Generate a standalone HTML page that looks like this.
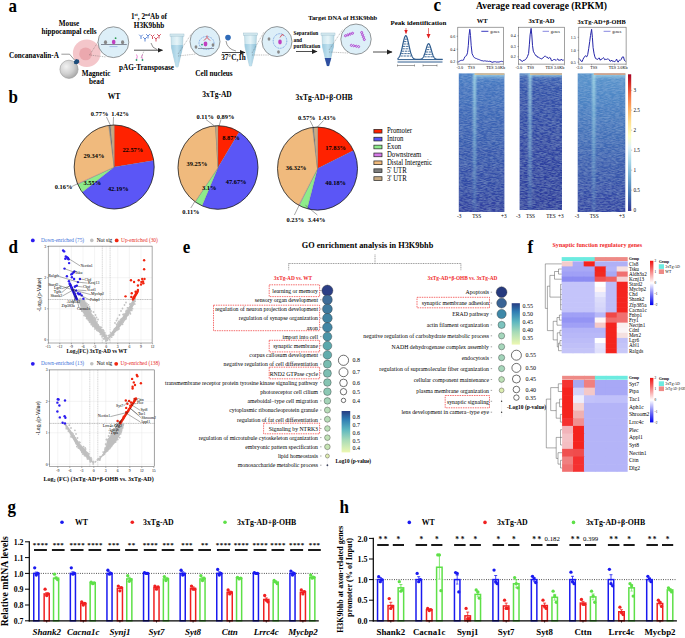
<!DOCTYPE html>
<html><head><meta charset="utf-8"><style>
html,body{margin:0;padding:0;background:#fff;width:685px;height:638px;overflow:hidden}
svg{display:block}
text{font-family:"Liberation Serif", serif;font-weight:bold}
</style></head><body>
<svg width="685" height="638" viewBox="0 0 685 638">
<text x="8.4" y="11.8" font-size="17" transform="matrix(1,0,0,1.1,0,-1.180)">a</text>
<text x="8.5" y="102.6" font-size="17" transform="matrix(1,0,0,1.1,0,-10.260)">b</text>
<text x="433.6" y="11.0" font-size="17" transform="matrix(1,0,0,1.1,0,-1.100)">c</text>
<text x="8.6" y="252.7" font-size="17" transform="matrix(1,0,0,1.1,0,-25.270)">d</text>
<text x="182.8" y="252.9" font-size="17" transform="matrix(1,0,0,1.1,0,-25.290)">e</text>
<text x="527.6" y="252.7" font-size="17" transform="matrix(1,0,0,1.1,0,-25.270)">f</text>
<text x="7.6" y="513.2" font-size="17" transform="matrix(1,0,0,1.1,0,-51.320)">g</text>
<text x="339.6" y="513.5" font-size="17" transform="matrix(1,0,0,1.1,0,-51.350)">h</text>
<defs>
<radialGradient id="bead" cx="0.35" cy="0.35" r="0.7"><stop offset="0" stop-color="#F2F2F2"/><stop offset="0.6" stop-color="#CFCFCF"/><stop offset="1" stop-color="#A8A8A8"/></radialGradient>
<linearGradient id="tube" x1="0" y1="0" x2="1" y2="0"><stop offset="0" stop-color="#C8E4EE"/><stop offset="0.5" stop-color="#E6F4F8"/><stop offset="1" stop-color="#B8DAE6"/></linearGradient>
<linearGradient id="tubeliq" x1="0" y1="0" x2="1" y2="0"><stop offset="0" stop-color="#9CCBE0"/><stop offset="0.5" stop-color="#BFE0EE"/><stop offset="1" stop-color="#8EC0D8"/></linearGradient>
<marker id="ah" markerWidth="6" markerHeight="6" refX="5" refY="3" orient="auto" markerUnits="userSpaceOnUse"><path d="M0,0.6 L5.5,3 L0,5.4 Z" fill="#222"/></marker>
<marker id="ahr" markerWidth="5" markerHeight="5" refX="4" refY="2.5" orient="auto" markerUnits="userSpaceOnUse"><path d="M0,0.5 L4.5,2.5 L0,4.5 Z" fill="#E02020"/></marker>
</defs>
<text x="69.0" y="26.0" font-size="7.2" text-anchor="middle">Mouse</text>
<text x="69.0" y="34.2" font-size="7.2" text-anchor="middle">hippocampal cells</text>
<text x="34.0" y="58.2" font-size="7.2" text-anchor="middle">Concanavalin-A</text>
<text x="96.0" y="76.2" font-size="7.2" text-anchor="middle">Magnetic</text>
<text x="96.5" y="84.3" font-size="7.2" text-anchor="middle">bead</text>
<text x="149.0" y="18.9" font-size="7.2" text-anchor="middle">1<tspan font-size="4.5" dy="-2.5">st</tspan><tspan dy="2.5">, 2</tspan><tspan font-size="4.5" dy="-2.5">nd</tspan><tspan dy="2.5">Ab of</tspan></text>
<text x="149.0" y="27.6" font-size="7.2" text-anchor="middle">H3K9bhb</text>
<text x="146.5" y="70.0" font-size="7.2" text-anchor="middle">pAG-Transposase</text>
<text x="214.0" y="76.3" font-size="7.2" text-anchor="middle">Cell nucleus</text>
<text x="233.5" y="60.3" font-size="7.2" text-anchor="middle">37°C,1h</text>
<text x="293.5" y="35.2" font-size="5.3">Separation</text>
<text x="293.5" y="41.6" font-size="5.3">and</text>
<text x="293.5" y="48.0" font-size="5.3">purification</text>
<text x="342.7" y="19.8" font-size="7.0" text-anchor="middle" textLength="69" lengthAdjust="spacingAndGlyphs">Target DNA of  H3K9bhb</text>
<text x="418.4" y="25.0" font-size="6.95" text-anchor="middle">Peak identification</text>
<circle cx="86.70" cy="53.30" r="13.80" fill="#F4C6CA" stroke="none" stroke-width="0.5"/>
<circle cx="85.60" cy="53.90" r="6.40" fill="#EBA8AE" stroke="none" stroke-width="0.5"/>
<circle cx="69.00" cy="69.30" r="9.10" fill="url(#bead)" stroke="#9A9A9A" stroke-width="0.6"/>
<path d="M73.8,61.5 l2.2,-2.4 l2.8,0.6 l0.6,2.6 l-2.2,2 l-2.8,-0.4 z" fill="#1E4D7A" stroke="none" stroke-width="0.5"/>
<line x1="61.4" y1="54.2" x2="69.6" y2="54.2" stroke="#333" stroke-width="0.5"/>
<line x1="69.6" y1="54.2" x2="74.5" y2="60.0" stroke="#333" stroke-width="0.5"/>
<line x1="89.5" y1="55.0" x2="102.0" y2="36.0" stroke="#555" stroke-width="0.4" stroke-dasharray="1,0.8"/>
<line x1="89.5" y1="55.0" x2="106.0" y2="57.0" stroke="#555" stroke-width="0.4" stroke-dasharray="1,0.8"/>
<circle cx="113.40" cy="42.20" r="15.40" fill="#DDEFF8" stroke="#555" stroke-width="0.6"/>
<line x1="101.0" y1="44.5" x2="126.8" y2="44.5" stroke="#445" stroke-width="0.6"/>
<ellipse cx="105.5" cy="42.3" rx="1.6" ry="2" fill="#888"/>
<ellipse cx="122.6" cy="42.3" rx="1.6" ry="2" fill="#888"/>
<ellipse cx="113.7" cy="42" rx="1.8" ry="2.2" fill="#C040C0"/>
<circle cx="115.60" cy="38.20" r="0.90" fill="#2A9A50" stroke="none" stroke-width="0.5"/>
<line x1="109.5" y1="46.6" x2="117.5" y2="46.6" stroke="#6A8AD8" stroke-width="0.5"/>
<path d="M141,36.5 l0,2.5 M141,36.5 l-1.8,-1.8 M141,36.5 l1.8,-1.8" fill="none" stroke="#4A78D0" stroke-width="0.9"/>
<path d="M145,39 l0,2.5 M145,39 l-1.8,-1.8 M145,39 l1.8,-1.8" fill="none" stroke="#4A78D0" stroke-width="0.9"/>
<path d="M148,36 l0,2.5 M148,36 l-1.8,-1.8 M148,36 l1.8,-1.8" fill="none" stroke="#4A78D0" stroke-width="0.9"/>
<path d="M152.5,36.5 l0,2.5 M152.5,36.5 l-1.8,-1.8 M152.5,36.5 l1.8,-1.8" fill="none" stroke="#D04050" stroke-width="0.9"/>
<path d="M156,39 l0,2.5 M156,39 l-1.8,-1.8 M156,39 l1.8,-1.8" fill="none" stroke="#D04050" stroke-width="0.9"/>
<path d="M159,36 l0,2.5 M159,36 l-1.8,-1.8 M159,36 l1.8,-1.8" fill="none" stroke="#D04050" stroke-width="0.9"/>
<line x1="134" y1="50.2" x2="162.5" y2="50.2" stroke="#222" stroke-width="0.8" marker-end="url(#ah)"/>
<path d="M151,43 q1,5 6,6.5" fill="none" stroke="#222" stroke-width="0.5"/>
<path d="M136.5,54.5 q1.5,1.5 0,5 M142.5,54.5 q-1.5,1.5 0,5" fill="none" stroke="#E050C0" stroke-width="0.7"/>
<circle cx="136.50" cy="60.00" r="0.90" fill="#2A9A70" stroke="none" stroke-width="0.5"/>
<circle cx="142.50" cy="60.00" r="0.90" fill="#2A9A70" stroke="none" stroke-width="0.5"/>
<line x1="141.0" y1="58.0" x2="144.0" y2="51.0" stroke="#555" stroke-width="0.4" stroke-dasharray="1,0.8"/>
<rect x="170.00" y="34.00" width="14.00" height="2.20" fill="#D8ECF2" stroke="#8FB5C5" stroke-width="0.4"/>
<path d="M171.0,36.2 L183.0,36.2 L182.5,48 L178.0,67 L176.0,67 L171.5,48 Z" fill="url(#tube)" stroke="#8FB5C5" stroke-width="0.4"/>
<path d="M171.2,45 L182.8,45 L182.5,48 L178.0,67 L176.0,67 L171.5,48 Z" fill="url(#tubeliq)" stroke="none" stroke-width="0.5"/>
<rect x="243.50" y="33.00" width="14.00" height="2.20" fill="#D8ECF2" stroke="#8FB5C5" stroke-width="0.4"/>
<path d="M244.5,35.2 L256.5,35.2 L256,47 L251.5,66 L249.5,66 L245,47 Z" fill="url(#tube)" stroke="#8FB5C5" stroke-width="0.4"/>
<path d="M244.7,44 L256.3,44 L256,47 L251.5,66 L249.5,66 L245,47 Z" fill="url(#tubeliq)" stroke="none" stroke-width="0.5"/>
<rect x="321.00" y="33.00" width="14.00" height="2.20" fill="#D8ECF2" stroke="#8FB5C5" stroke-width="0.4"/>
<path d="M322.0,35.2 L334.0,35.2 L333.5,47 L329.0,66 L327.0,66 L322.5,47 Z" fill="url(#tube)" stroke="#8FB5C5" stroke-width="0.4"/>
<path d="M322.2,44 L333.8,44 L333.5,47 L329.0,66 L327.0,66 L322.5,47 Z" fill="url(#tubeliq)" stroke="none" stroke-width="0.5"/>
<path d="M324.7,58 L331.3,58 L329.0,66 L327.0,66 Z" fill="#2E4EA0" stroke="none" stroke-width="0.5"/>
<line x1="178.0" y1="54.0" x2="192.0" y2="33.0" stroke="#555" stroke-width="0.4" stroke-dasharray="1,0.8"/>
<line x1="178.0" y1="56.0" x2="196.0" y2="54.0" stroke="#555" stroke-width="0.4" stroke-dasharray="1,0.8"/>
<line x1="252.0" y1="53.0" x2="264.0" y2="32.0" stroke="#555" stroke-width="0.4" stroke-dasharray="1,0.8"/>
<line x1="252.0" y1="55.0" x2="269.0" y2="55.0" stroke="#555" stroke-width="0.4" stroke-dasharray="1,0.8"/>
<line x1="329.0" y1="50.0" x2="343.0" y2="29.0" stroke="#555" stroke-width="0.4" stroke-dasharray="1,0.8"/>
<line x1="329.0" y1="52.0" x2="348.0" y2="53.0" stroke="#555" stroke-width="0.4" stroke-dasharray="1,0.8"/>
<circle cx="205.00" cy="41.60" r="15.00" fill="#DDEFF8" stroke="#555" stroke-width="0.6"/>
<ellipse cx="206.5" cy="43" rx="7.5" ry="6.5" fill="none" stroke="#3A70D0" stroke-width="0.6" stroke-dasharray="1,0.7"/>
<ellipse cx="196" cy="47" rx="1.4" ry="1.8" fill="#888"/>
<ellipse cx="213" cy="45" rx="1.4" ry="1.8" fill="#888"/>
<ellipse cx="205.5" cy="44" rx="1.9" ry="2.4" fill="#C040C0"/>
<path d="M204,40.5 l3,-3 l3,3 M207,37.5 l0,-2" fill="none" stroke="#D03040" stroke-width="0.8"/>
<circle cx="202.00" cy="44.60" r="0.90" fill="#2A9A70" stroke="none" stroke-width="0.5"/>
<line x1="198.0" y1="48.5" x2="214.0" y2="48.5" stroke="#445" stroke-width="0.5"/>
<circle cx="277.00" cy="41.60" r="15.00" fill="#DDEFF8" stroke="#555" stroke-width="0.6"/>
<ellipse cx="280" cy="41" rx="6.8" ry="7.3" fill="none" stroke="#3A70D0" stroke-width="0.6" stroke-dasharray="1,0.7"/>
<ellipse cx="280" cy="42" rx="1.8" ry="2.4" fill="#C040C0"/>
<path d="M280,37.5 l2,-3 l2,1" fill="none" stroke="#D03040" stroke-width="0.8"/>
<ellipse cx="269" cy="39" rx="1.4" ry="1.8" fill="#888"/>
<ellipse cx="278.5" cy="52" rx="1.4" ry="1.8" fill="#888"/>
<circle cx="356.00" cy="39.20" r="15.20" fill="#DDEFF8" stroke="#555" stroke-width="0.6"/>
<g transform="rotate(-20 349 34.5)"><path d="M344,34.5 q1.25,-2.5 2.5,0 t2.5,0 t2.5,0 t2.5,0 M344,34.5 q1.25,2.5 2.5,0 t2.5,0 t2.5,0 t2.5,0" fill="none" stroke="#B040D0" stroke-width="0.8"/></g>
<g transform="rotate(70 363 36)"><path d="M358,36 q1.25,-2.5 2.5,0 t2.5,0 t2.5,0 t2.5,0 M358,36 q1.25,2.5 2.5,0 t2.5,0 t2.5,0 t2.5,0" fill="none" stroke="#B040D0" stroke-width="0.8"/></g>
<g transform="rotate(10 355 46)"><path d="M350,46 q1.25,-2.5 2.5,0 t2.5,0 t2.5,0 t2.5,0 M350,46 q1.25,2.5 2.5,0 t2.5,0 t2.5,0 t2.5,0" fill="none" stroke="#B040D0" stroke-width="0.8"/></g>
<circle cx="228.00" cy="37.60" r="2.80" fill="#2F6BB8" stroke="none" stroke-width="0.5"/>
<path d="M226,41 q1,8 10,10" fill="none" stroke="#333" stroke-width="0.5"/>
<line x1="222" y1="52.5" x2="245" y2="52.5" stroke="#222" stroke-width="0.8" marker-end="url(#ah)"/>
<line x1="296" y1="51.5" x2="317" y2="51.5" stroke="#222" stroke-width="0.8" marker-end="url(#ah)"/>
<line x1="373" y1="52" x2="392" y2="52" stroke="#222" stroke-width="0.8" marker-end="url(#ah)"/>
<line x1="404.7" y1="39.2" x2="406.9" y2="39.2" stroke="#2E5C8E" stroke-width="0.9" stroke-dasharray="2.4,0.7"/>
<line x1="404.0" y1="41.6" x2="407.6" y2="41.6" stroke="#2E5C8E" stroke-width="0.9" stroke-dasharray="2.4,0.7"/>
<line x1="403.5" y1="44.0" x2="408.1" y2="44.0" stroke="#2E5C8E" stroke-width="0.9" stroke-dasharray="2.4,0.7"/>
<line x1="403.0" y1="46.4" x2="408.6" y2="46.4" stroke="#2E5C8E" stroke-width="0.9" stroke-dasharray="2.4,0.7"/>
<line x1="402.4" y1="48.8" x2="409.2" y2="48.8" stroke="#2E5C8E" stroke-width="0.9" stroke-dasharray="2.4,0.7"/>
<line x1="401.9" y1="51.2" x2="409.7" y2="51.2" stroke="#2E5C8E" stroke-width="0.9" stroke-dasharray="2.4,0.7"/>
<line x1="401.2" y1="53.6" x2="410.4" y2="53.6" stroke="#2E5C8E" stroke-width="0.9" stroke-dasharray="2.4,0.7"/>
<line x1="400.4" y1="56.0" x2="411.2" y2="56.0" stroke="#2E5C8E" stroke-width="0.9" stroke-dasharray="2.4,0.7"/>
<line x1="427.3" y1="47.2" x2="429.9" y2="47.2" stroke="#2E5C8E" stroke-width="0.9" stroke-dasharray="2.4,0.7"/>
<line x1="426.6" y1="49.6" x2="430.6" y2="49.6" stroke="#2E5C8E" stroke-width="0.9" stroke-dasharray="2.4,0.7"/>
<line x1="425.9" y1="52.0" x2="431.3" y2="52.0" stroke="#2E5C8E" stroke-width="0.9" stroke-dasharray="2.4,0.7"/>
<line x1="425.2" y1="54.4" x2="432.0" y2="54.4" stroke="#2E5C8E" stroke-width="0.9" stroke-dasharray="2.4,0.7"/>
<line x1="424.3" y1="56.8" x2="432.9" y2="56.8" stroke="#2E5C8E" stroke-width="0.9" stroke-dasharray="2.4,0.7"/>
<polyline points="397.50,58.74 397.70,58.62 397.91,58.47 398.12,58.30 398.32,58.11 398.52,57.89 398.73,57.64 398.94,57.36 399.14,57.04 399.35,56.69 399.55,56.29 399.75,55.86 399.96,55.38 400.17,54.86 400.37,54.29 400.57,53.67 400.78,53.01 400.99,52.31 401.19,51.56 401.39,50.76 401.60,49.93 401.81,49.07 402.01,48.18 402.21,47.26 402.42,46.32 402.62,45.37 402.83,44.42 403.04,43.48 403.24,42.55 403.44,41.64 403.65,40.77 403.86,39.93 404.06,39.15 404.26,38.43 404.47,37.78 404.68,37.21 404.88,36.72 405.08,36.32 405.29,36.02 405.50,35.81 405.70,35.71 405.90,35.71 406.11,35.82 406.31,36.02 406.52,36.33 406.73,36.73 406.93,37.22 407.13,37.80 407.34,38.45 407.55,39.17 407.75,39.95 407.95,40.79 408.16,41.66 408.37,42.57 408.57,43.50 408.77,44.45 408.98,45.40 409.19,46.34 409.39,47.28 409.60,48.20 409.80,49.09 410.00,49.95 410.21,50.78 410.42,51.57 410.62,52.32 410.82,53.03 411.03,53.69 411.24,54.30 411.44,54.87 411.64,55.39 411.85,55.87 412.06,56.30 412.26,56.70 412.46,57.05 412.67,57.37 412.88,57.65 413.08,57.90 413.29,58.12 413.49,58.31 413.69,58.47 413.90,58.62 414.11,58.75 414.31,58.85 414.51,58.94 414.72,59.02 414.93,59.09 415.13,59.14 415.33,59.19 415.54,59.23 415.75,59.26 415.95,59.29 416.15,59.31 416.36,59.33 416.56,59.34 416.77,59.35 416.98,59.36 417.18,59.37 417.38,59.38 417.59,59.38 417.80,59.39 418.00,59.39 418.20,59.39 418.41,59.39 418.62,59.38 418.82,59.38 419.02,59.37 419.23,59.36 419.44,59.35 419.64,59.34 419.85,59.32 420.05,59.30 420.25,59.27 420.46,59.23 420.67,59.19 420.87,59.14 421.07,59.08 421.28,59.00 421.49,58.91 421.69,58.81 421.89,58.68 422.10,58.53 422.31,58.36 422.51,58.17 422.71,57.94 422.92,57.68 423.12,57.39 423.33,57.06 423.54,56.70 423.74,56.29 423.94,55.85 424.15,55.36 424.36,54.84 424.56,54.27 424.76,53.67 424.97,53.04 425.18,52.38 425.38,51.69 425.58,50.98 425.79,50.27 426.00,49.54 426.20,48.82 426.40,48.12 426.61,47.43 426.81,46.78 427.02,46.17 427.23,45.61 427.43,45.11 427.63,44.67 427.84,44.31 428.05,44.03 428.25,43.83 428.45,43.72 428.66,43.70 428.87,43.78 429.07,43.94 429.27,44.18 429.48,44.51 429.69,44.92 429.89,45.39 430.10,45.93 430.30,46.52 430.50,47.16 430.71,47.83 430.92,48.53 431.12,49.24 431.32,49.97 431.53,50.69 431.74,51.40 431.94,52.10 432.14,52.77 432.35,53.42 432.56,54.03 432.76,54.61 432.96,55.15 433.17,55.65 433.38,56.11 433.58,56.53 433.78,56.92 433.99,57.26 434.19,57.57 434.40,57.84 434.61,58.08 434.81,58.29 435.01,58.47 435.22,58.62 435.43,58.76 435.63,58.87 435.83,58.97 436.04,59.05 436.25,59.11 436.45,59.17 436.65,59.22 436.86,59.25 437.06,59.28 437.27,59.31 437.48,59.33 437.68,59.35 437.88,59.36 438.09,59.37 438.30,59.38 438.50,59.38 438.70,59.39 438.91,59.39 439.12,59.39 439.32,59.39 439.52,59.40 439.73,59.40 439.94,59.40 440.14,59.40 440.35,59.40 440.55,59.40 440.75,59.40 440.96,59.40 441.17,59.40 441.37,59.40 441.57,59.40 441.78,59.40 441.99,59.40 442.19,59.40 442.39,59.40 442.60,59.40" fill="none" stroke="#2E5C8E" stroke-width="1.2"/>
<line x1="397.5" y1="59.6" x2="442.5" y2="59.6" stroke="#2E5C8E" stroke-width="1.0"/>
<line x1="397.5" y1="62.0" x2="442.5" y2="62.0" stroke="#2E5C8E" stroke-width="1.0"/>
<line x1="397.5" y1="65.5" x2="414.5" y2="65.5" stroke="#444" stroke-width="0.5"/>
<line x1="397.5" y1="64.5" x2="397.5" y2="66.5" stroke="#444" stroke-width="0.5"/>
<line x1="414.5" y1="64.5" x2="414.5" y2="66.5" stroke="#444" stroke-width="0.5"/>
<line x1="423.0" y1="65.5" x2="437.0" y2="65.5" stroke="#444" stroke-width="0.5"/>
<line x1="423.0" y1="64.5" x2="423.0" y2="66.5" stroke="#444" stroke-width="0.5"/>
<line x1="437.0" y1="64.5" x2="437.0" y2="66.5" stroke="#444" stroke-width="0.5"/>
<line x1="406" y1="28" x2="406" y2="33.5" stroke="#E02020" stroke-width="0.6" marker-end="url(#ahr)"/>
<line x1="428.5" y1="28" x2="428.5" y2="38" stroke="#E02020" stroke-width="0.6" marker-end="url(#ahr)"/>
<path d="M114.20,167.00 L114.20,125.00 A40,42 0 0 1 153.73,160.61 Z" fill="#FF2200" stroke="#666" stroke-width="0.2"/>
<path d="M114.20,167.00 L153.73,160.61 A40,42 0 0 1 82.20,192.20 Z" fill="#5B56F6" stroke="#666" stroke-width="0.2"/>
<path d="M114.20,167.00 L82.20,192.20 A40,42 0 0 1 77.68,184.14 Z" fill="#8EEB8A" stroke="#666" stroke-width="0.2"/>
<path d="M114.20,167.00 L77.68,184.14 A40,42 0 0 1 77.52,183.75 Z" fill="#D77BE8" stroke="#666" stroke-width="0.2"/>
<path d="M114.20,167.00 L77.52,183.75 A40,42 0 0 1 108.71,125.40 Z" fill="#F0BA7D" stroke="#666" stroke-width="0.2"/>
<path d="M114.20,167.00 L108.71,125.40 A40,42 0 0 1 110.64,125.17 Z" fill="#7E7E7E" stroke="#666" stroke-width="0.2"/>
<path d="M114.20,167.00 L110.64,125.17 A40,42 0 0 1 114.20,125.00 Z" fill="#C8AA82" stroke="#666" stroke-width="0.2"/>
<ellipse cx="114.2" cy="167" rx="40" ry="42" fill="none" stroke="#111" stroke-width="0.7"/>
<path d="M218.00,167.50 L218.00,125.70 A40,41.8 0 0 1 239.16,132.03 Z" fill="#FF2200" stroke="#666" stroke-width="0.2"/>
<path d="M218.00,167.50 L239.16,132.03 A40,41.8 0 0 1 202.02,205.82 Z" fill="#5B56F6" stroke="#666" stroke-width="0.2"/>
<path d="M218.00,167.50 L202.02,205.82 A40,41.8 0 0 1 195.23,201.86 Z" fill="#8EEB8A" stroke="#666" stroke-width="0.2"/>
<path d="M218.00,167.50 L195.23,201.86 A40,41.8 0 0 1 195.00,201.70 Z" fill="#D77BE8" stroke="#666" stroke-width="0.2"/>
<path d="M218.00,167.50 L195.00,201.70 A40,41.8 0 0 1 215.49,125.78 Z" fill="#F0BA7D" stroke="#666" stroke-width="0.2"/>
<path d="M218.00,167.50 L215.49,125.78 A40,41.8 0 0 1 215.76,125.77 Z" fill="#7E7E7E" stroke="#666" stroke-width="0.2"/>
<path d="M218.00,167.50 L215.76,125.77 A40,41.8 0 0 1 218.00,125.70 Z" fill="#C8AA82" stroke="#666" stroke-width="0.2"/>
<ellipse cx="218" cy="167.5" rx="40" ry="41.8" fill="none" stroke="#111" stroke-width="0.7"/>
<path d="M317.50,168.60 L317.50,127.10 A40,41.5 0 0 1 353.51,150.53 Z" fill="#FF2200" stroke="#666" stroke-width="0.2"/>
<path d="M317.50,168.60 L353.51,150.53 A40,41.5 0 0 1 307.19,208.70 Z" fill="#5B56F6" stroke="#666" stroke-width="0.2"/>
<path d="M317.50,168.60 L307.19,208.70 A40,41.5 0 0 1 299.14,205.47 Z" fill="#8EEB8A" stroke="#666" stroke-width="0.2"/>
<path d="M317.50,168.60 L299.14,205.47 A40,41.5 0 0 1 298.63,205.19 Z" fill="#D77BE8" stroke="#666" stroke-width="0.2"/>
<path d="M317.50,168.60 L298.63,205.19 A40,41.5 0 0 1 312.49,127.43 Z" fill="#F0BA7D" stroke="#666" stroke-width="0.2"/>
<path d="M317.50,168.60 L312.49,127.43 A40,41.5 0 0 1 313.91,127.27 Z" fill="#7E7E7E" stroke="#666" stroke-width="0.2"/>
<path d="M317.50,168.60 L313.91,127.27 A40,41.5 0 0 1 317.50,127.10 Z" fill="#C8AA82" stroke="#666" stroke-width="0.2"/>
<ellipse cx="317.5" cy="168.6" rx="40" ry="41.5" fill="none" stroke="#111" stroke-width="0.7"/>
<text x="114.0" y="99.2" font-size="7.6" text-anchor="middle">WT</text>
<text x="217.0" y="97.0" font-size="7.5" text-anchor="middle">3xTg-AD</text>
<text x="324.0" y="99.8" font-size="7.5" text-anchor="middle">3xTg-AD+β-OHB</text>
<text x="132.8" y="152.4" font-size="6.4" text-anchor="middle">22.57%</text>
<text x="118.3" y="190.8" font-size="6.4" text-anchor="middle">42.19%</text>
<text x="93.9" y="158.0" font-size="6.4" text-anchor="middle">29.34%</text>
<text x="92.3" y="184.8" font-size="6.4" text-anchor="middle">3.55%</text>
<text x="63.5" y="189.0" font-size="6.4" text-anchor="middle">0.16%</text>
<text x="99.5" y="116.1" font-size="6.4" text-anchor="middle">0.77%</text>
<text x="120.0" y="116.1" font-size="6.4" text-anchor="middle">1.42%</text>
<text x="231.0" y="140.3" font-size="6.4" text-anchor="middle">8.87%</text>
<text x="236.1" y="184.1" font-size="6.4" text-anchor="middle">47.67%</text>
<text x="197.0" y="166.4" font-size="6.4" text-anchor="middle">39.25%</text>
<text x="209.2" y="190.2" font-size="6.4" text-anchor="middle">3.1%</text>
<text x="190.9" y="214.2" font-size="6.4" text-anchor="middle">0.11%</text>
<text x="205.2" y="118.5" font-size="6.4" text-anchor="middle">0.11%</text>
<text x="225.5" y="118.5" font-size="6.4" text-anchor="middle">0.89%</text>
<text x="335.6" y="149.7" font-size="6.4" text-anchor="middle">17.83%</text>
<text x="335.6" y="185.3" font-size="6.4" text-anchor="middle">40.18%</text>
<text x="296.1" y="170.4" font-size="6.4" text-anchor="middle">36.32%</text>
<text x="306.7" y="119.5" font-size="6.4" text-anchor="middle">0.57%</text>
<text x="327.0" y="119.5" font-size="6.4" text-anchor="middle">1.43%</text>
<text x="295.3" y="222.2" font-size="6.4" text-anchor="middle">0.23%</text>
<text x="316.6" y="222.2" font-size="6.4" text-anchor="middle">3.44%</text>
<line x1="106.5" y1="117.0" x2="110.5" y2="125.5" stroke="#222" stroke-width="0.4"/>
<line x1="113.5" y1="117.0" x2="113.2" y2="125.0" stroke="#222" stroke-width="0.4"/>
<line x1="72.0" y1="186.5" x2="78.0" y2="183.5" stroke="#222" stroke-width="0.4"/>
<line x1="206.0" y1="119.5" x2="214.5" y2="126.0" stroke="#222" stroke-width="0.4"/>
<line x1="221.0" y1="119.5" x2="219.0" y2="126.0" stroke="#222" stroke-width="0.4"/>
<line x1="190.8" y1="208.0" x2="194.6" y2="201.9" stroke="#222" stroke-width="0.4"/>
<line x1="310.0" y1="120.5" x2="313.5" y2="127.5" stroke="#222" stroke-width="0.4"/>
<line x1="323.5" y1="120.5" x2="317.0" y2="127.5" stroke="#222" stroke-width="0.4"/>
<line x1="294.4" y1="215.0" x2="298.8" y2="206.0" stroke="#222" stroke-width="0.4"/>
<line x1="317.4" y1="215.0" x2="305.5" y2="205.3" stroke="#222" stroke-width="0.4"/>
<rect x="373.90" y="129.35" width="8.10" height="3.70" fill="#FF2200" stroke="#222" stroke-width="0.7"/>
<text x="386.9" y="133.5" font-size="6.75" style="font-weight:normal" transform="matrix(1,0,0,1.08,0,-10.680)">Promoter</text>
<rect x="373.90" y="137.25" width="8.10" height="3.70" fill="#5B56F6" stroke="#222" stroke-width="0.7"/>
<text x="386.9" y="141.4" font-size="6.75" style="font-weight:normal" transform="matrix(1,0,0,1.08,0,-11.312)">Intron</text>
<rect x="373.90" y="145.15" width="8.10" height="3.70" fill="#8EEB8A" stroke="#222" stroke-width="0.7"/>
<text x="386.9" y="149.3" font-size="6.75" style="font-weight:normal" transform="matrix(1,0,0,1.08,0,-11.944)">Exon</text>
<rect x="373.90" y="153.05" width="8.10" height="3.70" fill="#D77BE8" stroke="#222" stroke-width="0.7"/>
<text x="386.9" y="157.2" font-size="6.75" style="font-weight:normal" transform="matrix(1,0,0,1.08,0,-12.576)">Downstream</text>
<rect x="373.90" y="160.95" width="8.10" height="3.70" fill="#F0BA7D" stroke="#222" stroke-width="0.7"/>
<text x="386.9" y="165.1" font-size="6.75" style="font-weight:normal" transform="matrix(1,0,0,1.08,0,-13.208)">Distal Intergenic</text>
<rect x="373.90" y="168.85" width="8.10" height="3.70" fill="#7E7E7E" stroke="#222" stroke-width="0.7"/>
<text x="386.9" y="173.0" font-size="6.75" style="font-weight:normal" transform="matrix(1,0,0,1.08,0,-13.840)">5' UTR</text>
<rect x="373.90" y="176.75" width="8.10" height="3.70" fill="#C8AA82" stroke="#222" stroke-width="0.7"/>
<text x="386.9" y="180.9" font-size="6.75" style="font-weight:normal" transform="matrix(1,0,0,1.08,0,-14.472)">3' UTR</text>
<text x="541.5" y="9.0" font-size="10.5" text-anchor="middle" textLength="131" lengthAdjust="spacingAndGlyphs">Average read coverage (RPKM)</text>
<text x="482.2" y="23.2" font-size="6.6" text-anchor="middle">WT</text>
<text x="541.5" y="23.2" font-size="6.6" text-anchor="middle">3xTg-AD</text>
<text x="601.6" y="23.6" font-size="6.6" text-anchor="middle" textLength="48" lengthAdjust="spacingAndGlyphs">3xTg-AD+β-OHB</text>
<polyline points="458.10,62.20 458.83,61.59 459.57,61.13 460.30,60.70 461.07,60.25 461.85,60.32 462.62,60.33 463.40,60.19 464.15,58.49 464.90,56.73 465.70,56.11 466.50,55.65 467.50,52.80 468.30,45.70 469.00,35.40 469.80,29.30 470.50,35.40 471.20,45.70 472.10,53.80 472.85,55.15 473.60,56.81 474.65,57.88 475.70,58.37 476.45,58.53 477.20,58.86 477.95,59.43 478.70,59.42 479.52,59.76 480.34,60.16 481.16,60.55 481.98,60.70 482.80,60.79 483.62,61.08 484.44,60.85 485.26,60.92 486.08,61.01 486.90,61.30 487.67,61.17 488.45,61.45 489.23,61.26 490.00,61.31 491.00,61.61 492.00,62.30 493.00,62.18 494.00,61.66 494.70,61.74 495.40,61.69 496.10,62.07 497.10,62.00 498.10,62.02 498.97,62.04 499.83,61.78 500.70,61.47 501.53,61.33 502.37,61.57 503.20,61.50" fill="none" stroke="#2A2AB0" stroke-width="1.0" stroke-linejoin="round"/>
<rect x="457.80" y="27.20" width="45.70" height="36.90" fill="none" stroke="#555" stroke-width="0.55"/>
<line x1="456.5" y1="36.3" x2="457.8" y2="36.3" stroke="#444" stroke-width="0.4"/>
<text x="455.2" y="37.7" font-size="4.0" text-anchor="end" style="font-weight:normal">0.6</text>
<line x1="456.5" y1="49.2" x2="457.8" y2="49.2" stroke="#444" stroke-width="0.4"/>
<text x="455.2" y="50.6" font-size="4.0" text-anchor="end" style="font-weight:normal">0.4</text>
<line x1="456.5" y1="62.0" x2="457.8" y2="62.0" stroke="#444" stroke-width="0.4"/>
<text x="455.2" y="63.4" font-size="4.0" text-anchor="end" style="font-weight:normal">0.2</text>
<line x1="481.3" y1="31.3" x2="488.4" y2="31.3" stroke="#3A3AC0" stroke-width="1.0"/>
<text x="490.2" y="32.6" font-size="4.0" style="font-weight:normal">genes</text>
<line x1="457.8" y1="64.1" x2="457.8" y2="65.3" stroke="#444" stroke-width="0.4"/>
<line x1="469.8" y1="64.1" x2="469.8" y2="65.3" stroke="#444" stroke-width="0.4"/>
<line x1="492.0" y1="64.1" x2="492.0" y2="65.3" stroke="#444" stroke-width="0.4"/>
<line x1="503.5" y1="64.1" x2="503.5" y2="65.3" stroke="#444" stroke-width="0.4"/>
<text x="459.8" y="69.1" font-size="4.2" text-anchor="middle" style="font-weight:normal">-3.0</text>
<text x="471.4" y="69.1" font-size="4.2" text-anchor="middle" style="font-weight:normal">TSS</text>
<text x="495.6" y="69.1" font-size="4.2" text-anchor="middle" style="font-weight:normal">TES 3.0Kb</text>
<polyline points="519.30,59.00 520.15,59.93 521.00,60.16 522.20,61.67 523.05,60.51 523.90,60.35 524.80,60.07 525.70,59.41 526.55,58.21 527.40,56.68 528.60,53.50 529.40,44.20 530.10,34.90 531.10,28.40 531.80,34.90 532.50,45.40 533.30,51.20 534.50,53.50 535.35,54.85 536.20,56.00 536.97,55.95 537.73,57.39 538.50,57.28 539.40,57.88 540.30,58.25 541.15,59.10 542.00,58.49 542.90,58.05 543.80,57.14 544.65,56.19 545.50,56.29 546.40,57.05 547.30,57.14 548.15,58.44 549.00,58.04 549.75,57.49 550.50,57.98 551.40,60.65 552.60,60.51 553.45,59.64 554.30,59.46 555.20,59.76 556.10,60.48 556.95,59.57 557.80,58.84 558.70,60.39 559.60,60.18 560.45,60.29 561.30,59.05 562.10,60.16 562.90,60.27 563.70,60.00" fill="none" stroke="#2424A8" stroke-width="1.0" stroke-linejoin="round"/>
<rect x="518.70" y="27.20" width="45.80" height="36.90" fill="none" stroke="#555" stroke-width="0.55"/>
<line x1="517.4" y1="35.8" x2="518.7" y2="35.8" stroke="#444" stroke-width="0.4"/>
<text x="515.8" y="37.2" font-size="4.0" text-anchor="end" style="font-weight:normal">0.4</text>
<line x1="517.4" y1="46.5" x2="518.7" y2="46.5" stroke="#444" stroke-width="0.4"/>
<text x="515.8" y="47.9" font-size="4.0" text-anchor="end" style="font-weight:normal">0.3</text>
<line x1="517.4" y1="56.8" x2="518.7" y2="56.8" stroke="#444" stroke-width="0.4"/>
<text x="515.8" y="58.2" font-size="4.0" text-anchor="end" style="font-weight:normal">0.2</text>
<line x1="542.6" y1="31.3" x2="549.0" y2="31.3" stroke="#8888E0" stroke-width="1.0"/>
<text x="550.8" y="32.6" font-size="4.0" style="font-weight:normal">genes</text>
<line x1="518.7" y1="64.1" x2="518.7" y2="65.3" stroke="#444" stroke-width="0.4"/>
<line x1="531.1" y1="64.1" x2="531.1" y2="65.3" stroke="#444" stroke-width="0.4"/>
<line x1="553.0" y1="64.1" x2="553.0" y2="65.3" stroke="#444" stroke-width="0.4"/>
<line x1="564.5" y1="64.1" x2="564.5" y2="65.3" stroke="#444" stroke-width="0.4"/>
<text x="518.7" y="69.1" font-size="4.2" text-anchor="middle" style="font-weight:normal">-3.0</text>
<text x="530.6" y="69.1" font-size="4.2" text-anchor="middle" style="font-weight:normal">TSS</text>
<text x="554.9" y="69.1" font-size="4.2" text-anchor="middle" style="font-weight:normal">TES 3.0Kb</text>
<polyline points="579.10,58.45 580.10,59.57 581.40,61.43 582.15,61.60 582.90,59.62 583.65,57.99 584.40,57.08 585.40,55.71 586.70,56.87 587.70,54.58 588.70,48.70 589.70,41.60 590.50,35.40 591.60,29.30 592.40,37.50 593.10,47.70 594.10,53.80 594.90,56.90 595.70,58.68 596.70,59.02 597.70,59.42 598.45,58.37 599.20,57.91 600.30,60.25 601.05,58.91 601.80,59.36 602.55,58.51 603.30,57.67 604.10,58.33 604.90,59.92 605.65,59.30 606.40,59.43 607.40,58.98 608.40,58.95 609.20,59.78 610.00,61.24 611.00,60.88 612.00,60.21 612.75,61.55 613.50,61.27 614.30,61.59 615.10,61.55 615.85,60.43 616.60,59.07 617.35,61.14 618.10,62.20 618.90,60.87 619.70,59.96 620.45,60.29 621.20,59.44 622.40,56.91 623.50,56.91 624.30,60.02 625.50,61.50" fill="none" stroke="#2424A8" stroke-width="1.0" stroke-linejoin="round"/>
<rect x="578.80" y="27.20" width="47.30" height="36.90" fill="none" stroke="#555" stroke-width="0.55"/>
<line x1="577.5" y1="37.3" x2="578.8" y2="37.3" stroke="#444" stroke-width="0.4"/>
<text x="575.7" y="38.7" font-size="4.0" text-anchor="end" style="font-weight:normal">1.5</text>
<line x1="577.5" y1="50.3" x2="578.8" y2="50.3" stroke="#444" stroke-width="0.4"/>
<text x="575.7" y="51.7" font-size="4.0" text-anchor="end" style="font-weight:normal">1.0</text>
<line x1="577.5" y1="62.2" x2="578.8" y2="62.2" stroke="#444" stroke-width="0.4"/>
<text x="575.7" y="63.6" font-size="4.0" text-anchor="end" style="font-weight:normal">0.5</text>
<line x1="603.6" y1="31.3" x2="610.5" y2="31.3" stroke="#8888E0" stroke-width="1.0"/>
<text x="612.3" y="32.6" font-size="4.0" style="font-weight:normal">genes</text>
<line x1="578.8" y1="64.1" x2="578.8" y2="65.3" stroke="#444" stroke-width="0.4"/>
<line x1="591.6" y1="64.1" x2="591.6" y2="65.3" stroke="#444" stroke-width="0.4"/>
<line x1="614.6" y1="64.1" x2="614.6" y2="65.3" stroke="#444" stroke-width="0.4"/>
<line x1="626.1" y1="64.1" x2="626.1" y2="65.3" stroke="#444" stroke-width="0.4"/>
<text x="579.3" y="69.1" font-size="4.2" text-anchor="middle" style="font-weight:normal">-3.0</text>
<text x="593.8" y="69.1" font-size="4.2" text-anchor="middle" style="font-weight:normal">TSS</text>
<text x="618.1" y="69.1" font-size="4.2" text-anchor="middle" style="font-weight:normal">TES 3.0Kb</text>
<defs>
<linearGradient id="hm1" x1="0" y1="0" x2="0" y2="1">
<stop offset="0" stop-color="#4C82C6"/><stop offset="0.1" stop-color="#4474BE"/><stop offset="0.4" stop-color="#3B62B2"/><stop offset="0.7" stop-color="#3450A8"/><stop offset="1" stop-color="#3040A0"/></linearGradient>
<linearGradient id="hm2" x1="0" y1="0" x2="0" y2="1">
<stop offset="0" stop-color="#3E68B6"/><stop offset="0.1" stop-color="#3654AA"/><stop offset="0.5" stop-color="#3046A2"/><stop offset="1" stop-color="#2E3C9C"/></linearGradient>
<linearGradient id="hm3" x1="0" y1="0" x2="0" y2="1">
<stop offset="0" stop-color="#5C96CC"/><stop offset="0.15" stop-color="#5088C6"/><stop offset="0.4" stop-color="#4574BA"/><stop offset="0.7" stop-color="#3A5AAC"/><stop offset="1" stop-color="#3242A2"/></linearGradient>
<linearGradient id="tss" x1="0" y1="0" x2="0" y2="1">
<stop offset="0" stop-color="#A8DCE8" stop-opacity="0.95"/><stop offset="0.5" stop-color="#8CC4DC" stop-opacity="0.7"/><stop offset="1" stop-color="#7AB0D4" stop-opacity="0.25"/></linearGradient>
<linearGradient id="cbar" x1="0" y1="1" x2="0" y2="0">
<stop offset="0" stop-color="#313695"/><stop offset="0.12" stop-color="#4575B4"/><stop offset="0.25" stop-color="#74ADD1"/><stop offset="0.37" stop-color="#ABD9E9"/><stop offset="0.47" stop-color="#E0F3F8"/><stop offset="0.55" stop-color="#FFFFBF"/><stop offset="0.65" stop-color="#FEE090"/><stop offset="0.75" stop-color="#FDAE61"/><stop offset="0.85" stop-color="#F46D43"/><stop offset="0.93" stop-color="#D73027"/><stop offset="1" stop-color="#A50026"/></linearGradient>
</defs>
<defs><filter id="nz" x="0" y="0" width="100%" height="100%">
<feTurbulence type="fractalNoise" baseFrequency="0.25 1.3" numOctaves="2" seed="4" result="t"/>
<feColorMatrix in="t" type="matrix" values="0 0 0 0 0.5  0 0 0 0 0.72  0 0 0 0 0.92  0.45 0 0 0 -0.15" result="w"/>
<feComposite in="w" in2="SourceGraphic" operator="in" result="wn"/>
<feMerge><feMergeNode in="SourceGraphic"/><feMergeNode in="wn"/></feMerge></filter>
<filter id="bl" x="-50%" y="0" width="200%" height="100%"><feGaussianBlur stdDeviation="0.9 0"/></filter>
<linearGradient id="toplt" x1="0" y1="0" x2="0" y2="1"><stop offset="0" stop-color="#9CCDE3" stop-opacity="0.9"/><stop offset="1" stop-color="#9CCDE3" stop-opacity="0"/></linearGradient>
</defs>
<rect x="458.80" y="73.40" width="45.60" height="138.60" fill="url(#hm1)" stroke="none" stroke-width="0.5" filter="url(#nz)"/>
<rect x="474.60" y="74.40" width="29.80" height="5.00" fill="url(#toplt)" stroke="none" stroke-width="0.5"/>
<rect x="473.20" y="73.40" width="2.8" height="138.60" fill="url(#tss)" filter="url(#bl)"/>
<rect x="474.60" y="73.40" width="29.80" height="1.30" fill="#F0C080" stroke="none" stroke-width="0.5"/>
<rect x="519.60" y="73.40" width="42.40" height="136.60" fill="url(#hm2)" stroke="none" stroke-width="0.5" filter="url(#nz)"/>
<rect x="530.00" y="74.40" width="32.00" height="4.00" fill="url(#toplt)" stroke="none" stroke-width="0.5"/>
<rect x="519.60" y="73.40" width="10.40" height="4.00" fill="url(#toplt)" stroke="none" stroke-width="0.5" opacity="0.5"/>
<rect x="528.60" y="73.40" width="2.8" height="136.60" fill="url(#tss)" filter="url(#bl)"/>
<rect x="530.00" y="73.40" width="32.00" height="1.30" fill="#F0C080" stroke="none" stroke-width="0.5"/>
<rect x="577.70" y="73.40" width="47.60" height="138.60" fill="url(#hm3)" stroke="none" stroke-width="0.5" filter="url(#nz)"/>
<rect x="593.80" y="74.40" width="31.50" height="5.00" fill="url(#toplt)" stroke="none" stroke-width="0.5"/>
<rect x="592.40" y="73.40" width="2.8" height="138.60" fill="url(#tss)" filter="url(#bl)"/>
<rect x="593.80" y="73.40" width="31.50" height="1.30" fill="#F0A070" stroke="none" stroke-width="0.5"/>
<rect x="628.00" y="74.30" width="3.20" height="136.70" fill="url(#cbar)" stroke="none" stroke-width="0.5"/>
<line x1="631.2" y1="90.4" x2="632.2" y2="90.4" stroke="#333" stroke-width="0.3"/>
<text x="633.4" y="92.1" font-size="5.2" style="font-weight:normal">3</text>
<line x1="631.2" y1="110.2" x2="632.2" y2="110.2" stroke="#333" stroke-width="0.3"/>
<text x="633.4" y="111.9" font-size="5.2" style="font-weight:normal">2.5</text>
<line x1="631.2" y1="130.2" x2="632.2" y2="130.2" stroke="#333" stroke-width="0.3"/>
<text x="633.4" y="131.9" font-size="5.2" style="font-weight:normal">2</text>
<line x1="631.2" y1="150.2" x2="632.2" y2="150.2" stroke="#333" stroke-width="0.3"/>
<text x="633.4" y="151.9" font-size="5.2" style="font-weight:normal">1.5</text>
<line x1="631.2" y1="170.2" x2="632.2" y2="170.2" stroke="#333" stroke-width="0.3"/>
<text x="633.4" y="171.9" font-size="5.2" style="font-weight:normal">1</text>
<line x1="631.2" y1="190.2" x2="632.2" y2="190.2" stroke="#333" stroke-width="0.3"/>
<text x="633.4" y="191.9" font-size="5.2" style="font-weight:normal">0.5</text>
<line x1="631.2" y1="210.0" x2="632.2" y2="210.0" stroke="#333" stroke-width="0.3"/>
<text x="633.4" y="211.7" font-size="5.2" style="font-weight:normal">0</text>
<text x="459.2" y="217.7" font-size="5.3" text-anchor="middle" style="font-weight:normal">-3</text>
<text x="476.7" y="217.7" font-size="5.3" text-anchor="middle" style="font-weight:normal">TSS</text>
<text x="503.9" y="217.7" font-size="5.3" text-anchor="middle" style="font-weight:normal">+3</text>
<text x="518.2" y="217.7" font-size="5.3" text-anchor="middle" style="font-weight:normal">-3</text>
<text x="530.5" y="217.7" font-size="5.3" text-anchor="middle" style="font-weight:normal">TSS</text>
<text x="550.9" y="217.7" font-size="5.3" text-anchor="middle" style="font-weight:normal">TES</text>
<text x="560.9" y="217.7" font-size="5.3" text-anchor="middle" style="font-weight:normal">+3</text>
<text x="576.9" y="217.7" font-size="5.3" text-anchor="middle" style="font-weight:normal">-3</text>
<text x="594.2" y="217.7" font-size="5.3" text-anchor="middle" style="font-weight:normal">TSS</text>
<text x="621.9" y="217.7" font-size="5.3" text-anchor="middle" style="font-weight:normal">+3</text>
<line x1="59.8" y1="246.1" x2="59.8" y2="343.0" stroke="#E4E4E4" stroke-width="0.4"/>
<line x1="71.4" y1="246.1" x2="71.4" y2="343.0" stroke="#E4E4E4" stroke-width="0.4"/>
<line x1="83.0" y1="246.1" x2="83.0" y2="343.0" stroke="#E4E4E4" stroke-width="0.4"/>
<line x1="94.6" y1="246.1" x2="94.6" y2="343.0" stroke="#E4E4E4" stroke-width="0.4"/>
<line x1="106.2" y1="246.1" x2="106.2" y2="343.0" stroke="#E4E4E4" stroke-width="0.4"/>
<line x1="117.8" y1="246.1" x2="117.8" y2="343.0" stroke="#E4E4E4" stroke-width="0.4"/>
<line x1="129.4" y1="246.1" x2="129.4" y2="343.0" stroke="#E4E4E4" stroke-width="0.4"/>
<line x1="141.0" y1="246.1" x2="141.0" y2="343.0" stroke="#E4E4E4" stroke-width="0.4"/>
<line x1="48.2" y1="339.9" x2="152.1" y2="339.9" stroke="#E4E4E4" stroke-width="0.4"/>
<line x1="48.2" y1="308.8" x2="152.1" y2="308.8" stroke="#E4E4E4" stroke-width="0.4"/>
<line x1="48.2" y1="277.7" x2="152.1" y2="277.7" stroke="#E4E4E4" stroke-width="0.4"/>
<line x1="48.2" y1="246.6" x2="152.1" y2="246.6" stroke="#E4E4E4" stroke-width="0.4"/>
<line x1="48.2" y1="299.5" x2="152.1" y2="299.5" stroke="#777" stroke-width="0.45" stroke-dasharray="1.2,0.5"/>
<line x1="102.3" y1="246.1" x2="102.3" y2="343.0" stroke="#999" stroke-width="0.4" stroke-dasharray="1.2,0.6"/>
<line x1="110.1" y1="246.1" x2="110.1" y2="343.0" stroke="#999" stroke-width="0.4" stroke-dasharray="1.2,0.6"/>
<polygon points="77.0,299.0 79.5,304.0 81.7,310.0 84.0,314.5 87.0,319.0 90.5,323.5 94.5,328.0 99.0,332.5 103.0,336.5 106.4,340.5 107.0,336.5 104.0,332.0 101.0,328.0 97.5,323.0 94.5,318.5 92.0,314.0 90.0,310.0 87.5,305.0 84.0,300.0 80.0,299.0" fill="#BEBEBE"/>
<circle cx="77.89" cy="300.09" r="0.90" fill="#C2C2C2" stroke="none" stroke-width="0.5"/>
<circle cx="77.63" cy="300.19" r="0.90" fill="#C2C2C2" stroke="none" stroke-width="0.5"/>
<circle cx="79.09" cy="301.61" r="0.90" fill="#C2C2C2" stroke="none" stroke-width="0.5"/>
<circle cx="77.61" cy="299.03" r="0.90" fill="#C2C2C2" stroke="none" stroke-width="0.5"/>
<circle cx="80.38" cy="308.49" r="0.90" fill="#C2C2C2" stroke="none" stroke-width="0.5"/>
<circle cx="80.65" cy="309.04" r="0.90" fill="#C2C2C2" stroke="none" stroke-width="0.5"/>
<circle cx="80.73" cy="308.65" r="0.90" fill="#C2C2C2" stroke="none" stroke-width="0.5"/>
<circle cx="81.39" cy="307.06" r="0.90" fill="#C2C2C2" stroke="none" stroke-width="0.5"/>
<circle cx="82.07" cy="310.22" r="0.90" fill="#C2C2C2" stroke="none" stroke-width="0.5"/>
<circle cx="82.11" cy="310.99" r="0.90" fill="#C2C2C2" stroke="none" stroke-width="0.5"/>
<circle cx="81.81" cy="310.60" r="0.90" fill="#C2C2C2" stroke="none" stroke-width="0.5"/>
<circle cx="82.42" cy="311.30" r="0.90" fill="#C2C2C2" stroke="none" stroke-width="0.5"/>
<circle cx="86.60" cy="318.50" r="0.90" fill="#C2C2C2" stroke="none" stroke-width="0.5"/>
<circle cx="85.35" cy="315.91" r="0.90" fill="#C2C2C2" stroke="none" stroke-width="0.5"/>
<circle cx="84.09" cy="315.40" r="0.90" fill="#C2C2C2" stroke="none" stroke-width="0.5"/>
<circle cx="86.83" cy="317.58" r="0.90" fill="#C2C2C2" stroke="none" stroke-width="0.5"/>
<circle cx="90.18" cy="322.42" r="0.90" fill="#C2C2C2" stroke="none" stroke-width="0.5"/>
<circle cx="89.67" cy="322.20" r="0.90" fill="#C2C2C2" stroke="none" stroke-width="0.5"/>
<circle cx="88.91" cy="320.53" r="0.90" fill="#C2C2C2" stroke="none" stroke-width="0.5"/>
<circle cx="88.33" cy="319.96" r="0.90" fill="#C2C2C2" stroke="none" stroke-width="0.5"/>
<circle cx="91.27" cy="324.60" r="0.90" fill="#C2C2C2" stroke="none" stroke-width="0.5"/>
<circle cx="93.00" cy="326.44" r="0.90" fill="#C2C2C2" stroke="none" stroke-width="0.5"/>
<circle cx="92.98" cy="325.82" r="0.90" fill="#C2C2C2" stroke="none" stroke-width="0.5"/>
<circle cx="92.06" cy="324.52" r="0.90" fill="#C2C2C2" stroke="none" stroke-width="0.5"/>
<circle cx="95.02" cy="328.97" r="0.90" fill="#C2C2C2" stroke="none" stroke-width="0.5"/>
<circle cx="97.00" cy="330.14" r="0.90" fill="#C2C2C2" stroke="none" stroke-width="0.5"/>
<circle cx="97.53" cy="330.69" r="0.90" fill="#C2C2C2" stroke="none" stroke-width="0.5"/>
<circle cx="97.50" cy="330.00" r="0.90" fill="#C2C2C2" stroke="none" stroke-width="0.5"/>
<circle cx="101.78" cy="334.68" r="0.90" fill="#C2C2C2" stroke="none" stroke-width="0.5"/>
<circle cx="100.47" cy="334.41" r="0.90" fill="#C2C2C2" stroke="none" stroke-width="0.5"/>
<circle cx="102.04" cy="336.78" r="0.90" fill="#C2C2C2" stroke="none" stroke-width="0.5"/>
<circle cx="102.90" cy="336.17" r="0.90" fill="#C2C2C2" stroke="none" stroke-width="0.5"/>
<circle cx="105.78" cy="339.83" r="0.90" fill="#C2C2C2" stroke="none" stroke-width="0.5"/>
<circle cx="103.74" cy="338.80" r="0.90" fill="#C2C2C2" stroke="none" stroke-width="0.5"/>
<circle cx="104.46" cy="338.79" r="0.90" fill="#C2C2C2" stroke="none" stroke-width="0.5"/>
<circle cx="104.42" cy="338.19" r="0.90" fill="#C2C2C2" stroke="none" stroke-width="0.5"/>
<circle cx="106.92" cy="338.53" r="0.90" fill="#C2C2C2" stroke="none" stroke-width="0.5"/>
<circle cx="105.92" cy="338.23" r="0.90" fill="#C2C2C2" stroke="none" stroke-width="0.5"/>
<circle cx="106.64" cy="340.37" r="0.90" fill="#C2C2C2" stroke="none" stroke-width="0.5"/>
<circle cx="107.35" cy="337.81" r="0.90" fill="#C2C2C2" stroke="none" stroke-width="0.5"/>
<circle cx="106.78" cy="335.63" r="0.90" fill="#C2C2C2" stroke="none" stroke-width="0.5"/>
<circle cx="105.98" cy="335.35" r="0.90" fill="#C2C2C2" stroke="none" stroke-width="0.5"/>
<circle cx="104.33" cy="332.48" r="0.90" fill="#C2C2C2" stroke="none" stroke-width="0.5"/>
<circle cx="104.88" cy="333.00" r="0.90" fill="#C2C2C2" stroke="none" stroke-width="0.5"/>
<circle cx="103.56" cy="330.83" r="0.90" fill="#C2C2C2" stroke="none" stroke-width="0.5"/>
<circle cx="103.52" cy="330.84" r="0.90" fill="#C2C2C2" stroke="none" stroke-width="0.5"/>
<circle cx="102.99" cy="329.95" r="0.90" fill="#C2C2C2" stroke="none" stroke-width="0.5"/>
<circle cx="102.71" cy="329.95" r="0.90" fill="#C2C2C2" stroke="none" stroke-width="0.5"/>
<circle cx="101.26" cy="327.47" r="0.90" fill="#C2C2C2" stroke="none" stroke-width="0.5"/>
<circle cx="100.44" cy="327.46" r="0.90" fill="#C2C2C2" stroke="none" stroke-width="0.5"/>
<circle cx="100.16" cy="327.33" r="0.90" fill="#C2C2C2" stroke="none" stroke-width="0.5"/>
<circle cx="97.94" cy="324.73" r="0.90" fill="#C2C2C2" stroke="none" stroke-width="0.5"/>
<circle cx="95.54" cy="319.50" r="0.90" fill="#C2C2C2" stroke="none" stroke-width="0.5"/>
<circle cx="95.05" cy="318.64" r="0.90" fill="#C2C2C2" stroke="none" stroke-width="0.5"/>
<circle cx="97.07" cy="321.83" r="0.90" fill="#C2C2C2" stroke="none" stroke-width="0.5"/>
<circle cx="95.49" cy="320.62" r="0.90" fill="#C2C2C2" stroke="none" stroke-width="0.5"/>
<circle cx="94.03" cy="318.98" r="0.90" fill="#C2C2C2" stroke="none" stroke-width="0.5"/>
<circle cx="92.00" cy="315.13" r="0.90" fill="#C2C2C2" stroke="none" stroke-width="0.5"/>
<circle cx="94.43" cy="317.49" r="0.90" fill="#C2C2C2" stroke="none" stroke-width="0.5"/>
<circle cx="93.06" cy="315.84" r="0.90" fill="#C2C2C2" stroke="none" stroke-width="0.5"/>
<circle cx="89.50" cy="311.00" r="0.90" fill="#C2C2C2" stroke="none" stroke-width="0.5"/>
<circle cx="90.19" cy="309.63" r="0.90" fill="#C2C2C2" stroke="none" stroke-width="0.5"/>
<circle cx="91.02" cy="310.86" r="0.90" fill="#C2C2C2" stroke="none" stroke-width="0.5"/>
<circle cx="90.79" cy="311.72" r="0.90" fill="#C2C2C2" stroke="none" stroke-width="0.5"/>
<circle cx="89.76" cy="308.86" r="0.90" fill="#C2C2C2" stroke="none" stroke-width="0.5"/>
<circle cx="88.88" cy="309.29" r="0.90" fill="#C2C2C2" stroke="none" stroke-width="0.5"/>
<circle cx="89.26" cy="308.24" r="0.90" fill="#C2C2C2" stroke="none" stroke-width="0.5"/>
<circle cx="88.46" cy="304.87" r="0.90" fill="#C2C2C2" stroke="none" stroke-width="0.5"/>
<circle cx="86.52" cy="304.78" r="0.90" fill="#C2C2C2" stroke="none" stroke-width="0.5"/>
<circle cx="84.50" cy="300.63" r="0.90" fill="#C2C2C2" stroke="none" stroke-width="0.5"/>
<circle cx="85.68" cy="302.32" r="0.90" fill="#C2C2C2" stroke="none" stroke-width="0.5"/>
<circle cx="86.91" cy="303.58" r="0.90" fill="#C2C2C2" stroke="none" stroke-width="0.5"/>
<circle cx="82.84" cy="299.09" r="0.90" fill="#C2C2C2" stroke="none" stroke-width="0.5"/>
<circle cx="80.43" cy="298.75" r="0.90" fill="#C2C2C2" stroke="none" stroke-width="0.5"/>
<circle cx="79.90" cy="299.50" r="0.90" fill="#C2C2C2" stroke="none" stroke-width="0.5"/>
<circle cx="82.14" cy="299.19" r="0.90" fill="#C2C2C2" stroke="none" stroke-width="0.5"/>
<polygon points="106.4,340.5 110.0,338.0 114.0,334.0 118.0,329.5 122.0,324.5 126.0,319.0 130.0,312.5 133.5,305.5 136.0,299.0 133.0,299.5 130.5,304.0 128.0,308.5 125.0,313.0 121.5,318.5 118.5,322.5 115.5,327.0 112.0,331.5 108.8,336.5" fill="#BEBEBE"/>
<circle cx="107.29" cy="340.24" r="0.90" fill="#C2C2C2" stroke="none" stroke-width="0.5"/>
<circle cx="109.30" cy="339.61" r="0.90" fill="#C2C2C2" stroke="none" stroke-width="0.5"/>
<circle cx="106.97" cy="339.53" r="0.90" fill="#C2C2C2" stroke="none" stroke-width="0.5"/>
<circle cx="105.86" cy="340.99" r="0.90" fill="#C2C2C2" stroke="none" stroke-width="0.5"/>
<circle cx="113.68" cy="334.59" r="0.90" fill="#C2C2C2" stroke="none" stroke-width="0.5"/>
<circle cx="112.91" cy="335.34" r="0.90" fill="#C2C2C2" stroke="none" stroke-width="0.5"/>
<circle cx="111.84" cy="335.05" r="0.90" fill="#C2C2C2" stroke="none" stroke-width="0.5"/>
<circle cx="111.69" cy="337.04" r="0.90" fill="#C2C2C2" stroke="none" stroke-width="0.5"/>
<circle cx="117.63" cy="329.48" r="0.90" fill="#C2C2C2" stroke="none" stroke-width="0.5"/>
<circle cx="117.67" cy="329.68" r="0.90" fill="#C2C2C2" stroke="none" stroke-width="0.5"/>
<circle cx="116.03" cy="330.37" r="0.90" fill="#C2C2C2" stroke="none" stroke-width="0.5"/>
<circle cx="116.80" cy="329.60" r="0.90" fill="#C2C2C2" stroke="none" stroke-width="0.5"/>
<circle cx="121.83" cy="323.94" r="0.90" fill="#C2C2C2" stroke="none" stroke-width="0.5"/>
<circle cx="118.26" cy="329.05" r="0.90" fill="#C2C2C2" stroke="none" stroke-width="0.5"/>
<circle cx="119.07" cy="328.79" r="0.90" fill="#C2C2C2" stroke="none" stroke-width="0.5"/>
<circle cx="122.54" cy="324.32" r="0.90" fill="#C2C2C2" stroke="none" stroke-width="0.5"/>
<circle cx="122.98" cy="322.47" r="0.90" fill="#C2C2C2" stroke="none" stroke-width="0.5"/>
<circle cx="123.87" cy="320.13" r="0.90" fill="#C2C2C2" stroke="none" stroke-width="0.5"/>
<circle cx="125.60" cy="319.25" r="0.90" fill="#C2C2C2" stroke="none" stroke-width="0.5"/>
<circle cx="123.50" cy="321.33" r="0.90" fill="#C2C2C2" stroke="none" stroke-width="0.5"/>
<circle cx="130.41" cy="313.81" r="0.90" fill="#C2C2C2" stroke="none" stroke-width="0.5"/>
<circle cx="125.99" cy="318.46" r="0.90" fill="#C2C2C2" stroke="none" stroke-width="0.5"/>
<circle cx="129.99" cy="312.93" r="0.90" fill="#C2C2C2" stroke="none" stroke-width="0.5"/>
<circle cx="128.26" cy="314.76" r="0.90" fill="#C2C2C2" stroke="none" stroke-width="0.5"/>
<circle cx="130.67" cy="309.68" r="0.90" fill="#C2C2C2" stroke="none" stroke-width="0.5"/>
<circle cx="131.76" cy="310.45" r="0.90" fill="#C2C2C2" stroke="none" stroke-width="0.5"/>
<circle cx="132.51" cy="308.64" r="0.90" fill="#C2C2C2" stroke="none" stroke-width="0.5"/>
<circle cx="131.06" cy="309.49" r="0.90" fill="#C2C2C2" stroke="none" stroke-width="0.5"/>
<circle cx="134.85" cy="304.07" r="0.90" fill="#C2C2C2" stroke="none" stroke-width="0.5"/>
<circle cx="133.99" cy="303.60" r="0.90" fill="#C2C2C2" stroke="none" stroke-width="0.5"/>
<circle cx="135.10" cy="301.33" r="0.90" fill="#C2C2C2" stroke="none" stroke-width="0.5"/>
<circle cx="133.14" cy="304.68" r="0.90" fill="#C2C2C2" stroke="none" stroke-width="0.5"/>
<circle cx="133.66" cy="298.60" r="0.90" fill="#C2C2C2" stroke="none" stroke-width="0.5"/>
<circle cx="133.76" cy="299.79" r="0.90" fill="#C2C2C2" stroke="none" stroke-width="0.5"/>
<circle cx="135.10" cy="298.69" r="0.90" fill="#C2C2C2" stroke="none" stroke-width="0.5"/>
<circle cx="134.97" cy="298.57" r="0.90" fill="#C2C2C2" stroke="none" stroke-width="0.5"/>
<circle cx="130.10" cy="304.21" r="0.90" fill="#C2C2C2" stroke="none" stroke-width="0.5"/>
<circle cx="131.05" cy="303.64" r="0.90" fill="#C2C2C2" stroke="none" stroke-width="0.5"/>
<circle cx="132.76" cy="300.65" r="0.90" fill="#C2C2C2" stroke="none" stroke-width="0.5"/>
<circle cx="132.90" cy="300.25" r="0.90" fill="#C2C2C2" stroke="none" stroke-width="0.5"/>
<circle cx="127.47" cy="307.80" r="0.90" fill="#C2C2C2" stroke="none" stroke-width="0.5"/>
<circle cx="128.73" cy="308.72" r="0.90" fill="#C2C2C2" stroke="none" stroke-width="0.5"/>
<circle cx="128.79" cy="308.09" r="0.90" fill="#C2C2C2" stroke="none" stroke-width="0.5"/>
<circle cx="129.95" cy="304.25" r="0.90" fill="#C2C2C2" stroke="none" stroke-width="0.5"/>
<circle cx="126.12" cy="311.32" r="0.90" fill="#C2C2C2" stroke="none" stroke-width="0.5"/>
<circle cx="128.55" cy="309.28" r="0.90" fill="#C2C2C2" stroke="none" stroke-width="0.5"/>
<circle cx="126.42" cy="311.53" r="0.90" fill="#C2C2C2" stroke="none" stroke-width="0.5"/>
<circle cx="126.47" cy="310.28" r="0.90" fill="#C2C2C2" stroke="none" stroke-width="0.5"/>
<circle cx="123.34" cy="314.65" r="0.90" fill="#C2C2C2" stroke="none" stroke-width="0.5"/>
<circle cx="123.65" cy="314.59" r="0.90" fill="#C2C2C2" stroke="none" stroke-width="0.5"/>
<circle cx="123.18" cy="314.35" r="0.90" fill="#C2C2C2" stroke="none" stroke-width="0.5"/>
<circle cx="124.62" cy="314.26" r="0.90" fill="#C2C2C2" stroke="none" stroke-width="0.5"/>
<circle cx="120.48" cy="319.68" r="0.90" fill="#C2C2C2" stroke="none" stroke-width="0.5"/>
<circle cx="121.52" cy="318.53" r="0.90" fill="#C2C2C2" stroke="none" stroke-width="0.5"/>
<circle cx="119.45" cy="321.39" r="0.90" fill="#C2C2C2" stroke="none" stroke-width="0.5"/>
<circle cx="118.89" cy="321.42" r="0.90" fill="#C2C2C2" stroke="none" stroke-width="0.5"/>
<circle cx="116.62" cy="324.51" r="0.90" fill="#C2C2C2" stroke="none" stroke-width="0.5"/>
<circle cx="117.47" cy="325.69" r="0.90" fill="#C2C2C2" stroke="none" stroke-width="0.5"/>
<circle cx="117.91" cy="323.02" r="0.90" fill="#C2C2C2" stroke="none" stroke-width="0.5"/>
<circle cx="118.30" cy="323.43" r="0.90" fill="#C2C2C2" stroke="none" stroke-width="0.5"/>
<circle cx="115.37" cy="328.33" r="0.90" fill="#C2C2C2" stroke="none" stroke-width="0.5"/>
<circle cx="114.72" cy="328.96" r="0.90" fill="#C2C2C2" stroke="none" stroke-width="0.5"/>
<circle cx="114.52" cy="329.05" r="0.90" fill="#C2C2C2" stroke="none" stroke-width="0.5"/>
<circle cx="113.99" cy="330.31" r="0.90" fill="#C2C2C2" stroke="none" stroke-width="0.5"/>
<circle cx="109.04" cy="335.78" r="0.90" fill="#C2C2C2" stroke="none" stroke-width="0.5"/>
<circle cx="110.75" cy="332.86" r="0.90" fill="#C2C2C2" stroke="none" stroke-width="0.5"/>
<circle cx="108.86" cy="335.58" r="0.90" fill="#C2C2C2" stroke="none" stroke-width="0.5"/>
<circle cx="109.46" cy="335.11" r="0.90" fill="#C2C2C2" stroke="none" stroke-width="0.5"/>
<circle cx="95.50" cy="315.00" r="0.90" fill="#C4C4C4" stroke="none" stroke-width="0.5"/>
<circle cx="96.50" cy="317.50" r="0.90" fill="#C4C4C4" stroke="none" stroke-width="0.5"/>
<circle cx="93.50" cy="312.00" r="0.90" fill="#C4C4C4" stroke="none" stroke-width="0.5"/>
<circle cx="98.00" cy="319.50" r="0.90" fill="#C4C4C4" stroke="none" stroke-width="0.5"/>
<circle cx="89.50" cy="307.00" r="0.90" fill="#C4C4C4" stroke="none" stroke-width="0.5"/>
<circle cx="121.00" cy="311.00" r="0.90" fill="#C4C4C4" stroke="none" stroke-width="0.5"/>
<circle cx="122.50" cy="308.50" r="0.90" fill="#C4C4C4" stroke="none" stroke-width="0.5"/>
<circle cx="124.50" cy="305.00" r="0.90" fill="#C4C4C4" stroke="none" stroke-width="0.5"/>
<circle cx="126.00" cy="302.50" r="0.90" fill="#C4C4C4" stroke="none" stroke-width="0.5"/>
<circle cx="119.50" cy="315.00" r="0.90" fill="#C4C4C4" stroke="none" stroke-width="0.5"/>
<circle cx="117.50" cy="318.50" r="0.90" fill="#C4C4C4" stroke="none" stroke-width="0.5"/>
<circle cx="116.50" cy="320.50" r="0.90" fill="#C4C4C4" stroke="none" stroke-width="0.5"/>
<circle cx="115.00" cy="323.00" r="0.90" fill="#C4C4C4" stroke="none" stroke-width="0.5"/>
<circle cx="63.10" cy="250.50" r="1.20" fill="#2B1BF0" stroke="none" stroke-width="0.5"/>
<circle cx="64.20" cy="251.40" r="1.20" fill="#2B1BF0" stroke="none" stroke-width="0.5"/>
<circle cx="65.80" cy="256.50" r="1.20" fill="#2B1BF0" stroke="none" stroke-width="0.5"/>
<circle cx="66.90" cy="257.10" r="1.20" fill="#2B1BF0" stroke="none" stroke-width="0.5"/>
<circle cx="68.00" cy="257.90" r="1.20" fill="#2B1BF0" stroke="none" stroke-width="0.5"/>
<circle cx="65.30" cy="258.70" r="1.20" fill="#2B1BF0" stroke="none" stroke-width="0.5"/>
<circle cx="68.60" cy="259.30" r="1.20" fill="#2B1BF0" stroke="none" stroke-width="0.5"/>
<circle cx="69.10" cy="263.10" r="1.20" fill="#2B1BF0" stroke="none" stroke-width="0.5"/>
<circle cx="64.50" cy="268.60" r="1.20" fill="#2B1BF0" stroke="none" stroke-width="0.5"/>
<circle cx="74.40" cy="271.50" r="1.20" fill="#2B1BF0" stroke="none" stroke-width="0.5"/>
<circle cx="72.20" cy="273.70" r="1.20" fill="#2B1BF0" stroke="none" stroke-width="0.5"/>
<circle cx="71.30" cy="274.40" r="1.20" fill="#2B1BF0" stroke="none" stroke-width="0.5"/>
<circle cx="66.90" cy="276.30" r="1.20" fill="#2B1BF0" stroke="none" stroke-width="0.5"/>
<circle cx="71.90" cy="277.30" r="1.20" fill="#2B1BF0" stroke="none" stroke-width="0.5"/>
<circle cx="74.10" cy="279.00" r="1.20" fill="#2B1BF0" stroke="none" stroke-width="0.5"/>
<circle cx="79.90" cy="279.00" r="1.20" fill="#2B1BF0" stroke="none" stroke-width="0.5"/>
<circle cx="68.90" cy="281.20" r="1.20" fill="#2B1BF0" stroke="none" stroke-width="0.5"/>
<circle cx="77.90" cy="282.10" r="1.20" fill="#2B1BF0" stroke="none" stroke-width="0.5"/>
<circle cx="75.70" cy="286.10" r="1.20" fill="#2B1BF0" stroke="none" stroke-width="0.5"/>
<circle cx="74.80" cy="286.70" r="1.20" fill="#2B1BF0" stroke="none" stroke-width="0.5"/>
<circle cx="76.80" cy="285.60" r="1.20" fill="#2B1BF0" stroke="none" stroke-width="0.5"/>
<circle cx="76.20" cy="290.50" r="1.20" fill="#2B1BF0" stroke="none" stroke-width="0.5"/>
<circle cx="77.90" cy="293.20" r="1.20" fill="#2B1BF0" stroke="none" stroke-width="0.5"/>
<circle cx="80.10" cy="293.80" r="1.20" fill="#2B1BF0" stroke="none" stroke-width="0.5"/>
<circle cx="81.70" cy="295.40" r="1.20" fill="#2B1BF0" stroke="none" stroke-width="0.5"/>
<circle cx="83.40" cy="298.70" r="1.20" fill="#2B1BF0" stroke="none" stroke-width="0.5"/>
<circle cx="79.00" cy="294.30" r="1.20" fill="#2B1BF0" stroke="none" stroke-width="0.5"/>
<circle cx="67.50" cy="258.50" r="1.20" fill="#2B1BF0" stroke="none" stroke-width="0.5"/>
<circle cx="73.50" cy="272.50" r="1.20" fill="#2B1BF0" stroke="none" stroke-width="0.5"/>
<circle cx="69.70" cy="283.40" r="1.20" fill="#2B1BF0" stroke="none" stroke-width="0.5"/>
<circle cx="70.04" cy="284.16" r="1.20" fill="#2B1BF0" stroke="none" stroke-width="0.5"/>
<circle cx="70.38" cy="284.91" r="1.20" fill="#2B1BF0" stroke="none" stroke-width="0.5"/>
<circle cx="70.71" cy="285.67" r="1.20" fill="#2B1BF0" stroke="none" stroke-width="0.5"/>
<circle cx="71.05" cy="286.43" r="1.20" fill="#2B1BF0" stroke="none" stroke-width="0.5"/>
<circle cx="71.39" cy="287.19" r="1.20" fill="#2B1BF0" stroke="none" stroke-width="0.5"/>
<circle cx="71.73" cy="287.94" r="1.20" fill="#2B1BF0" stroke="none" stroke-width="0.5"/>
<circle cx="72.07" cy="288.70" r="1.20" fill="#2B1BF0" stroke="none" stroke-width="0.5"/>
<circle cx="72.40" cy="289.46" r="1.20" fill="#2B1BF0" stroke="none" stroke-width="0.5"/>
<circle cx="72.74" cy="290.21" r="1.20" fill="#2B1BF0" stroke="none" stroke-width="0.5"/>
<circle cx="73.08" cy="290.97" r="1.20" fill="#2B1BF0" stroke="none" stroke-width="0.5"/>
<circle cx="73.42" cy="291.73" r="1.20" fill="#2B1BF0" stroke="none" stroke-width="0.5"/>
<circle cx="73.76" cy="292.49" r="1.20" fill="#2B1BF0" stroke="none" stroke-width="0.5"/>
<circle cx="74.10" cy="293.24" r="1.20" fill="#2B1BF0" stroke="none" stroke-width="0.5"/>
<circle cx="74.43" cy="294.00" r="1.20" fill="#2B1BF0" stroke="none" stroke-width="0.5"/>
<circle cx="74.77" cy="294.76" r="1.20" fill="#2B1BF0" stroke="none" stroke-width="0.5"/>
<circle cx="75.11" cy="295.51" r="1.20" fill="#2B1BF0" stroke="none" stroke-width="0.5"/>
<circle cx="75.45" cy="296.27" r="1.20" fill="#2B1BF0" stroke="none" stroke-width="0.5"/>
<circle cx="75.79" cy="297.03" r="1.20" fill="#2B1BF0" stroke="none" stroke-width="0.5"/>
<circle cx="76.12" cy="297.79" r="1.20" fill="#2B1BF0" stroke="none" stroke-width="0.5"/>
<circle cx="76.46" cy="298.54" r="1.20" fill="#2B1BF0" stroke="none" stroke-width="0.5"/>
<circle cx="76.80" cy="299.30" r="1.20" fill="#2B1BF0" stroke="none" stroke-width="0.5"/>
<circle cx="144.13" cy="260.28" r="1.20" fill="#F0250F" stroke="none" stroke-width="0.5"/>
<circle cx="144.13" cy="269.30" r="1.20" fill="#F0250F" stroke="none" stroke-width="0.5"/>
<circle cx="142.19" cy="278.94" r="1.20" fill="#F0250F" stroke="none" stroke-width="0.5"/>
<circle cx="144.51" cy="278.94" r="1.20" fill="#F0250F" stroke="none" stroke-width="0.5"/>
<circle cx="130.97" cy="280.19" r="1.20" fill="#F0250F" stroke="none" stroke-width="0.5"/>
<circle cx="138.71" cy="280.19" r="1.20" fill="#F0250F" stroke="none" stroke-width="0.5"/>
<circle cx="134.06" cy="282.05" r="1.20" fill="#F0250F" stroke="none" stroke-width="0.5"/>
<circle cx="141.42" cy="282.05" r="1.20" fill="#F0250F" stroke="none" stroke-width="0.5"/>
<circle cx="141.03" cy="284.54" r="1.20" fill="#F0250F" stroke="none" stroke-width="0.5"/>
<circle cx="137.93" cy="285.47" r="1.20" fill="#F0250F" stroke="none" stroke-width="0.5"/>
<circle cx="142.97" cy="281.43" r="1.20" fill="#F0250F" stroke="none" stroke-width="0.5"/>
<circle cx="143.35" cy="283.30" r="1.20" fill="#F0250F" stroke="none" stroke-width="0.5"/>
<circle cx="135.61" cy="291.69" r="1.20" fill="#F0250F" stroke="none" stroke-width="0.5"/>
<circle cx="131.74" cy="293.25" r="1.20" fill="#F0250F" stroke="none" stroke-width="0.5"/>
<circle cx="125.55" cy="296.36" r="1.20" fill="#F0250F" stroke="none" stroke-width="0.5"/>
<circle cx="131.36" cy="296.98" r="1.20" fill="#F0250F" stroke="none" stroke-width="0.5"/>
<circle cx="134.06" cy="297.29" r="1.20" fill="#F0250F" stroke="none" stroke-width="0.5"/>
<circle cx="136.77" cy="292.63" r="1.20" fill="#F0250F" stroke="none" stroke-width="0.5"/>
<circle cx="132.90" cy="299.38" r="1.20" fill="#F0250F" stroke="none" stroke-width="0.5"/>
<circle cx="133.29" cy="298.92" r="1.20" fill="#F0250F" stroke="none" stroke-width="0.5"/>
<circle cx="133.68" cy="297.63" r="1.20" fill="#F0250F" stroke="none" stroke-width="0.5"/>
<circle cx="134.06" cy="297.68" r="1.20" fill="#F0250F" stroke="none" stroke-width="0.5"/>
<circle cx="134.45" cy="296.43" r="1.20" fill="#F0250F" stroke="none" stroke-width="0.5"/>
<circle cx="134.84" cy="295.98" r="1.20" fill="#F0250F" stroke="none" stroke-width="0.5"/>
<circle cx="135.22" cy="295.69" r="1.20" fill="#F0250F" stroke="none" stroke-width="0.5"/>
<circle cx="135.61" cy="294.46" r="1.20" fill="#F0250F" stroke="none" stroke-width="0.5"/>
<circle cx="136.00" cy="294.38" r="1.20" fill="#F0250F" stroke="none" stroke-width="0.5"/>
<circle cx="136.39" cy="293.21" r="1.20" fill="#F0250F" stroke="none" stroke-width="0.5"/>
<circle cx="136.77" cy="293.00" r="1.20" fill="#F0250F" stroke="none" stroke-width="0.5"/>
<circle cx="137.16" cy="292.30" r="1.20" fill="#F0250F" stroke="none" stroke-width="0.5"/>
<circle cx="137.55" cy="291.21" r="1.20" fill="#F0250F" stroke="none" stroke-width="0.5"/>
<circle cx="137.93" cy="290.04" r="1.20" fill="#F0250F" stroke="none" stroke-width="0.5"/>
<line x1="68.5" y1="258.5" x2="80.0" y2="265.8" stroke="#111" stroke-width="0.35"/>
<text x="80.5" y="267.2" font-size="3.9" style="font-weight:normal">Nectin1</text>
<line x1="64.8" y1="268.8" x2="74.5" y2="272.3" stroke="#111" stroke-width="0.35"/>
<text x="74.9" y="273.6" font-size="3.9" style="font-weight:normal">Tsku</text>
<line x1="59.6" y1="276.6" x2="77.9" y2="282.1" stroke="#111" stroke-width="0.35"/>
<text x="59.3" y="277.2" font-size="3.9" text-anchor="end" style="font-weight:normal">Ralgds</text>
<line x1="84.3" y1="279.6" x2="80.2" y2="279.1" stroke="#111" stroke-width="0.35"/>
<text x="84.6" y="280.6" font-size="3.9" style="font-weight:normal">Chd</text>
<line x1="87.6" y1="283.1" x2="78.2" y2="282.2" stroke="#111" stroke-width="0.35"/>
<text x="87.9" y="283.9" font-size="3.9" style="font-weight:normal">Kcnj13</text>
<line x1="82.6" y1="287.0" x2="76.0" y2="286.1" stroke="#111" stroke-width="0.35"/>
<text x="82.9" y="287.5" font-size="3.9" style="font-weight:normal">Cbsf</text>
<line x1="58.6" y1="285.3" x2="76.5" y2="291.0" stroke="#111" stroke-width="0.35"/>
<text x="58.3" y="285.9" font-size="3.9" text-anchor="end" style="font-weight:normal">Stard2</text>
<line x1="61.8" y1="288.8" x2="71.5" y2="285.5" stroke="#111" stroke-width="0.35"/>
<text x="61.5" y="289.4" font-size="3.9" text-anchor="end" style="font-weight:normal">Lgr6</text>
<line x1="86.5" y1="290.7" x2="78.0" y2="290.0" stroke="#111" stroke-width="0.35"/>
<text x="86.8" y="291.3" font-size="3.9" style="font-weight:normal">Vezf1</text>
<line x1="90.8" y1="294.6" x2="76.5" y2="290.8" stroke="#111" stroke-width="0.35"/>
<text x="91.1" y="295.2" font-size="3.9" style="font-weight:normal">Mycbp2</text>
<line x1="61.6" y1="292.7" x2="70.5" y2="285.0" stroke="#111" stroke-width="0.35"/>
<text x="61.3" y="293.3" font-size="3.9" text-anchor="end" style="font-weight:normal">Tgfb</text>
<line x1="62.4" y1="296.0" x2="75.0" y2="289.0" stroke="#111" stroke-width="0.35"/>
<text x="62.1" y="296.6" font-size="3.9" text-anchor="end" style="font-weight:normal">Shank2</text>
<line x1="89.8" y1="300.0" x2="79.2" y2="294.5" stroke="#111" stroke-width="0.35"/>
<text x="90.1" y="300.7" font-size="3.9" style="font-weight:normal">Fnbp1</text>
<line x1="75.0" y1="301.3" x2="72.5" y2="287.0" stroke="#111" stroke-width="0.35"/>
<text x="80.2" y="302.9" font-size="3.9" text-anchor="end" style="font-weight:normal">Aldh3a2</text>
<line x1="72.5" y1="305.5" x2="76.0" y2="296.0" stroke="#111" stroke-width="0.35"/>
<text x="74.7" y="307.3" font-size="3.9" text-anchor="end" style="font-weight:normal">Zfp385a</text>
<line x1="79.0" y1="307.8" x2="74.5" y2="289.0" stroke="#111" stroke-width="0.35"/>
<text x="76.9" y="310.0" font-size="3.9" style="font-weight:normal">Cacna1c</text>
<rect x="48.20" y="246.10" width="103.90" height="96.90" fill="none" stroke="#555" stroke-width="0.5"/>
<line x1="48.1" y1="343.0" x2="48.1" y2="344.3" stroke="#444" stroke-width="0.4"/>
<text x="48.1" y="348.0" font-size="3.8" text-anchor="middle" style="font-weight:normal">-15</text>
<line x1="59.8" y1="343.0" x2="59.8" y2="344.3" stroke="#444" stroke-width="0.4"/>
<text x="59.8" y="348.0" font-size="3.8" text-anchor="middle" style="font-weight:normal">-12</text>
<line x1="71.4" y1="343.0" x2="71.4" y2="344.3" stroke="#444" stroke-width="0.4"/>
<text x="71.4" y="348.0" font-size="3.8" text-anchor="middle" style="font-weight:normal">-9</text>
<line x1="83.0" y1="343.0" x2="83.0" y2="344.3" stroke="#444" stroke-width="0.4"/>
<text x="83.0" y="348.0" font-size="3.8" text-anchor="middle" style="font-weight:normal">-6</text>
<line x1="94.6" y1="343.0" x2="94.6" y2="344.3" stroke="#444" stroke-width="0.4"/>
<text x="94.6" y="348.0" font-size="3.8" text-anchor="middle" style="font-weight:normal">-3</text>
<line x1="106.2" y1="343.0" x2="106.2" y2="344.3" stroke="#444" stroke-width="0.4"/>
<text x="106.2" y="348.0" font-size="3.8" text-anchor="middle" style="font-weight:normal">0</text>
<line x1="117.8" y1="343.0" x2="117.8" y2="344.3" stroke="#444" stroke-width="0.4"/>
<text x="117.8" y="348.0" font-size="3.8" text-anchor="middle" style="font-weight:normal">3</text>
<line x1="129.4" y1="343.0" x2="129.4" y2="344.3" stroke="#444" stroke-width="0.4"/>
<text x="129.4" y="348.0" font-size="3.8" text-anchor="middle" style="font-weight:normal">6</text>
<line x1="141.0" y1="343.0" x2="141.0" y2="344.3" stroke="#444" stroke-width="0.4"/>
<text x="141.0" y="348.0" font-size="3.8" text-anchor="middle" style="font-weight:normal">9</text>
<line x1="152.6" y1="343.0" x2="152.6" y2="344.3" stroke="#444" stroke-width="0.4"/>
<text x="152.6" y="348.0" font-size="3.8" text-anchor="middle" style="font-weight:normal">12</text>
<line x1="46.9" y1="339.9" x2="48.2" y2="339.9" stroke="#444" stroke-width="0.4"/>
<text x="46.2" y="341.3" font-size="3.8" text-anchor="end" style="font-weight:normal">0</text>
<line x1="46.9" y1="308.8" x2="48.2" y2="308.8" stroke="#444" stroke-width="0.4"/>
<text x="46.2" y="310.2" font-size="3.8" text-anchor="end" style="font-weight:normal">1</text>
<line x1="46.9" y1="277.7" x2="48.2" y2="277.7" stroke="#444" stroke-width="0.4"/>
<text x="46.2" y="279.1" font-size="3.8" text-anchor="end" style="font-weight:normal">2</text>
<line x1="46.9" y1="246.6" x2="48.2" y2="246.6" stroke="#444" stroke-width="0.4"/>
<text x="46.2" y="248.0" font-size="3.8" text-anchor="end" style="font-weight:normal">3</text>
<circle cx="32.80" cy="240.40" r="1.90" fill="#2B1BF0" stroke="none" stroke-width="0.5"/>
<text x="41.0" y="242.0" font-size="5.3" style="font-weight:normal" fill="#3D6FD8">Down-enriched  (75)</text>
<circle cx="91.80" cy="240.40" r="1.80" fill="#C0C0C0" stroke="none" stroke-width="0.5"/>
<text x="96.8" y="242.0" font-size="5.3" style="font-weight:normal">Not sig</text>
<circle cx="116.70" cy="240.40" r="1.90" fill="#F0250F" stroke="none" stroke-width="0.5"/>
<text x="121.1" y="242.0" font-size="5.3" style="font-weight:normal" fill="#E8281C">Up-enriched (30)</text>
<text x="96.8" y="353.0" font-size="5.4" text-anchor="middle">Log<tspan font-size="4" dy="1.2">2</tspan><tspan dy="-1.2">(FC)  3xTg-AD vs WT</tspan></text>
<text x="40.5" y="294.6" font-size="5.3" text-anchor="middle" style="font-weight:normal" transform="rotate(-90 40.5 294.55)">-Log<tspan font-size="3.5" dy="1">10</tspan><tspan dy="-1">(p-Value)</tspan></text>
<line x1="57.8" y1="369.9" x2="57.8" y2="466.7" stroke="#E4E4E4" stroke-width="0.4"/>
<line x1="69.8" y1="369.9" x2="69.8" y2="466.7" stroke="#E4E4E4" stroke-width="0.4"/>
<line x1="81.8" y1="369.9" x2="81.8" y2="466.7" stroke="#E4E4E4" stroke-width="0.4"/>
<line x1="93.8" y1="369.9" x2="93.8" y2="466.7" stroke="#E4E4E4" stroke-width="0.4"/>
<line x1="105.8" y1="369.9" x2="105.8" y2="466.7" stroke="#E4E4E4" stroke-width="0.4"/>
<line x1="117.8" y1="369.9" x2="117.8" y2="466.7" stroke="#E4E4E4" stroke-width="0.4"/>
<line x1="129.8" y1="369.9" x2="129.8" y2="466.7" stroke="#E4E4E4" stroke-width="0.4"/>
<line x1="141.8" y1="369.9" x2="141.8" y2="466.7" stroke="#E4E4E4" stroke-width="0.4"/>
<line x1="153.8" y1="369.9" x2="153.8" y2="466.7" stroke="#E4E4E4" stroke-width="0.4"/>
<line x1="49.6" y1="464.2" x2="154.4" y2="464.2" stroke="#E4E4E4" stroke-width="0.4"/>
<line x1="49.6" y1="432.8" x2="154.4" y2="432.8" stroke="#E4E4E4" stroke-width="0.4"/>
<line x1="49.6" y1="401.4" x2="154.4" y2="401.4" stroke="#E4E4E4" stroke-width="0.4"/>
<line x1="49.6" y1="370.0" x2="154.4" y2="370.0" stroke="#E4E4E4" stroke-width="0.4"/>
<line x1="49.6" y1="423.4" x2="154.4" y2="423.4" stroke="#777" stroke-width="0.45" stroke-dasharray="1.2,0.5"/>
<line x1="89.8" y1="369.9" x2="89.8" y2="466.7" stroke="#999" stroke-width="0.4" stroke-dasharray="1.2,0.6"/>
<line x1="97.8" y1="369.9" x2="97.8" y2="466.7" stroke="#999" stroke-width="0.4" stroke-dasharray="1.2,0.6"/>
<polygon points="63.2,422.7 68.3,431.3 75.4,443.6 81.6,452.8 87.7,458.9 93.6,463.8 90.8,457.9 85.7,449.7 80.5,444.6 74.4,435.4 65.2,422.7" fill="#BEBEBE"/>
<circle cx="68.79" cy="430.21" r="0.90" fill="#C2C2C2" stroke="none" stroke-width="0.5"/>
<circle cx="64.17" cy="423.81" r="0.90" fill="#C2C2C2" stroke="none" stroke-width="0.5"/>
<circle cx="66.31" cy="428.63" r="0.90" fill="#C2C2C2" stroke="none" stroke-width="0.5"/>
<circle cx="66.42" cy="427.37" r="0.90" fill="#C2C2C2" stroke="none" stroke-width="0.5"/>
<circle cx="71.19" cy="436.95" r="0.90" fill="#C2C2C2" stroke="none" stroke-width="0.5"/>
<circle cx="76.08" cy="443.61" r="0.90" fill="#C2C2C2" stroke="none" stroke-width="0.5"/>
<circle cx="71.09" cy="436.03" r="0.90" fill="#C2C2C2" stroke="none" stroke-width="0.5"/>
<circle cx="68.44" cy="431.35" r="0.90" fill="#C2C2C2" stroke="none" stroke-width="0.5"/>
<circle cx="78.38" cy="447.14" r="0.90" fill="#C2C2C2" stroke="none" stroke-width="0.5"/>
<circle cx="78.45" cy="447.99" r="0.90" fill="#C2C2C2" stroke="none" stroke-width="0.5"/>
<circle cx="76.83" cy="446.61" r="0.90" fill="#C2C2C2" stroke="none" stroke-width="0.5"/>
<circle cx="81.87" cy="452.28" r="0.90" fill="#C2C2C2" stroke="none" stroke-width="0.5"/>
<circle cx="87.53" cy="458.63" r="0.90" fill="#C2C2C2" stroke="none" stroke-width="0.5"/>
<circle cx="87.55" cy="458.79" r="0.90" fill="#C2C2C2" stroke="none" stroke-width="0.5"/>
<circle cx="84.53" cy="455.70" r="0.90" fill="#C2C2C2" stroke="none" stroke-width="0.5"/>
<circle cx="82.99" cy="454.13" r="0.90" fill="#C2C2C2" stroke="none" stroke-width="0.5"/>
<circle cx="90.47" cy="461.14" r="0.90" fill="#C2C2C2" stroke="none" stroke-width="0.5"/>
<circle cx="93.16" cy="463.96" r="0.90" fill="#C2C2C2" stroke="none" stroke-width="0.5"/>
<circle cx="90.40" cy="461.27" r="0.90" fill="#C2C2C2" stroke="none" stroke-width="0.5"/>
<circle cx="90.53" cy="461.83" r="0.90" fill="#C2C2C2" stroke="none" stroke-width="0.5"/>
<circle cx="91.55" cy="459.08" r="0.90" fill="#C2C2C2" stroke="none" stroke-width="0.5"/>
<circle cx="93.01" cy="461.35" r="0.90" fill="#C2C2C2" stroke="none" stroke-width="0.5"/>
<circle cx="90.69" cy="459.10" r="0.90" fill="#C2C2C2" stroke="none" stroke-width="0.5"/>
<circle cx="93.47" cy="462.30" r="0.90" fill="#C2C2C2" stroke="none" stroke-width="0.5"/>
<circle cx="88.26" cy="454.01" r="0.90" fill="#C2C2C2" stroke="none" stroke-width="0.5"/>
<circle cx="87.50" cy="452.61" r="0.90" fill="#C2C2C2" stroke="none" stroke-width="0.5"/>
<circle cx="88.88" cy="453.90" r="0.90" fill="#C2C2C2" stroke="none" stroke-width="0.5"/>
<circle cx="90.93" cy="457.64" r="0.90" fill="#C2C2C2" stroke="none" stroke-width="0.5"/>
<circle cx="80.49" cy="445.46" r="0.90" fill="#C2C2C2" stroke="none" stroke-width="0.5"/>
<circle cx="85.64" cy="449.04" r="0.90" fill="#C2C2C2" stroke="none" stroke-width="0.5"/>
<circle cx="85.12" cy="447.91" r="0.90" fill="#C2C2C2" stroke="none" stroke-width="0.5"/>
<circle cx="83.55" cy="446.63" r="0.90" fill="#C2C2C2" stroke="none" stroke-width="0.5"/>
<circle cx="79.83" cy="442.54" r="0.90" fill="#C2C2C2" stroke="none" stroke-width="0.5"/>
<circle cx="75.38" cy="437.78" r="0.90" fill="#C2C2C2" stroke="none" stroke-width="0.5"/>
<circle cx="79.73" cy="442.35" r="0.90" fill="#C2C2C2" stroke="none" stroke-width="0.5"/>
<circle cx="73.92" cy="436.19" r="0.90" fill="#C2C2C2" stroke="none" stroke-width="0.5"/>
<circle cx="73.81" cy="435.63" r="0.90" fill="#C2C2C2" stroke="none" stroke-width="0.5"/>
<circle cx="72.45" cy="433.71" r="0.90" fill="#C2C2C2" stroke="none" stroke-width="0.5"/>
<circle cx="70.12" cy="431.29" r="0.90" fill="#C2C2C2" stroke="none" stroke-width="0.5"/>
<circle cx="72.26" cy="433.23" r="0.90" fill="#C2C2C2" stroke="none" stroke-width="0.5"/>
<polygon points="93.6,463.8 101.0,457.9 109.2,449.7 116.3,441.6 121.4,432.4 124.5,423.5 119.0,423.5 116.3,427.3 112.2,433.4 107.1,439.5 106.1,445.7 103.0,453.8 97.9,460.0" fill="#BEBEBE"/>
<circle cx="98.54" cy="459.55" r="0.90" fill="#C2C2C2" stroke="none" stroke-width="0.5"/>
<circle cx="95.34" cy="461.73" r="0.90" fill="#C2C2C2" stroke="none" stroke-width="0.5"/>
<circle cx="99.65" cy="459.92" r="0.90" fill="#C2C2C2" stroke="none" stroke-width="0.5"/>
<circle cx="99.77" cy="459.67" r="0.90" fill="#C2C2C2" stroke="none" stroke-width="0.5"/>
<circle cx="104.44" cy="454.28" r="0.90" fill="#C2C2C2" stroke="none" stroke-width="0.5"/>
<circle cx="102.96" cy="455.22" r="0.90" fill="#C2C2C2" stroke="none" stroke-width="0.5"/>
<circle cx="107.58" cy="450.86" r="0.90" fill="#C2C2C2" stroke="none" stroke-width="0.5"/>
<circle cx="104.25" cy="454.11" r="0.90" fill="#C2C2C2" stroke="none" stroke-width="0.5"/>
<circle cx="115.63" cy="442.10" r="0.90" fill="#C2C2C2" stroke="none" stroke-width="0.5"/>
<circle cx="111.41" cy="446.39" r="0.90" fill="#C2C2C2" stroke="none" stroke-width="0.5"/>
<circle cx="109.49" cy="447.82" r="0.90" fill="#C2C2C2" stroke="none" stroke-width="0.5"/>
<circle cx="109.70" cy="448.61" r="0.90" fill="#C2C2C2" stroke="none" stroke-width="0.5"/>
<circle cx="119.67" cy="437.62" r="0.90" fill="#C2C2C2" stroke="none" stroke-width="0.5"/>
<circle cx="120.94" cy="432.36" r="0.90" fill="#C2C2C2" stroke="none" stroke-width="0.5"/>
<circle cx="117.72" cy="439.49" r="0.90" fill="#C2C2C2" stroke="none" stroke-width="0.5"/>
<circle cx="120.72" cy="433.85" r="0.90" fill="#C2C2C2" stroke="none" stroke-width="0.5"/>
<circle cx="122.75" cy="427.84" r="0.90" fill="#C2C2C2" stroke="none" stroke-width="0.5"/>
<circle cx="121.36" cy="431.46" r="0.90" fill="#C2C2C2" stroke="none" stroke-width="0.5"/>
<circle cx="123.23" cy="425.32" r="0.90" fill="#C2C2C2" stroke="none" stroke-width="0.5"/>
<circle cx="121.53" cy="430.33" r="0.90" fill="#C2C2C2" stroke="none" stroke-width="0.5"/>
<circle cx="121.58" cy="423.20" r="0.90" fill="#C2C2C2" stroke="none" stroke-width="0.5"/>
<circle cx="120.51" cy="424.15" r="0.90" fill="#C2C2C2" stroke="none" stroke-width="0.5"/>
<circle cx="119.57" cy="423.39" r="0.90" fill="#C2C2C2" stroke="none" stroke-width="0.5"/>
<circle cx="121.82" cy="422.78" r="0.90" fill="#C2C2C2" stroke="none" stroke-width="0.5"/>
<circle cx="117.91" cy="424.58" r="0.90" fill="#C2C2C2" stroke="none" stroke-width="0.5"/>
<circle cx="119.23" cy="423.64" r="0.90" fill="#C2C2C2" stroke="none" stroke-width="0.5"/>
<circle cx="118.27" cy="425.65" r="0.90" fill="#C2C2C2" stroke="none" stroke-width="0.5"/>
<circle cx="118.99" cy="424.40" r="0.90" fill="#C2C2C2" stroke="none" stroke-width="0.5"/>
<circle cx="116.52" cy="426.78" r="0.90" fill="#C2C2C2" stroke="none" stroke-width="0.5"/>
<circle cx="115.59" cy="429.44" r="0.90" fill="#C2C2C2" stroke="none" stroke-width="0.5"/>
<circle cx="116.16" cy="427.25" r="0.90" fill="#C2C2C2" stroke="none" stroke-width="0.5"/>
<circle cx="113.84" cy="430.41" r="0.90" fill="#C2C2C2" stroke="none" stroke-width="0.5"/>
<circle cx="111.48" cy="433.65" r="0.90" fill="#C2C2C2" stroke="none" stroke-width="0.5"/>
<circle cx="106.75" cy="439.51" r="0.90" fill="#C2C2C2" stroke="none" stroke-width="0.5"/>
<circle cx="111.33" cy="434.40" r="0.90" fill="#C2C2C2" stroke="none" stroke-width="0.5"/>
<circle cx="110.24" cy="436.06" r="0.90" fill="#C2C2C2" stroke="none" stroke-width="0.5"/>
<circle cx="106.37" cy="439.58" r="0.90" fill="#C2C2C2" stroke="none" stroke-width="0.5"/>
<circle cx="106.48" cy="445.51" r="0.90" fill="#C2C2C2" stroke="none" stroke-width="0.5"/>
<circle cx="105.65" cy="444.05" r="0.90" fill="#C2C2C2" stroke="none" stroke-width="0.5"/>
<circle cx="106.68" cy="444.32" r="0.90" fill="#C2C2C2" stroke="none" stroke-width="0.5"/>
<circle cx="104.92" cy="449.07" r="0.90" fill="#C2C2C2" stroke="none" stroke-width="0.5"/>
<circle cx="105.31" cy="447.84" r="0.90" fill="#C2C2C2" stroke="none" stroke-width="0.5"/>
<circle cx="103.63" cy="454.12" r="0.90" fill="#C2C2C2" stroke="none" stroke-width="0.5"/>
<circle cx="103.18" cy="452.04" r="0.90" fill="#C2C2C2" stroke="none" stroke-width="0.5"/>
<circle cx="100.12" cy="456.71" r="0.90" fill="#C2C2C2" stroke="none" stroke-width="0.5"/>
<circle cx="100.21" cy="458.15" r="0.90" fill="#C2C2C2" stroke="none" stroke-width="0.5"/>
<circle cx="98.18" cy="458.64" r="0.90" fill="#C2C2C2" stroke="none" stroke-width="0.5"/>
<circle cx="97.35" cy="459.85" r="0.90" fill="#C2C2C2" stroke="none" stroke-width="0.5"/>
<circle cx="69.30" cy="425.20" r="0.90" fill="#C4C4C4" stroke="none" stroke-width="0.5"/>
<circle cx="74.90" cy="430.30" r="0.90" fill="#C4C4C4" stroke="none" stroke-width="0.5"/>
<circle cx="76.00" cy="433.90" r="0.90" fill="#C4C4C4" stroke="none" stroke-width="0.5"/>
<circle cx="79.00" cy="442.10" r="0.90" fill="#C4C4C4" stroke="none" stroke-width="0.5"/>
<circle cx="72.90" cy="433.90" r="0.90" fill="#C4C4C4" stroke="none" stroke-width="0.5"/>
<circle cx="71.00" cy="428.00" r="0.90" fill="#C4C4C4" stroke="none" stroke-width="0.5"/>
<circle cx="77.50" cy="438.00" r="0.90" fill="#C4C4C4" stroke="none" stroke-width="0.5"/>
<circle cx="108.60" cy="436.00" r="0.90" fill="#C4C4C4" stroke="none" stroke-width="0.5"/>
<circle cx="107.60" cy="440.00" r="0.90" fill="#C4C4C4" stroke="none" stroke-width="0.5"/>
<circle cx="109.50" cy="433.00" r="0.90" fill="#C4C4C4" stroke="none" stroke-width="0.5"/>
<circle cx="110.50" cy="431.00" r="0.90" fill="#C4C4C4" stroke="none" stroke-width="0.5"/>
<circle cx="57.80" cy="399.20" r="1.20" fill="#2B1BF0" stroke="none" stroke-width="0.5"/>
<circle cx="58.60" cy="399.52" r="1.20" fill="#2B1BF0" stroke="none" stroke-width="0.5"/>
<circle cx="65.00" cy="400.46" r="1.20" fill="#2B1BF0" stroke="none" stroke-width="0.5"/>
<circle cx="57.40" cy="402.66" r="1.20" fill="#2B1BF0" stroke="none" stroke-width="0.5"/>
<circle cx="59.40" cy="405.48" r="1.20" fill="#2B1BF0" stroke="none" stroke-width="0.5"/>
<circle cx="57.40" cy="411.45" r="1.20" fill="#2B1BF0" stroke="none" stroke-width="0.5"/>
<circle cx="64.60" cy="416.16" r="1.20" fill="#2B1BF0" stroke="none" stroke-width="0.5"/>
<circle cx="65.40" cy="417.73" r="1.20" fill="#2B1BF0" stroke="none" stroke-width="0.5"/>
<circle cx="59.80" cy="417.41" r="1.20" fill="#2B1BF0" stroke="none" stroke-width="0.5"/>
<circle cx="62.60" cy="422.75" r="1.20" fill="#2B1BF0" stroke="none" stroke-width="0.5"/>
<circle cx="65.00" cy="423.38" r="1.20" fill="#2B1BF0" stroke="none" stroke-width="0.5"/>
<circle cx="136.80" cy="375.00" r="1.20" fill="#F0250F" stroke="none" stroke-width="0.5"/>
<circle cx="137.40" cy="376.20" r="1.20" fill="#F0250F" stroke="none" stroke-width="0.5"/>
<circle cx="132.10" cy="378.90" r="1.20" fill="#F0250F" stroke="none" stroke-width="0.5"/>
<circle cx="133.80" cy="382.40" r="1.20" fill="#F0250F" stroke="none" stroke-width="0.5"/>
<circle cx="140.90" cy="383.20" r="1.20" fill="#F0250F" stroke="none" stroke-width="0.5"/>
<circle cx="135.00" cy="385.00" r="1.20" fill="#F0250F" stroke="none" stroke-width="0.5"/>
<circle cx="132.60" cy="386.80" r="1.20" fill="#F0250F" stroke="none" stroke-width="0.5"/>
<circle cx="132.60" cy="388.50" r="1.20" fill="#F0250F" stroke="none" stroke-width="0.5"/>
<circle cx="125.80" cy="400.50" r="1.20" fill="#F0250F" stroke="none" stroke-width="0.5"/>
<circle cx="129.10" cy="400.90" r="1.20" fill="#F0250F" stroke="none" stroke-width="0.5"/>
<circle cx="127.40" cy="403.80" r="1.20" fill="#F0250F" stroke="none" stroke-width="0.5"/>
<circle cx="130.30" cy="405.60" r="1.20" fill="#F0250F" stroke="none" stroke-width="0.5"/>
<circle cx="126.20" cy="407.90" r="1.20" fill="#F0250F" stroke="none" stroke-width="0.5"/>
<circle cx="126.20" cy="412.10" r="1.20" fill="#F0250F" stroke="none" stroke-width="0.5"/>
<circle cx="123.80" cy="416.80" r="1.20" fill="#F0250F" stroke="none" stroke-width="0.5"/>
<circle cx="123.20" cy="418.50" r="1.20" fill="#F0250F" stroke="none" stroke-width="0.5"/>
<circle cx="117.60" cy="420.90" r="1.20" fill="#F0250F" stroke="none" stroke-width="0.5"/>
<circle cx="120.30" cy="422.10" r="1.20" fill="#F0250F" stroke="none" stroke-width="0.5"/>
<circle cx="134.50" cy="399.00" r="1.20" fill="#F0250F" stroke="none" stroke-width="0.5"/>
<circle cx="131.00" cy="402.50" r="1.20" fill="#F0250F" stroke="none" stroke-width="0.5"/>
<circle cx="120.20" cy="423.30" r="1.20" fill="#F0250F" stroke="none" stroke-width="0.5"/>
<circle cx="120.79" cy="422.38" r="1.20" fill="#F0250F" stroke="none" stroke-width="0.5"/>
<circle cx="121.37" cy="421.46" r="1.20" fill="#F0250F" stroke="none" stroke-width="0.5"/>
<circle cx="121.96" cy="420.54" r="1.20" fill="#F0250F" stroke="none" stroke-width="0.5"/>
<circle cx="122.54" cy="419.63" r="1.20" fill="#F0250F" stroke="none" stroke-width="0.5"/>
<circle cx="123.13" cy="418.71" r="1.20" fill="#F0250F" stroke="none" stroke-width="0.5"/>
<circle cx="123.71" cy="417.79" r="1.20" fill="#F0250F" stroke="none" stroke-width="0.5"/>
<circle cx="124.30" cy="416.87" r="1.20" fill="#F0250F" stroke="none" stroke-width="0.5"/>
<circle cx="124.88" cy="415.95" r="1.20" fill="#F0250F" stroke="none" stroke-width="0.5"/>
<circle cx="125.47" cy="415.03" r="1.20" fill="#F0250F" stroke="none" stroke-width="0.5"/>
<circle cx="126.05" cy="414.11" r="1.20" fill="#F0250F" stroke="none" stroke-width="0.5"/>
<circle cx="126.64" cy="413.20" r="1.20" fill="#F0250F" stroke="none" stroke-width="0.5"/>
<circle cx="127.22" cy="412.28" r="1.20" fill="#F0250F" stroke="none" stroke-width="0.5"/>
<circle cx="127.81" cy="411.36" r="1.20" fill="#F0250F" stroke="none" stroke-width="0.5"/>
<circle cx="128.39" cy="410.44" r="1.20" fill="#F0250F" stroke="none" stroke-width="0.5"/>
<circle cx="128.98" cy="409.52" r="1.20" fill="#F0250F" stroke="none" stroke-width="0.5"/>
<circle cx="129.56" cy="408.60" r="1.20" fill="#F0250F" stroke="none" stroke-width="0.5"/>
<circle cx="130.15" cy="407.69" r="1.20" fill="#F0250F" stroke="none" stroke-width="0.5"/>
<circle cx="130.73" cy="406.77" r="1.20" fill="#F0250F" stroke="none" stroke-width="0.5"/>
<circle cx="131.32" cy="405.85" r="1.20" fill="#F0250F" stroke="none" stroke-width="0.5"/>
<circle cx="131.90" cy="404.93" r="1.20" fill="#F0250F" stroke="none" stroke-width="0.5"/>
<circle cx="132.49" cy="404.01" r="1.20" fill="#F0250F" stroke="none" stroke-width="0.5"/>
<circle cx="133.07" cy="403.09" r="1.20" fill="#F0250F" stroke="none" stroke-width="0.5"/>
<circle cx="133.66" cy="402.17" r="1.20" fill="#F0250F" stroke="none" stroke-width="0.5"/>
<circle cx="134.24" cy="401.26" r="1.20" fill="#F0250F" stroke="none" stroke-width="0.5"/>
<circle cx="134.83" cy="400.34" r="1.20" fill="#F0250F" stroke="none" stroke-width="0.5"/>
<circle cx="135.41" cy="399.42" r="1.20" fill="#F0250F" stroke="none" stroke-width="0.5"/>
<circle cx="136.00" cy="398.50" r="1.20" fill="#F0250F" stroke="none" stroke-width="0.5"/>
<line x1="136.6" y1="399.7" x2="134.3" y2="398.8" stroke="#111" stroke-width="0.35"/>
<text x="136.9" y="400.5" font-size="3.9" style="font-weight:normal">Cttn</text>
<line x1="136.6" y1="403.6" x2="132.3" y2="403.8" stroke="#111" stroke-width="0.35"/>
<text x="136.9" y="404.3" font-size="3.9" style="font-weight:normal">Plec</text>
<line x1="123.5" y1="406.2" x2="128.2" y2="401.2" stroke="#111" stroke-width="0.35"/>
<text x="123.2" y="407.0" font-size="3.9" text-anchor="end" style="font-weight:normal">Syt7</text>
<line x1="140.1" y1="410.3" x2="130.6" y2="404.2" stroke="#111" stroke-width="0.35"/>
<text x="140.4" y="411.1" font-size="3.9" style="font-weight:normal">Syt8</text>
<line x1="137.7" y1="414.4" x2="130.2" y2="408.2" stroke="#111" stroke-width="0.35"/>
<text x="138.0" y="415.2" font-size="3.9" style="font-weight:normal">Tac1</text>
<line x1="110.4" y1="416.6" x2="128.2" y2="412.2" stroke="#111" stroke-width="0.35"/>
<text x="110.1" y="417.3" font-size="3.9" text-anchor="end" style="font-weight:normal">Nectin1</text>
<line x1="141.3" y1="417.9" x2="130.2" y2="408.4" stroke="#111" stroke-width="0.35"/>
<text x="141.6" y="418.7" font-size="3.9" style="font-weight:normal">Shroom2</text>
<line x1="140.1" y1="421.8" x2="126.2" y2="413.2" stroke="#111" stroke-width="0.35"/>
<text x="140.4" y="422.6" font-size="3.9" style="font-weight:normal">Appl1</text>
<line x1="113.5" y1="426.2" x2="122.2" y2="419.2" stroke="#111" stroke-width="0.35"/>
<text x="113.2" y="427.0" font-size="3.9" text-anchor="end" style="font-weight:normal">Lrrc4c</text>
<line x1="116.0" y1="425.8" x2="121.5" y2="420.5" stroke="#111" stroke-width="0.35"/>
<text x="114.2" y="427.0" font-size="3.9" style="font-weight:normal">Dlg2</text>
<line x1="114.5" y1="428.8" x2="121.2" y2="421.3" stroke="#111" stroke-width="0.35"/>
<text x="108.6" y="430.5" font-size="3.9" style="font-weight:normal">Aph1c</text>
<line x1="116.0" y1="432.0" x2="121.0" y2="421.8" stroke="#111" stroke-width="0.35"/>
<text x="111.0" y="434.0" font-size="3.9" style="font-weight:normal">Ptpa</text>
<rect x="49.60" y="369.90" width="104.80" height="96.80" fill="none" stroke="#555" stroke-width="0.5"/>
<line x1="57.8" y1="466.7" x2="57.8" y2="468.0" stroke="#444" stroke-width="0.4"/>
<text x="57.8" y="471.7" font-size="3.8" text-anchor="middle" style="font-weight:normal">-9</text>
<line x1="69.8" y1="466.7" x2="69.8" y2="468.0" stroke="#444" stroke-width="0.4"/>
<text x="69.8" y="471.7" font-size="3.8" text-anchor="middle" style="font-weight:normal">-6</text>
<line x1="81.8" y1="466.7" x2="81.8" y2="468.0" stroke="#444" stroke-width="0.4"/>
<text x="81.8" y="471.7" font-size="3.8" text-anchor="middle" style="font-weight:normal">-3</text>
<line x1="93.8" y1="466.7" x2="93.8" y2="468.0" stroke="#444" stroke-width="0.4"/>
<text x="93.8" y="471.7" font-size="3.8" text-anchor="middle" style="font-weight:normal">0</text>
<line x1="105.8" y1="466.7" x2="105.8" y2="468.0" stroke="#444" stroke-width="0.4"/>
<text x="105.8" y="471.7" font-size="3.8" text-anchor="middle" style="font-weight:normal">3</text>
<line x1="117.8" y1="466.7" x2="117.8" y2="468.0" stroke="#444" stroke-width="0.4"/>
<text x="117.8" y="471.7" font-size="3.8" text-anchor="middle" style="font-weight:normal">6</text>
<line x1="129.8" y1="466.7" x2="129.8" y2="468.0" stroke="#444" stroke-width="0.4"/>
<text x="129.8" y="471.7" font-size="3.8" text-anchor="middle" style="font-weight:normal">9</text>
<line x1="141.8" y1="466.7" x2="141.8" y2="468.0" stroke="#444" stroke-width="0.4"/>
<text x="141.8" y="471.7" font-size="3.8" text-anchor="middle" style="font-weight:normal">12</text>
<line x1="153.8" y1="466.7" x2="153.8" y2="468.0" stroke="#444" stroke-width="0.4"/>
<text x="153.8" y="471.7" font-size="3.8" text-anchor="middle" style="font-weight:normal">15</text>
<line x1="48.3" y1="464.2" x2="49.6" y2="464.2" stroke="#444" stroke-width="0.4"/>
<text x="47.6" y="465.6" font-size="3.8" text-anchor="end" style="font-weight:normal">0</text>
<line x1="48.3" y1="432.8" x2="49.6" y2="432.8" stroke="#444" stroke-width="0.4"/>
<text x="47.6" y="434.2" font-size="3.8" text-anchor="end" style="font-weight:normal">1</text>
<line x1="48.3" y1="401.4" x2="49.6" y2="401.4" stroke="#444" stroke-width="0.4"/>
<text x="47.6" y="402.8" font-size="3.8" text-anchor="end" style="font-weight:normal">2</text>
<line x1="48.3" y1="370.0" x2="49.6" y2="370.0" stroke="#444" stroke-width="0.4"/>
<text x="47.6" y="371.4" font-size="3.8" text-anchor="end" style="font-weight:normal">3</text>
<circle cx="32.80" cy="363.80" r="1.90" fill="#2B1BF0" stroke="none" stroke-width="0.5"/>
<text x="41.0" y="365.4" font-size="5.3" style="font-weight:normal" fill="#3D6FD8">Down-enriched  (13)</text>
<circle cx="91.80" cy="363.80" r="1.80" fill="#C0C0C0" stroke="none" stroke-width="0.5"/>
<text x="96.8" y="365.4" font-size="5.3" style="font-weight:normal">Not sig</text>
<circle cx="116.20" cy="363.80" r="1.90" fill="#F0250F" stroke="none" stroke-width="0.5"/>
<text x="120.6" y="365.4" font-size="5.3" style="font-weight:normal" fill="#E8281C">Up-enriched (138)</text>
<text x="98.6" y="480.5" font-size="6.0" text-anchor="middle">Log<tspan font-size="4" dy="1.2">2</tspan><tspan dy="-1.2"> (FC) (3xTg-AD+β-OHB vs. 3xTg-AD)</tspan></text>
<text x="40.5" y="418.3" font-size="5.3" text-anchor="middle" style="font-weight:normal" transform="rotate(-90 40.5 418.29999999999995)">-Log<tspan font-size="3.5" dy="1">10</tspan><tspan dy="-1">(p-Value)</tspan></text>
<text x="367.5" y="248.0" font-size="8.2" text-anchor="middle" textLength="131.5" lengthAdjust="spacingAndGlyphs">GO enrichment analysis in H3K9bhb</text>
<line x1="375.0" y1="254.5" x2="375.0" y2="263.5" stroke="#333" stroke-width="0.5" stroke-dasharray="1,0.7"/>
<line x1="288.7" y1="263.5" x2="460.9" y2="263.5" stroke="#333" stroke-width="0.5" stroke-dasharray="1,0.7"/>
<line x1="288.7" y1="263.5" x2="288.7" y2="270.5" stroke="#333" stroke-width="0.5" stroke-dasharray="1,0.7"/>
<line x1="460.9" y1="263.5" x2="460.9" y2="270.5" stroke="#333" stroke-width="0.5" stroke-dasharray="1,0.7"/>
<text x="293.0" y="279.6" font-size="5.3" text-anchor="middle" fill="#F0282A">3xTg-AD vs. WT</text>
<text x="462.4" y="280.3" font-size="5.3" text-anchor="middle" fill="#F0282A">3xTg-AD+β-OHB vs. 3xTg-AD</text>
<line x1="327.4" y1="283.0" x2="327.4" y2="470.0" stroke="#E6E6E6" stroke-width="0.4"/>
<line x1="320.1" y1="290.6" x2="321.5" y2="290.6" stroke="#333" stroke-width="0.45"/>
<text x="318.0" y="292.8" font-size="5.75" text-anchor="end" style="font-weight:normal">learning or memory</text>
<circle cx="327.40" cy="290.60" r="5.50" fill="#2B3F86" stroke="#333" stroke-width="0.4"/>
<line x1="320.1" y1="299.8" x2="321.5" y2="299.8" stroke="#333" stroke-width="0.45"/>
<text x="318.0" y="302.0" font-size="5.75" text-anchor="end" style="font-weight:normal">sensory organ development</text>
<circle cx="327.40" cy="299.79" r="4.90" fill="#3D6C98" stroke="#333" stroke-width="0.4"/>
<line x1="320.1" y1="309.0" x2="321.5" y2="309.0" stroke="#333" stroke-width="0.45"/>
<text x="318.0" y="311.2" font-size="5.75" text-anchor="end" style="font-weight:normal">regulation of neuron projection development</text>
<circle cx="327.40" cy="308.98" r="4.90" fill="#3F7A9E" stroke="#333" stroke-width="0.4"/>
<line x1="320.1" y1="318.2" x2="321.5" y2="318.2" stroke="#333" stroke-width="0.45"/>
<text x="318.0" y="320.4" font-size="5.75" text-anchor="end" style="font-weight:normal">regulation of synapse organization</text>
<circle cx="327.40" cy="318.17" r="4.80" fill="#4083A2" stroke="#333" stroke-width="0.4"/>
<line x1="320.1" y1="327.4" x2="321.5" y2="327.4" stroke="#333" stroke-width="0.45"/>
<text x="318.0" y="329.6" font-size="5.75" text-anchor="end" style="font-weight:normal">axon</text>
<circle cx="327.40" cy="327.36" r="4.80" fill="#4286A4" stroke="#333" stroke-width="0.4"/>
<line x1="320.1" y1="336.6" x2="321.5" y2="336.6" stroke="#333" stroke-width="0.45"/>
<text x="318.0" y="338.8" font-size="5.75" text-anchor="end" style="font-weight:normal">import into cell</text>
<circle cx="327.40" cy="336.55" r="4.40" fill="#4A95A8" stroke="#333" stroke-width="0.4"/>
<line x1="320.1" y1="345.7" x2="321.5" y2="345.7" stroke="#333" stroke-width="0.45"/>
<text x="318.0" y="347.9" font-size="5.75" text-anchor="end" style="font-weight:normal">synaptic membrane</text>
<circle cx="327.40" cy="345.74" r="4.40" fill="#5AA8AC" stroke="#333" stroke-width="0.4"/>
<line x1="320.1" y1="354.9" x2="321.5" y2="354.9" stroke="#333" stroke-width="0.45"/>
<text x="318.0" y="357.1" font-size="5.75" text-anchor="end" style="font-weight:normal">corpus callosum development</text>
<circle cx="327.40" cy="354.93" r="4.30" fill="#62ACAC" stroke="#333" stroke-width="0.4"/>
<line x1="320.1" y1="364.1" x2="321.5" y2="364.1" stroke="#333" stroke-width="0.45"/>
<text x="318.0" y="366.3" font-size="5.75" text-anchor="end" style="font-weight:normal">negative regulation of cell differentiation</text>
<circle cx="327.40" cy="364.12" r="4.00" fill="#78BCB0" stroke="#333" stroke-width="0.4"/>
<line x1="320.1" y1="373.3" x2="321.5" y2="373.3" stroke="#333" stroke-width="0.45"/>
<text x="318.0" y="375.5" font-size="5.75" text-anchor="end" style="font-weight:normal">RND2 GTPase cycle</text>
<circle cx="327.40" cy="373.31" r="4.00" fill="#7CBEB2" stroke="#333" stroke-width="0.4"/>
<line x1="320.1" y1="382.5" x2="321.5" y2="382.5" stroke="#333" stroke-width="0.45"/>
<text x="318.0" y="384.7" font-size="5.75" text-anchor="end" style="font-weight:normal">transmembrane receptor protein tyrosine kinase signaling pathway</text>
<circle cx="327.40" cy="382.50" r="3.80" fill="#86C4B2" stroke="#333" stroke-width="0.4"/>
<line x1="320.1" y1="391.7" x2="321.5" y2="391.7" stroke="#333" stroke-width="0.45"/>
<text x="318.0" y="393.9" font-size="5.75" text-anchor="end" style="font-weight:normal">photoreceptor cell cilium</text>
<circle cx="327.40" cy="391.69" r="3.80" fill="#8CC8B4" stroke="#333" stroke-width="0.4"/>
<line x1="320.1" y1="400.9" x2="321.5" y2="400.9" stroke="#333" stroke-width="0.45"/>
<text x="318.0" y="403.1" font-size="5.75" text-anchor="end" style="font-weight:normal">ameboidal−type cell migration</text>
<circle cx="327.40" cy="400.88" r="3.30" fill="#A4D4B8" stroke="#333" stroke-width="0.4"/>
<line x1="320.1" y1="410.1" x2="321.5" y2="410.1" stroke="#333" stroke-width="0.45"/>
<text x="318.0" y="412.3" font-size="5.75" text-anchor="end" style="font-weight:normal">cytoplasmic ribonucleoprotein granule</text>
<circle cx="327.40" cy="410.07" r="3.00" fill="#B8DDB8" stroke="#333" stroke-width="0.4"/>
<line x1="320.1" y1="419.3" x2="321.5" y2="419.3" stroke="#333" stroke-width="0.45"/>
<text x="318.0" y="421.5" font-size="5.75" text-anchor="end" style="font-weight:normal">regulation of fat cell differentiation</text>
<circle cx="327.40" cy="419.26" r="3.00" fill="#B8DDB8" stroke="#333" stroke-width="0.4"/>
<line x1="320.1" y1="428.5" x2="321.5" y2="428.5" stroke="#333" stroke-width="0.45"/>
<text x="318.0" y="430.7" font-size="5.75" text-anchor="end" style="font-weight:normal">Signaling by NTRK3</text>
<circle cx="327.40" cy="428.45" r="2.80" fill="#BCE0B8" stroke="#333" stroke-width="0.4"/>
<line x1="320.1" y1="437.6" x2="321.5" y2="437.6" stroke="#333" stroke-width="0.45"/>
<text x="318.0" y="439.8" font-size="5.75" text-anchor="end" style="font-weight:normal">regulation of microtubule cytoskeleton organization</text>
<circle cx="327.40" cy="437.64" r="2.80" fill="#C0E2B6" stroke="#333" stroke-width="0.4"/>
<line x1="320.1" y1="446.8" x2="321.5" y2="446.8" stroke="#333" stroke-width="0.45"/>
<text x="318.0" y="449.0" font-size="5.75" text-anchor="end" style="font-weight:normal">embryonic pattern specification</text>
<circle cx="327.40" cy="446.83" r="2.80" fill="#C6E4B4" stroke="#333" stroke-width="0.4"/>
<line x1="320.1" y1="456.0" x2="321.5" y2="456.0" stroke="#333" stroke-width="0.45"/>
<text x="318.0" y="458.2" font-size="5.75" text-anchor="end" style="font-weight:normal">lipid homeostasis</text>
<circle cx="327.40" cy="456.02" r="2.00" fill="#E0EEB0" stroke="#333" stroke-width="0.4"/>
<line x1="320.1" y1="465.2" x2="321.5" y2="465.2" stroke="#333" stroke-width="0.45"/>
<text x="318.0" y="467.4" font-size="5.75" text-anchor="end" style="font-weight:normal">monosaccharide metabolic process</text>
<circle cx="327.40" cy="465.21" r="0.70" fill="#2A3A7A" stroke="#333" stroke-width="0.4"/>
<rect x="269.20" y="284.80" width="50.40" height="11.80" fill="none" stroke="#F02020" stroke-width="0.65" stroke-dasharray="1.5,0.9"/>
<rect x="213.50" y="305.20" width="106.10" height="25.50" fill="none" stroke="#F02020" stroke-width="0.65" stroke-dasharray="1.5,0.9"/>
<rect x="269.20" y="340.30" width="50.40" height="11.60" fill="none" stroke="#F02020" stroke-width="0.65" stroke-dasharray="1.5,0.9"/>
<rect x="269.20" y="367.20" width="50.40" height="11.60" fill="none" stroke="#F02020" stroke-width="0.65" stroke-dasharray="1.5,0.9"/>
<rect x="263.60" y="423.20" width="56.00" height="10.60" fill="none" stroke="#F02020" stroke-width="0.65" stroke-dasharray="1.5,0.9"/>
<line x1="501.6" y1="285.0" x2="501.6" y2="417.0" stroke="#E6E6E6" stroke-width="0.4"/>
<line x1="490.7" y1="292.2" x2="492.1" y2="292.2" stroke="#333" stroke-width="0.45"/>
<text x="489.0" y="294.4" font-size="5.8" text-anchor="end" style="font-weight:normal">Apoptosis</text>
<circle cx="501.60" cy="292.20" r="5.40" fill="#263A7E" stroke="#333" stroke-width="0.4"/>
<line x1="490.7" y1="303.1" x2="492.1" y2="303.1" stroke="#333" stroke-width="0.45"/>
<text x="489.0" y="305.3" font-size="5.8" text-anchor="end" style="font-weight:normal">synaptic membrane adhesion</text>
<circle cx="501.60" cy="303.11" r="4.90" fill="#3A6495" stroke="#333" stroke-width="0.4"/>
<line x1="490.7" y1="314.0" x2="492.1" y2="314.0" stroke="#333" stroke-width="0.45"/>
<text x="489.0" y="316.2" font-size="5.8" text-anchor="end" style="font-weight:normal">ERAD pathway</text>
<circle cx="501.60" cy="314.02" r="4.60" fill="#3E88A8" stroke="#333" stroke-width="0.4"/>
<line x1="490.7" y1="324.9" x2="492.1" y2="324.9" stroke="#333" stroke-width="0.45"/>
<text x="489.0" y="327.1" font-size="5.8" text-anchor="end" style="font-weight:normal">actin filament organization</text>
<circle cx="501.60" cy="324.93" r="3.60" fill="#7CC3BE" stroke="#333" stroke-width="0.4"/>
<line x1="490.7" y1="335.8" x2="492.1" y2="335.8" stroke="#333" stroke-width="0.45"/>
<text x="489.0" y="338.0" font-size="5.8" text-anchor="end" style="font-weight:normal">negative regulation of carbohydrate metabolic process</text>
<circle cx="501.60" cy="335.84" r="3.10" fill="#A4D6BC" stroke="#333" stroke-width="0.4"/>
<line x1="490.7" y1="346.8" x2="492.1" y2="346.8" stroke="#333" stroke-width="0.45"/>
<text x="489.0" y="348.9" font-size="5.8" text-anchor="end" style="font-weight:normal">NADH dehydrogenase complex assembly</text>
<circle cx="501.60" cy="346.75" r="3.10" fill="#A6D6BB" stroke="#333" stroke-width="0.4"/>
<line x1="490.7" y1="357.7" x2="492.1" y2="357.7" stroke="#333" stroke-width="0.45"/>
<text x="489.0" y="359.9" font-size="5.8" text-anchor="end" style="font-weight:normal">endocytosis</text>
<circle cx="501.60" cy="357.66" r="3.10" fill="#A2D4BA" stroke="#333" stroke-width="0.4"/>
<line x1="490.7" y1="368.6" x2="492.1" y2="368.6" stroke="#333" stroke-width="0.45"/>
<text x="489.0" y="370.8" font-size="5.8" text-anchor="end" style="font-weight:normal">regulation of supramolecular fiber organization</text>
<circle cx="501.60" cy="368.57" r="3.10" fill="#A6D6BA" stroke="#333" stroke-width="0.4"/>
<line x1="490.7" y1="379.5" x2="492.1" y2="379.5" stroke="#333" stroke-width="0.45"/>
<text x="489.0" y="381.7" font-size="5.8" text-anchor="end" style="font-weight:normal">cellular component maintenance</text>
<circle cx="501.60" cy="379.48" r="2.90" fill="#BCE0B6" stroke="#333" stroke-width="0.4"/>
<line x1="490.7" y1="390.4" x2="492.1" y2="390.4" stroke="#333" stroke-width="0.45"/>
<text x="489.0" y="392.6" font-size="5.8" text-anchor="end" style="font-weight:normal">plasma membrane organization</text>
<circle cx="501.60" cy="390.39" r="2.40" fill="#DCEDB0" stroke="#333" stroke-width="0.4"/>
<line x1="490.7" y1="401.3" x2="492.1" y2="401.3" stroke="#333" stroke-width="0.45"/>
<text x="489.0" y="403.5" font-size="5.8" text-anchor="end" style="font-weight:normal">synaptic signaling</text>
<circle cx="501.60" cy="401.30" r="0.70" fill="#333" stroke="none" stroke-width="0.4"/>
<line x1="490.7" y1="412.2" x2="492.1" y2="412.2" stroke="#333" stroke-width="0.45"/>
<text x="489.0" y="414.4" font-size="5.8" text-anchor="end" style="font-weight:normal">lens development in camera−type eye</text>
<circle cx="501.60" cy="412.21" r="0.70" fill="#333" stroke="none" stroke-width="0.4"/>
<rect x="417.00" y="297.30" width="72.50" height="10.50" fill="none" stroke="#F02020" stroke-width="0.65" stroke-dasharray="1.5,0.9"/>
<rect x="445.20" y="395.50" width="44.30" height="12.30" fill="none" stroke="#F02020" stroke-width="0.65" stroke-dasharray="1.5,0.9"/>
<circle cx="343.50" cy="360.30" r="5.10" fill="#fff" stroke="#222" stroke-width="0.65"/>
<text x="352.5" y="362.4" font-size="6.0" style="font-weight:normal">0.8</text>
<circle cx="343.50" cy="372.20" r="4.50" fill="#fff" stroke="#222" stroke-width="0.65"/>
<text x="352.5" y="374.3" font-size="6.0" style="font-weight:normal">0.7</text>
<circle cx="343.50" cy="382.90" r="3.80" fill="#fff" stroke="#222" stroke-width="0.65"/>
<text x="352.5" y="385.0" font-size="6.0" style="font-weight:normal">0.6</text>
<circle cx="343.50" cy="391.70" r="3.20" fill="#fff" stroke="#222" stroke-width="0.65"/>
<text x="352.5" y="393.8" font-size="6.0" style="font-weight:normal">0.5</text>
<circle cx="343.50" cy="400.40" r="2.20" fill="#fff" stroke="#222" stroke-width="0.65"/>
<text x="352.5" y="402.5" font-size="6.0" style="font-weight:normal">0.4</text>
<defs><linearGradient id="gol" x1="0" y1="1" x2="0" y2="0"><stop offset="0" stop-color="#EDF8B1"/><stop offset="0.3" stop-color="#A8DBB8"/><stop offset="0.55" stop-color="#5DB7C0"/><stop offset="0.8" stop-color="#2E7CB3"/><stop offset="1" stop-color="#263C82"/></linearGradient></defs>
<rect x="341.60" y="411.00" width="8.60" height="41.40" fill="url(#gol)" stroke="none" stroke-width="0.5"/>
<line x1="350.2" y1="416.7" x2="351.3" y2="416.7" stroke="#fff" stroke-width="0.4"/>
<text x="352.5" y="418.8" font-size="6.0" style="font-weight:normal">0.8</text>
<line x1="350.2" y1="424.6" x2="351.3" y2="424.6" stroke="#fff" stroke-width="0.4"/>
<text x="352.5" y="426.7" font-size="6.0" style="font-weight:normal">0.7</text>
<line x1="350.2" y1="432.5" x2="351.3" y2="432.5" stroke="#fff" stroke-width="0.4"/>
<text x="352.5" y="434.6" font-size="6.0" style="font-weight:normal">0.6</text>
<line x1="350.2" y1="440.4" x2="351.3" y2="440.4" stroke="#fff" stroke-width="0.4"/>
<text x="352.5" y="442.5" font-size="6.0" style="font-weight:normal">0.5</text>
<line x1="350.2" y1="448.2" x2="351.3" y2="448.2" stroke="#fff" stroke-width="0.4"/>
<text x="352.5" y="450.3" font-size="6.0" style="font-weight:normal">0.4</text>
<text x="335.6" y="462.6" font-size="5.25">Log10 (p-value)</text>
<rect x="511.70" y="303.20" width="8.20" height="41.40" fill="url(#gol)" stroke="none" stroke-width="0.5"/>
<text x="522.5" y="308.4" font-size="6.0" style="font-weight:normal">0.55</text>
<text x="522.5" y="316.4" font-size="6.0" style="font-weight:normal">0.50</text>
<text x="522.5" y="324.3" font-size="6.0" style="font-weight:normal">0.45</text>
<text x="522.5" y="332.3" font-size="6.0" style="font-weight:normal">0.40</text>
<text x="522.5" y="339.6" font-size="6.0" style="font-weight:normal">0.35</text>
<circle cx="516.40" cy="355.20" r="5.00" fill="#fff" stroke="#222" stroke-width="0.65"/>
<text x="525.5" y="357.3" font-size="6.0" style="font-weight:normal">0.55</text>
<circle cx="516.40" cy="367.90" r="4.50" fill="#fff" stroke="#222" stroke-width="0.65"/>
<text x="525.5" y="370.0" font-size="6.0" style="font-weight:normal">0.50</text>
<circle cx="516.40" cy="379.00" r="4.00" fill="#fff" stroke="#222" stroke-width="0.65"/>
<text x="525.5" y="381.1" font-size="6.0" style="font-weight:normal">0.45</text>
<circle cx="516.40" cy="389.50" r="3.30" fill="#fff" stroke="#222" stroke-width="0.65"/>
<text x="525.5" y="391.6" font-size="6.0" style="font-weight:normal">0.40</text>
<circle cx="516.40" cy="397.60" r="2.70" fill="#fff" stroke="#222" stroke-width="0.65"/>
<text x="525.5" y="399.7" font-size="6.0" style="font-weight:normal">0.35</text>
<text x="507.0" y="409.3" font-size="5.5">-Log10 (p-value)</text>
<text x="597.3" y="246.9" font-size="6.6" text-anchor="middle" fill="#F0282A" textLength="89.6" lengthAdjust="spacingAndGlyphs">Synaptic function regulatory genes</text>
<rect x="561.70" y="257.10" width="11.60" height="3.90" fill="#6CEBE0" stroke="none" stroke-width="0.5"/>
<rect x="572.70" y="257.10" width="11.60" height="3.90" fill="#6CEBE0" stroke="none" stroke-width="0.5"/>
<rect x="583.70" y="257.10" width="11.60" height="3.90" fill="#6CEBE0" stroke="none" stroke-width="0.5"/>
<rect x="594.70" y="257.10" width="11.60" height="3.90" fill="#EE8A86" stroke="none" stroke-width="0.5"/>
<rect x="605.70" y="257.10" width="11.60" height="3.90" fill="#EE8A86" stroke="none" stroke-width="0.5"/>
<rect x="616.70" y="257.10" width="11.00" height="3.90" fill="#EE8A86" stroke="none" stroke-width="0.5"/>
<rect x="561.70" y="261.30" width="11.60" height="5.71" fill="#F4CCCC" stroke="none" stroke-width="0.5"/>
<rect x="572.70" y="261.30" width="11.60" height="5.71" fill="#AAAAF6" stroke="none" stroke-width="0.5"/>
<rect x="583.70" y="261.30" width="11.60" height="5.71" fill="#F5241E" stroke="none" stroke-width="0.5"/>
<rect x="594.70" y="261.30" width="11.60" height="5.71" fill="#B0B0F6" stroke="none" stroke-width="0.5"/>
<rect x="605.70" y="261.30" width="11.60" height="5.71" fill="#B0B0F6" stroke="none" stroke-width="0.5"/>
<rect x="616.70" y="261.30" width="11.00" height="5.71" fill="#B0B0F6" stroke="none" stroke-width="0.5"/>
<rect x="561.70" y="266.41" width="11.60" height="5.71" fill="#A8A8F6" stroke="none" stroke-width="0.5"/>
<rect x="572.70" y="266.41" width="11.60" height="5.71" fill="#A8A8F6" stroke="none" stroke-width="0.5"/>
<rect x="583.70" y="266.41" width="11.60" height="5.71" fill="#A8A8F6" stroke="none" stroke-width="0.5"/>
<rect x="594.70" y="266.41" width="11.60" height="5.71" fill="#F5241E" stroke="none" stroke-width="0.5"/>
<rect x="605.70" y="266.41" width="11.60" height="5.71" fill="#B4B4F8" stroke="none" stroke-width="0.5"/>
<rect x="616.70" y="266.41" width="11.00" height="5.71" fill="#F6E0E0" stroke="none" stroke-width="0.5"/>
<rect x="561.70" y="271.52" width="11.60" height="5.71" fill="#A0A0F6" stroke="none" stroke-width="0.5"/>
<rect x="572.70" y="271.52" width="11.60" height="5.71" fill="#A0A0F6" stroke="none" stroke-width="0.5"/>
<rect x="583.70" y="271.52" width="11.60" height="5.71" fill="#A0A0F6" stroke="none" stroke-width="0.5"/>
<rect x="594.70" y="271.52" width="11.60" height="5.71" fill="#F22A22" stroke="none" stroke-width="0.5"/>
<rect x="605.70" y="271.52" width="11.60" height="5.71" fill="#A8A8F4" stroke="none" stroke-width="0.5"/>
<rect x="616.70" y="271.52" width="11.00" height="5.71" fill="#F07070" stroke="none" stroke-width="0.5"/>
<rect x="561.70" y="276.63" width="11.60" height="5.71" fill="#8C8CF2" stroke="none" stroke-width="0.5"/>
<rect x="572.70" y="276.63" width="11.60" height="5.71" fill="#8C8CF2" stroke="none" stroke-width="0.5"/>
<rect x="583.70" y="276.63" width="11.60" height="5.71" fill="#8C8CF2" stroke="none" stroke-width="0.5"/>
<rect x="594.70" y="276.63" width="11.60" height="5.71" fill="#F05454" stroke="none" stroke-width="0.5"/>
<rect x="605.70" y="276.63" width="11.60" height="5.71" fill="#F06262" stroke="none" stroke-width="0.5"/>
<rect x="616.70" y="276.63" width="11.00" height="5.71" fill="#F4D4D6" stroke="none" stroke-width="0.5"/>
<rect x="561.70" y="281.74" width="11.60" height="5.71" fill="#C4C4FA" stroke="none" stroke-width="0.5"/>
<rect x="572.70" y="281.74" width="11.60" height="5.71" fill="#C4C4FA" stroke="none" stroke-width="0.5"/>
<rect x="583.70" y="281.74" width="11.60" height="5.71" fill="#C4C4FA" stroke="none" stroke-width="0.5"/>
<rect x="594.70" y="281.74" width="11.60" height="5.71" fill="#FFFFFF" stroke="none" stroke-width="0.5"/>
<rect x="605.70" y="281.74" width="11.60" height="5.71" fill="#BCBCF8" stroke="none" stroke-width="0.5"/>
<rect x="616.70" y="281.74" width="11.00" height="5.71" fill="#F5241E" stroke="none" stroke-width="0.5"/>
<rect x="561.70" y="286.85" width="11.60" height="5.71" fill="#C4C4FA" stroke="none" stroke-width="0.5"/>
<rect x="572.70" y="286.85" width="11.60" height="5.71" fill="#C4C4FA" stroke="none" stroke-width="0.5"/>
<rect x="583.70" y="286.85" width="11.60" height="5.71" fill="#C4C4FA" stroke="none" stroke-width="0.5"/>
<rect x="594.70" y="286.85" width="11.60" height="5.71" fill="#FFF6F6" stroke="none" stroke-width="0.5"/>
<rect x="605.70" y="286.85" width="11.60" height="5.71" fill="#BCBCF8" stroke="none" stroke-width="0.5"/>
<rect x="616.70" y="286.85" width="11.00" height="5.71" fill="#F5241E" stroke="none" stroke-width="0.5"/>
<rect x="561.70" y="291.96" width="11.60" height="5.71" fill="#C4C4FA" stroke="none" stroke-width="0.5"/>
<rect x="572.70" y="291.96" width="11.60" height="5.71" fill="#C4C4FA" stroke="none" stroke-width="0.5"/>
<rect x="583.70" y="291.96" width="11.60" height="5.71" fill="#C4C4FA" stroke="none" stroke-width="0.5"/>
<rect x="594.70" y="291.96" width="11.60" height="5.71" fill="#E8E8FC" stroke="none" stroke-width="0.5"/>
<rect x="605.70" y="291.96" width="11.60" height="5.71" fill="#BCBCF8" stroke="none" stroke-width="0.5"/>
<rect x="616.70" y="291.96" width="11.00" height="5.71" fill="#F5241E" stroke="none" stroke-width="0.5"/>
<rect x="561.70" y="297.07" width="11.60" height="5.71" fill="#C4C4FA" stroke="none" stroke-width="0.5"/>
<rect x="572.70" y="297.07" width="11.60" height="5.71" fill="#C4C4FA" stroke="none" stroke-width="0.5"/>
<rect x="583.70" y="297.07" width="11.60" height="5.71" fill="#C4C4FA" stroke="none" stroke-width="0.5"/>
<rect x="594.70" y="297.07" width="11.60" height="5.71" fill="#DCDCFA" stroke="none" stroke-width="0.5"/>
<rect x="605.70" y="297.07" width="11.60" height="5.71" fill="#BCBCF8" stroke="none" stroke-width="0.5"/>
<rect x="616.70" y="297.07" width="11.00" height="5.71" fill="#F5241E" stroke="none" stroke-width="0.5"/>
<rect x="561.70" y="302.18" width="11.60" height="5.71" fill="#C4C4FA" stroke="none" stroke-width="0.5"/>
<rect x="572.70" y="302.18" width="11.60" height="5.71" fill="#C4C4FA" stroke="none" stroke-width="0.5"/>
<rect x="583.70" y="302.18" width="11.60" height="5.71" fill="#C4C4FA" stroke="none" stroke-width="0.5"/>
<rect x="594.70" y="302.18" width="11.60" height="5.71" fill="#D8D8FA" stroke="none" stroke-width="0.5"/>
<rect x="605.70" y="302.18" width="11.60" height="5.71" fill="#BCBCF8" stroke="none" stroke-width="0.5"/>
<rect x="616.70" y="302.18" width="11.00" height="5.71" fill="#F5241E" stroke="none" stroke-width="0.5"/>
<rect x="561.70" y="307.29" width="11.60" height="5.71" fill="#C4C4FA" stroke="none" stroke-width="0.5"/>
<rect x="572.70" y="307.29" width="11.60" height="5.71" fill="#C4C4FA" stroke="none" stroke-width="0.5"/>
<rect x="583.70" y="307.29" width="11.60" height="5.71" fill="#C4C4FA" stroke="none" stroke-width="0.5"/>
<rect x="594.70" y="307.29" width="11.60" height="5.71" fill="#D4D4FA" stroke="none" stroke-width="0.5"/>
<rect x="605.70" y="307.29" width="11.60" height="5.71" fill="#BCBCF8" stroke="none" stroke-width="0.5"/>
<rect x="616.70" y="307.29" width="11.00" height="5.71" fill="#F5241E" stroke="none" stroke-width="0.5"/>
<rect x="561.70" y="312.40" width="11.60" height="5.71" fill="#A0A0F6" stroke="none" stroke-width="0.5"/>
<rect x="572.70" y="312.40" width="11.60" height="5.71" fill="#A0A0F6" stroke="none" stroke-width="0.5"/>
<rect x="583.70" y="312.40" width="11.60" height="5.71" fill="#A0A0F6" stroke="none" stroke-width="0.5"/>
<rect x="594.70" y="312.40" width="11.60" height="5.71" fill="#B8B8F8" stroke="none" stroke-width="0.5"/>
<rect x="605.70" y="312.40" width="11.60" height="5.71" fill="#F04848" stroke="none" stroke-width="0.5"/>
<rect x="616.70" y="312.40" width="11.00" height="5.71" fill="#F07070" stroke="none" stroke-width="0.5"/>
<rect x="561.70" y="317.51" width="11.60" height="5.71" fill="#9494F4" stroke="none" stroke-width="0.5"/>
<rect x="572.70" y="317.51" width="11.60" height="5.71" fill="#9494F4" stroke="none" stroke-width="0.5"/>
<rect x="583.70" y="317.51" width="11.60" height="5.71" fill="#9494F4" stroke="none" stroke-width="0.5"/>
<rect x="594.70" y="317.51" width="11.60" height="5.71" fill="#FFF6F6" stroke="none" stroke-width="0.5"/>
<rect x="605.70" y="317.51" width="11.60" height="5.71" fill="#F06A6A" stroke="none" stroke-width="0.5"/>
<rect x="616.70" y="317.51" width="11.00" height="5.71" fill="#F07070" stroke="none" stroke-width="0.5"/>
<rect x="561.70" y="322.62" width="11.60" height="5.71" fill="#A0A0F6" stroke="none" stroke-width="0.5"/>
<rect x="572.70" y="322.62" width="11.60" height="5.71" fill="#A0A0F6" stroke="none" stroke-width="0.5"/>
<rect x="583.70" y="322.62" width="11.60" height="5.71" fill="#A0A0F6" stroke="none" stroke-width="0.5"/>
<rect x="594.70" y="322.62" width="11.60" height="5.71" fill="#F4C8C8" stroke="none" stroke-width="0.5"/>
<rect x="605.70" y="322.62" width="11.60" height="5.71" fill="#F5241E" stroke="none" stroke-width="0.5"/>
<rect x="616.70" y="322.62" width="11.00" height="5.71" fill="#FAF0F0" stroke="none" stroke-width="0.5"/>
<rect x="561.70" y="327.73" width="11.60" height="5.71" fill="#B4B4F8" stroke="none" stroke-width="0.5"/>
<rect x="572.70" y="327.73" width="11.60" height="5.71" fill="#B4B4F8" stroke="none" stroke-width="0.5"/>
<rect x="583.70" y="327.73" width="11.60" height="5.71" fill="#B4B4F8" stroke="none" stroke-width="0.5"/>
<rect x="594.70" y="327.73" width="11.60" height="5.71" fill="#B4B4F8" stroke="none" stroke-width="0.5"/>
<rect x="605.70" y="327.73" width="11.60" height="5.71" fill="#F5241E" stroke="none" stroke-width="0.5"/>
<rect x="616.70" y="327.73" width="11.00" height="5.71" fill="#FAF4F6" stroke="none" stroke-width="0.5"/>
<rect x="561.70" y="332.84" width="11.60" height="5.71" fill="#B8B8F8" stroke="none" stroke-width="0.5"/>
<rect x="572.70" y="332.84" width="11.60" height="5.71" fill="#B8B8F8" stroke="none" stroke-width="0.5"/>
<rect x="583.70" y="332.84" width="11.60" height="5.71" fill="#B8B8F8" stroke="none" stroke-width="0.5"/>
<rect x="594.70" y="332.84" width="11.60" height="5.71" fill="#B8B8F8" stroke="none" stroke-width="0.5"/>
<rect x="605.70" y="332.84" width="11.60" height="5.71" fill="#F5241E" stroke="none" stroke-width="0.5"/>
<rect x="616.70" y="332.84" width="11.00" height="5.71" fill="#F4E0E0" stroke="none" stroke-width="0.5"/>
<rect x="561.70" y="337.95" width="11.60" height="5.71" fill="#BCBCF8" stroke="none" stroke-width="0.5"/>
<rect x="572.70" y="337.95" width="11.60" height="5.71" fill="#BCBCF8" stroke="none" stroke-width="0.5"/>
<rect x="583.70" y="337.95" width="11.60" height="5.71" fill="#BCBCF8" stroke="none" stroke-width="0.5"/>
<rect x="594.70" y="337.95" width="11.60" height="5.71" fill="#FFFFFF" stroke="none" stroke-width="0.5"/>
<rect x="605.70" y="337.95" width="11.60" height="5.71" fill="#F5241E" stroke="none" stroke-width="0.5"/>
<rect x="616.70" y="337.95" width="11.00" height="5.71" fill="#C0C0F8" stroke="none" stroke-width="0.5"/>
<rect x="561.70" y="343.06" width="11.60" height="5.71" fill="#C0C0F8" stroke="none" stroke-width="0.5"/>
<rect x="572.70" y="343.06" width="11.60" height="5.71" fill="#C0C0F8" stroke="none" stroke-width="0.5"/>
<rect x="583.70" y="343.06" width="11.60" height="5.71" fill="#C0C0F8" stroke="none" stroke-width="0.5"/>
<rect x="594.70" y="343.06" width="11.60" height="5.71" fill="#E4E4FC" stroke="none" stroke-width="0.5"/>
<rect x="605.70" y="343.06" width="11.60" height="5.71" fill="#F5241E" stroke="none" stroke-width="0.5"/>
<rect x="616.70" y="343.06" width="11.00" height="5.71" fill="#C4C4F8" stroke="none" stroke-width="0.5"/>
<rect x="561.70" y="348.17" width="11.60" height="5.11" fill="#C4C4F8" stroke="none" stroke-width="0.5"/>
<rect x="572.70" y="348.17" width="11.60" height="5.11" fill="#C4C4F8" stroke="none" stroke-width="0.5"/>
<rect x="583.70" y="348.17" width="11.60" height="5.11" fill="#C4C4F8" stroke="none" stroke-width="0.5"/>
<rect x="594.70" y="348.17" width="11.60" height="5.11" fill="#E0E0FC" stroke="none" stroke-width="0.5"/>
<rect x="605.70" y="348.17" width="11.60" height="5.11" fill="#F5241E" stroke="none" stroke-width="0.5"/>
<rect x="616.70" y="348.17" width="11.00" height="5.11" fill="#C8C8F8" stroke="none" stroke-width="0.5"/>
<text x="628.9" y="265.7" font-size="5.2" style="font-weight:normal">Cls8</text>
<text x="628.9" y="270.8" font-size="5.2" style="font-weight:normal">Tsku</text>
<text x="628.9" y="275.9" font-size="5.2" style="font-weight:normal">Aldh3a2</text>
<text x="628.9" y="281.0" font-size="5.2" style="font-weight:normal">Kcnj13</text>
<text x="628.9" y="286.1" font-size="5.2" style="font-weight:normal">Stard2</text>
<text x="628.9" y="291.2" font-size="5.2" style="font-weight:normal">Mycbp2</text>
<text x="628.9" y="296.3" font-size="5.2" style="font-weight:normal">Chd</text>
<text x="628.9" y="301.4" font-size="5.2" style="font-weight:normal">Shank2</text>
<text x="628.9" y="306.5" font-size="5.2" style="font-weight:normal">Zfp385a</text>
<text x="628.9" y="311.6" font-size="5.2" style="font-weight:normal">Cacna1c</text>
<text x="628.9" y="316.8" font-size="5.2" style="font-weight:normal">Fnbp1</text>
<text x="628.9" y="321.9" font-size="5.2" style="font-weight:normal">Fry1</text>
<text x="628.9" y="327.0" font-size="5.2" style="font-weight:normal">Nectin1</text>
<text x="628.9" y="332.1" font-size="5.2" style="font-weight:normal">Cdnf</text>
<text x="628.9" y="337.2" font-size="5.2" style="font-weight:normal">Mex2</text>
<text x="628.9" y="342.3" font-size="5.2" style="font-weight:normal">Lgr6</text>
<text x="628.9" y="347.4" font-size="5.2" style="font-weight:normal">Abl1</text>
<text x="628.9" y="352.5" font-size="5.2" style="font-weight:normal">Ralgds</text>
<text x="628.9" y="260.0" font-size="3.6">Group</text>
<rect x="562.10" y="375.80" width="11.53" height="3.90" fill="#EE8A86" stroke="none" stroke-width="0.5"/>
<rect x="573.03" y="375.80" width="11.53" height="3.90" fill="#EE8A86" stroke="none" stroke-width="0.5"/>
<rect x="583.96" y="375.80" width="11.53" height="3.90" fill="#EE8A86" stroke="none" stroke-width="0.5"/>
<rect x="594.89" y="375.80" width="11.53" height="3.90" fill="#6CEBE0" stroke="none" stroke-width="0.5"/>
<rect x="605.82" y="375.80" width="11.53" height="3.90" fill="#6CEBE0" stroke="none" stroke-width="0.5"/>
<rect x="616.75" y="375.80" width="10.93" height="3.90" fill="#6CEBE0" stroke="none" stroke-width="0.5"/>
<rect x="562.10" y="380.00" width="11.53" height="8.25" fill="#F53430" stroke="none" stroke-width="0.5"/>
<rect x="573.03" y="380.00" width="11.53" height="8.25" fill="#A8A8F0" stroke="none" stroke-width="0.5"/>
<rect x="583.96" y="380.00" width="11.53" height="8.25" fill="#F08080" stroke="none" stroke-width="0.5"/>
<rect x="594.89" y="380.00" width="11.53" height="8.25" fill="#A8A8F6" stroke="none" stroke-width="0.5"/>
<rect x="605.82" y="380.00" width="11.53" height="8.25" fill="#A8A8F6" stroke="none" stroke-width="0.5"/>
<rect x="616.75" y="380.00" width="10.93" height="8.25" fill="#A8A8F6" stroke="none" stroke-width="0.5"/>
<rect x="562.10" y="387.65" width="11.53" height="8.25" fill="#F5241E" stroke="none" stroke-width="0.5"/>
<rect x="573.03" y="387.65" width="11.53" height="8.25" fill="#D2D2F8" stroke="none" stroke-width="0.5"/>
<rect x="583.96" y="387.65" width="11.53" height="8.25" fill="#F4C8C8" stroke="none" stroke-width="0.5"/>
<rect x="594.89" y="387.65" width="11.53" height="8.25" fill="#A8A8F6" stroke="none" stroke-width="0.5"/>
<rect x="605.82" y="387.65" width="11.53" height="8.25" fill="#A8A8F6" stroke="none" stroke-width="0.5"/>
<rect x="616.75" y="387.65" width="10.93" height="8.25" fill="#A8A8F6" stroke="none" stroke-width="0.5"/>
<rect x="562.10" y="395.30" width="11.53" height="8.25" fill="#F5241E" stroke="none" stroke-width="0.5"/>
<rect x="573.03" y="395.30" width="11.53" height="8.25" fill="#EEEEFC" stroke="none" stroke-width="0.5"/>
<rect x="583.96" y="395.30" width="11.53" height="8.25" fill="#C2C2FA" stroke="none" stroke-width="0.5"/>
<rect x="594.89" y="395.30" width="11.53" height="8.25" fill="#C0C0FA" stroke="none" stroke-width="0.5"/>
<rect x="605.82" y="395.30" width="11.53" height="8.25" fill="#C0C0FA" stroke="none" stroke-width="0.5"/>
<rect x="616.75" y="395.30" width="10.93" height="8.25" fill="#C0C0FA" stroke="none" stroke-width="0.5"/>
<rect x="562.10" y="402.95" width="11.53" height="8.25" fill="#F5241E" stroke="none" stroke-width="0.5"/>
<rect x="573.03" y="402.95" width="11.53" height="8.25" fill="#F4D2D2" stroke="none" stroke-width="0.5"/>
<rect x="583.96" y="402.95" width="11.53" height="8.25" fill="#B4B4F8" stroke="none" stroke-width="0.5"/>
<rect x="594.89" y="402.95" width="11.53" height="8.25" fill="#B4B4F8" stroke="none" stroke-width="0.5"/>
<rect x="605.82" y="402.95" width="11.53" height="8.25" fill="#B4B4F8" stroke="none" stroke-width="0.5"/>
<rect x="616.75" y="402.95" width="10.93" height="8.25" fill="#B4B4F8" stroke="none" stroke-width="0.5"/>
<rect x="562.10" y="410.60" width="11.53" height="8.25" fill="#F5241E" stroke="none" stroke-width="0.5"/>
<rect x="573.03" y="410.60" width="11.53" height="8.25" fill="#F0B0B0" stroke="none" stroke-width="0.5"/>
<rect x="583.96" y="410.60" width="11.53" height="8.25" fill="#B4B4F8" stroke="none" stroke-width="0.5"/>
<rect x="594.89" y="410.60" width="11.53" height="8.25" fill="#B4B4F8" stroke="none" stroke-width="0.5"/>
<rect x="605.82" y="410.60" width="11.53" height="8.25" fill="#B4B4F8" stroke="none" stroke-width="0.5"/>
<rect x="616.75" y="410.60" width="10.93" height="8.25" fill="#B4B4F8" stroke="none" stroke-width="0.5"/>
<rect x="562.10" y="418.25" width="11.53" height="8.25" fill="#F53030" stroke="none" stroke-width="0.5"/>
<rect x="573.03" y="418.25" width="11.53" height="8.25" fill="#F09090" stroke="none" stroke-width="0.5"/>
<rect x="583.96" y="418.25" width="11.53" height="8.25" fill="#B4B4F8" stroke="none" stroke-width="0.5"/>
<rect x="594.89" y="418.25" width="11.53" height="8.25" fill="#B4B4F8" stroke="none" stroke-width="0.5"/>
<rect x="605.82" y="418.25" width="11.53" height="8.25" fill="#B4B4F8" stroke="none" stroke-width="0.5"/>
<rect x="616.75" y="418.25" width="10.93" height="8.25" fill="#B4B4F8" stroke="none" stroke-width="0.5"/>
<rect x="562.10" y="425.90" width="11.53" height="8.25" fill="#F2B4BA" stroke="none" stroke-width="0.5"/>
<rect x="573.03" y="425.90" width="11.53" height="8.25" fill="#F5241E" stroke="none" stroke-width="0.5"/>
<rect x="583.96" y="425.90" width="11.53" height="8.25" fill="#B4B4F8" stroke="none" stroke-width="0.5"/>
<rect x="594.89" y="425.90" width="11.53" height="8.25" fill="#B4B4F8" stroke="none" stroke-width="0.5"/>
<rect x="605.82" y="425.90" width="11.53" height="8.25" fill="#B4B4F8" stroke="none" stroke-width="0.5"/>
<rect x="616.75" y="425.90" width="10.93" height="8.25" fill="#B4B4F8" stroke="none" stroke-width="0.5"/>
<rect x="562.10" y="433.55" width="11.53" height="8.25" fill="#F4C2C6" stroke="none" stroke-width="0.5"/>
<rect x="573.03" y="433.55" width="11.53" height="8.25" fill="#F5241E" stroke="none" stroke-width="0.5"/>
<rect x="583.96" y="433.55" width="11.53" height="8.25" fill="#B4B4F8" stroke="none" stroke-width="0.5"/>
<rect x="594.89" y="433.55" width="11.53" height="8.25" fill="#B4B4F8" stroke="none" stroke-width="0.5"/>
<rect x="605.82" y="433.55" width="11.53" height="8.25" fill="#B4B4F8" stroke="none" stroke-width="0.5"/>
<rect x="616.75" y="433.55" width="10.93" height="8.25" fill="#B4B4F8" stroke="none" stroke-width="0.5"/>
<rect x="562.10" y="441.20" width="11.53" height="8.25" fill="#F4BEC2" stroke="none" stroke-width="0.5"/>
<rect x="573.03" y="441.20" width="11.53" height="8.25" fill="#F5241E" stroke="none" stroke-width="0.5"/>
<rect x="583.96" y="441.20" width="11.53" height="8.25" fill="#B4B4F8" stroke="none" stroke-width="0.5"/>
<rect x="594.89" y="441.20" width="11.53" height="8.25" fill="#B4B4F8" stroke="none" stroke-width="0.5"/>
<rect x="605.82" y="441.20" width="11.53" height="8.25" fill="#B4B4F8" stroke="none" stroke-width="0.5"/>
<rect x="616.75" y="441.20" width="10.93" height="8.25" fill="#B4B4F8" stroke="none" stroke-width="0.5"/>
<rect x="562.10" y="448.85" width="11.53" height="8.25" fill="#F05050" stroke="none" stroke-width="0.5"/>
<rect x="573.03" y="448.85" width="11.53" height="8.25" fill="#F04C4C" stroke="none" stroke-width="0.5"/>
<rect x="583.96" y="448.85" width="11.53" height="8.25" fill="#B4B4F8" stroke="none" stroke-width="0.5"/>
<rect x="594.89" y="448.85" width="11.53" height="8.25" fill="#B4B4F8" stroke="none" stroke-width="0.5"/>
<rect x="605.82" y="448.85" width="11.53" height="8.25" fill="#B4B4F8" stroke="none" stroke-width="0.5"/>
<rect x="616.75" y="448.85" width="10.93" height="8.25" fill="#B4B4F8" stroke="none" stroke-width="0.5"/>
<rect x="562.10" y="456.50" width="11.53" height="8.25" fill="#F08080" stroke="none" stroke-width="0.5"/>
<rect x="573.03" y="456.50" width="11.53" height="8.25" fill="#F53030" stroke="none" stroke-width="0.5"/>
<rect x="583.96" y="456.50" width="11.53" height="8.25" fill="#B4B4F8" stroke="none" stroke-width="0.5"/>
<rect x="594.89" y="456.50" width="11.53" height="8.25" fill="#B4B4F8" stroke="none" stroke-width="0.5"/>
<rect x="605.82" y="456.50" width="11.53" height="8.25" fill="#B4B4F8" stroke="none" stroke-width="0.5"/>
<rect x="616.75" y="456.50" width="10.93" height="8.25" fill="#B4B4F8" stroke="none" stroke-width="0.5"/>
<rect x="562.10" y="464.15" width="11.53" height="7.65" fill="#F07070" stroke="none" stroke-width="0.5"/>
<rect x="573.03" y="464.15" width="11.53" height="7.65" fill="#F53030" stroke="none" stroke-width="0.5"/>
<rect x="583.96" y="464.15" width="11.53" height="7.65" fill="#B4B4F8" stroke="none" stroke-width="0.5"/>
<rect x="594.89" y="464.15" width="11.53" height="7.65" fill="#B4B4F8" stroke="none" stroke-width="0.5"/>
<rect x="605.82" y="464.15" width="11.53" height="7.65" fill="#B4B4F8" stroke="none" stroke-width="0.5"/>
<rect x="616.75" y="464.15" width="10.93" height="7.65" fill="#B4B4F8" stroke="none" stroke-width="0.5"/>
<text x="628.9" y="385.6" font-size="5.6" style="font-weight:normal">Syt7</text>
<text x="628.9" y="393.3" font-size="5.6" style="font-weight:normal">Ptpa</text>
<text x="628.9" y="400.9" font-size="5.6" style="font-weight:normal">Tac1</text>
<text x="628.9" y="408.6" font-size="5.6" style="font-weight:normal">Aph1c</text>
<text x="628.9" y="416.2" font-size="5.6" style="font-weight:normal">Shroom2</text>
<text x="628.9" y="423.9" font-size="5.6" style="font-weight:normal">Lrrc4c</text>
<text x="628.9" y="431.5" font-size="5.6" style="font-weight:normal">Plec</text>
<text x="628.9" y="439.2" font-size="5.6" style="font-weight:normal">Appl1</text>
<text x="628.9" y="446.8" font-size="5.6" style="font-weight:normal">Syt8</text>
<text x="628.9" y="454.5" font-size="5.6" style="font-weight:normal">Nectin1</text>
<text x="628.9" y="462.1" font-size="5.6" style="font-weight:normal">Cttn</text>
<text x="628.9" y="469.8" font-size="5.6" style="font-weight:normal">Dlg2</text>
<text x="628.9" y="378.7" font-size="3.6">Group</text>
<line x1="558.5" y1="269.0" x2="558.5" y2="274.1" stroke="#444" stroke-width="0.45"/>
<line x1="558.5" y1="269.0" x2="561.7" y2="269.0" stroke="#444" stroke-width="0.45"/>
<line x1="558.5" y1="274.1" x2="561.7" y2="274.1" stroke="#444" stroke-width="0.45"/>
<line x1="554.5" y1="271.5" x2="554.5" y2="279.2" stroke="#444" stroke-width="0.45"/>
<line x1="554.5" y1="271.5" x2="558.5" y2="271.5" stroke="#444" stroke-width="0.45"/>
<line x1="554.5" y1="279.2" x2="561.7" y2="279.2" stroke="#444" stroke-width="0.45"/>
<line x1="560.6" y1="284.3" x2="561.7" y2="284.3" stroke="#444" stroke-width="0.45"/>
<line x1="560.6" y1="289.4" x2="561.7" y2="289.4" stroke="#444" stroke-width="0.45"/>
<line x1="560.6" y1="294.5" x2="561.7" y2="294.5" stroke="#444" stroke-width="0.45"/>
<line x1="560.6" y1="299.6" x2="561.7" y2="299.6" stroke="#444" stroke-width="0.45"/>
<line x1="560.6" y1="304.7" x2="561.7" y2="304.7" stroke="#444" stroke-width="0.45"/>
<line x1="560.6" y1="309.8" x2="561.7" y2="309.8" stroke="#444" stroke-width="0.45"/>
<line x1="560.6" y1="284.3" x2="560.6" y2="309.8" stroke="#444" stroke-width="0.45"/>
<line x1="549.9" y1="275.4" x2="549.9" y2="297.1" stroke="#444" stroke-width="0.45"/>
<line x1="549.9" y1="275.4" x2="554.5" y2="275.4" stroke="#444" stroke-width="0.45"/>
<line x1="549.9" y1="297.1" x2="560.6" y2="297.1" stroke="#444" stroke-width="0.45"/>
<line x1="559.4" y1="315.0" x2="559.4" y2="320.1" stroke="#444" stroke-width="0.45"/>
<line x1="559.4" y1="315.0" x2="561.7" y2="315.0" stroke="#444" stroke-width="0.45"/>
<line x1="559.4" y1="320.1" x2="561.7" y2="320.1" stroke="#444" stroke-width="0.45"/>
<line x1="557.0" y1="317.5" x2="557.0" y2="325.2" stroke="#444" stroke-width="0.45"/>
<line x1="557.0" y1="317.5" x2="559.4" y2="317.5" stroke="#444" stroke-width="0.45"/>
<line x1="557.0" y1="325.2" x2="561.7" y2="325.2" stroke="#444" stroke-width="0.45"/>
<line x1="560.0" y1="330.3" x2="560.0" y2="335.4" stroke="#444" stroke-width="0.45"/>
<line x1="560.0" y1="330.3" x2="561.7" y2="330.3" stroke="#444" stroke-width="0.45"/>
<line x1="560.0" y1="335.4" x2="561.7" y2="335.4" stroke="#444" stroke-width="0.45"/>
<line x1="560.0" y1="340.5" x2="560.0" y2="345.6" stroke="#444" stroke-width="0.45"/>
<line x1="560.0" y1="340.5" x2="561.7" y2="340.5" stroke="#444" stroke-width="0.45"/>
<line x1="560.0" y1="345.6" x2="561.7" y2="345.6" stroke="#444" stroke-width="0.45"/>
<line x1="558.5" y1="343.1" x2="558.5" y2="350.7" stroke="#444" stroke-width="0.45"/>
<line x1="558.5" y1="343.1" x2="560.0" y2="343.1" stroke="#444" stroke-width="0.45"/>
<line x1="558.5" y1="350.7" x2="561.7" y2="350.7" stroke="#444" stroke-width="0.45"/>
<line x1="557.3" y1="332.8" x2="557.3" y2="346.9" stroke="#444" stroke-width="0.45"/>
<line x1="557.3" y1="332.8" x2="560.0" y2="332.8" stroke="#444" stroke-width="0.45"/>
<line x1="557.3" y1="346.9" x2="558.5" y2="346.9" stroke="#444" stroke-width="0.45"/>
<line x1="553.2" y1="321.3" x2="553.2" y2="339.9" stroke="#444" stroke-width="0.45"/>
<line x1="553.2" y1="321.3" x2="557.0" y2="321.3" stroke="#444" stroke-width="0.45"/>
<line x1="553.2" y1="339.9" x2="557.3" y2="339.9" stroke="#444" stroke-width="0.45"/>
<line x1="547.4" y1="286.2" x2="547.4" y2="330.6" stroke="#444" stroke-width="0.45"/>
<line x1="547.4" y1="286.2" x2="549.9" y2="286.2" stroke="#444" stroke-width="0.45"/>
<line x1="547.4" y1="330.6" x2="553.2" y2="330.6" stroke="#444" stroke-width="0.45"/>
<line x1="545.3" y1="263.9" x2="545.3" y2="308.4" stroke="#444" stroke-width="0.45"/>
<line x1="545.3" y1="263.9" x2="561.7" y2="263.9" stroke="#444" stroke-width="0.45"/>
<line x1="545.3" y1="308.4" x2="547.4" y2="308.4" stroke="#444" stroke-width="0.45"/>
<line x1="558.3" y1="383.8" x2="558.3" y2="391.5" stroke="#444" stroke-width="0.45"/>
<line x1="558.3" y1="383.8" x2="562.1" y2="383.8" stroke="#444" stroke-width="0.45"/>
<line x1="558.3" y1="391.5" x2="562.1" y2="391.5" stroke="#444" stroke-width="0.45"/>
<line x1="559.6" y1="399.1" x2="559.6" y2="406.8" stroke="#444" stroke-width="0.45"/>
<line x1="559.6" y1="399.1" x2="562.1" y2="399.1" stroke="#444" stroke-width="0.45"/>
<line x1="559.6" y1="406.8" x2="562.1" y2="406.8" stroke="#444" stroke-width="0.45"/>
<line x1="560.4" y1="414.4" x2="560.4" y2="422.1" stroke="#444" stroke-width="0.45"/>
<line x1="560.4" y1="414.4" x2="562.1" y2="414.4" stroke="#444" stroke-width="0.45"/>
<line x1="560.4" y1="422.1" x2="562.1" y2="422.1" stroke="#444" stroke-width="0.45"/>
<line x1="556.2" y1="402.9" x2="556.2" y2="418.2" stroke="#444" stroke-width="0.45"/>
<line x1="556.2" y1="402.9" x2="559.6" y2="402.9" stroke="#444" stroke-width="0.45"/>
<line x1="556.2" y1="418.2" x2="560.4" y2="418.2" stroke="#444" stroke-width="0.45"/>
<line x1="550.7" y1="387.6" x2="550.7" y2="410.6" stroke="#444" stroke-width="0.45"/>
<line x1="550.7" y1="387.6" x2="558.3" y2="387.6" stroke="#444" stroke-width="0.45"/>
<line x1="550.7" y1="410.6" x2="556.2" y2="410.6" stroke="#444" stroke-width="0.45"/>
<line x1="560.5" y1="429.7" x2="562.1" y2="429.7" stroke="#444" stroke-width="0.45"/>
<line x1="560.5" y1="437.4" x2="562.1" y2="437.4" stroke="#444" stroke-width="0.45"/>
<line x1="560.5" y1="445.0" x2="562.1" y2="445.0" stroke="#444" stroke-width="0.45"/>
<line x1="560.5" y1="429.7" x2="560.5" y2="445.0" stroke="#444" stroke-width="0.45"/>
<line x1="560.5" y1="460.3" x2="560.5" y2="468.0" stroke="#444" stroke-width="0.45"/>
<line x1="560.5" y1="460.3" x2="562.1" y2="460.3" stroke="#444" stroke-width="0.45"/>
<line x1="560.5" y1="468.0" x2="562.1" y2="468.0" stroke="#444" stroke-width="0.45"/>
<line x1="558.0" y1="452.7" x2="558.0" y2="464.1" stroke="#444" stroke-width="0.45"/>
<line x1="558.0" y1="452.7" x2="562.1" y2="452.7" stroke="#444" stroke-width="0.45"/>
<line x1="558.0" y1="464.1" x2="560.5" y2="464.1" stroke="#444" stroke-width="0.45"/>
<line x1="556.2" y1="437.4" x2="556.2" y2="458.4" stroke="#444" stroke-width="0.45"/>
<line x1="556.2" y1="437.4" x2="560.5" y2="437.4" stroke="#444" stroke-width="0.45"/>
<line x1="556.2" y1="458.4" x2="558.0" y2="458.4" stroke="#444" stroke-width="0.45"/>
<line x1="546.3" y1="399.1" x2="546.3" y2="447.9" stroke="#444" stroke-width="0.45"/>
<line x1="546.3" y1="399.1" x2="550.7" y2="399.1" stroke="#444" stroke-width="0.45"/>
<line x1="546.3" y1="447.9" x2="556.2" y2="447.9" stroke="#444" stroke-width="0.45"/>
<defs><linearGradient id="bwr" x1="0" y1="1" x2="0" y2="0"><stop offset="0" stop-color="#0000F0"/><stop offset="0.5" stop-color="#FFFFFF"/><stop offset="1" stop-color="#F01010"/></linearGradient></defs>
<rect x="650.00" y="260.80" width="3.40" height="44.30" fill="url(#bwr)" stroke="none" stroke-width="0.5"/>
<text x="654.5" y="262.0" font-size="3.4" style="font-weight:normal">2</text>
<text x="654.5" y="273.1" font-size="3.4" style="font-weight:normal">1</text>
<text x="654.5" y="284.2" font-size="3.4" style="font-weight:normal">0</text>
<text x="654.5" y="295.2" font-size="3.4" style="font-weight:normal">-1</text>
<text x="654.5" y="306.3" font-size="3.4" style="font-weight:normal">-2</text>
<text x="659.0" y="263.2" font-size="3.6">Group</text>
<rect x="658.80" y="264.20" width="5.20" height="4.70" fill="#6CEBE0" stroke="none" stroke-width="0.5"/>
<text x="665.3" y="267.9" font-size="3.8" style="font-weight:normal">3xTg-AD</text>
<rect x="658.80" y="269.30" width="5.20" height="4.70" fill="#EE8A86" stroke="none" stroke-width="0.5"/>
<text x="665.3" y="273.0" font-size="3.8" style="font-weight:normal">WT</text>
<rect x="650.00" y="377.90" width="3.40" height="44.50" fill="url(#bwr)" stroke="none" stroke-width="0.5"/>
<text x="654.5" y="379.1" font-size="3.4" style="font-weight:normal">2</text>
<text x="654.5" y="390.2" font-size="3.4" style="font-weight:normal">1</text>
<text x="654.5" y="401.3" font-size="3.4" style="font-weight:normal">0</text>
<text x="654.5" y="412.5" font-size="3.4" style="font-weight:normal">-1</text>
<text x="654.5" y="423.6" font-size="3.4" style="font-weight:normal">-2</text>
<text x="659.0" y="380.3" font-size="3.6">Group</text>
<rect x="658.80" y="381.30" width="5.20" height="4.70" fill="#6CEBE0" stroke="none" stroke-width="0.5"/>
<text x="665.3" y="385.0" font-size="3.8" style="font-weight:normal">3xTg-AD</text>
<rect x="658.80" y="386.40" width="5.20" height="4.70" fill="#EE8A86" stroke="none" stroke-width="0.5"/>
<text x="665.3" y="390.1" font-size="3.0" style="font-weight:normal">3xTg-AD+β-OHB</text>
<line x1="29.3" y1="573.4" x2="318.8" y2="573.4" stroke="#111" stroke-width="0.85" stroke-dasharray="0.85,1.45"/>
<rect x="33.75" y="573.40" width="5.10" height="47.40" fill="#fff" stroke="#1A1AF0" stroke-width="1.5"/>
<line x1="36.3" y1="572.1" x2="36.3" y2="573.4" stroke="#1A1AF0" stroke-width="0.8"/>
<line x1="34.8" y1="572.1" x2="37.8" y2="572.1" stroke="#1A1AF0" stroke-width="0.8"/>
<circle cx="34.70" cy="567.87" r="1.65" fill="#1A1AF0" stroke="none" stroke-width="0.5"/>
<circle cx="36.30" cy="574.98" r="1.65" fill="#1A1AF0" stroke="none" stroke-width="0.5"/>
<circle cx="37.90" cy="573.40" r="1.65" fill="#1A1AF0" stroke="none" stroke-width="0.5"/>
<rect x="44.15" y="593.94" width="5.10" height="26.86" fill="#fff" stroke="#F02020" stroke-width="1.5"/>
<line x1="46.7" y1="592.7" x2="46.7" y2="593.9" stroke="#F02020" stroke-width="0.8"/>
<line x1="45.2" y1="592.7" x2="48.2" y2="592.7" stroke="#F02020" stroke-width="0.8"/>
<circle cx="45.10" cy="589.20" r="1.65" fill="#F02020" stroke="none" stroke-width="0.5"/>
<circle cx="46.70" cy="595.52" r="1.65" fill="#F02020" stroke="none" stroke-width="0.5"/>
<circle cx="48.30" cy="593.94" r="1.65" fill="#F02020" stroke="none" stroke-width="0.5"/>
<rect x="53.55" y="578.14" width="5.10" height="42.66" fill="#fff" stroke="#5EE048" stroke-width="1.5"/>
<line x1="56.1" y1="576.9" x2="56.1" y2="578.1" stroke="#5EE048" stroke-width="0.8"/>
<line x1="54.6" y1="576.9" x2="57.6" y2="576.9" stroke="#5EE048" stroke-width="0.8"/>
<circle cx="54.50" cy="574.19" r="1.65" fill="#5EE048" stroke="none" stroke-width="0.5"/>
<circle cx="56.10" cy="578.14" r="1.65" fill="#5EE048" stroke="none" stroke-width="0.5"/>
<circle cx="57.70" cy="579.72" r="1.65" fill="#5EE048" stroke="none" stroke-width="0.5"/>
<line x1="34.0" y1="550.0" x2="46.9" y2="550.0" stroke="#000" stroke-width="1.8"/>
<text x="34.6" y="547.4" font-size="6.9" text-anchor="middle">*</text>
<text x="38.5" y="547.4" font-size="6.9" text-anchor="middle">*</text>
<text x="42.4" y="547.4" font-size="6.9" text-anchor="middle">*</text>
<text x="46.3" y="547.4" font-size="6.9" text-anchor="middle">*</text>
<line x1="51.9" y1="550.0" x2="64.6" y2="550.0" stroke="#000" stroke-width="1.8"/>
<text x="54.4" y="547.4" font-size="6.9" text-anchor="middle">*</text>
<text x="58.2" y="547.4" font-size="6.9" text-anchor="middle">*</text>
<text x="62.1" y="547.4" font-size="6.9" text-anchor="middle">*</text>
<text x="46.7" y="634.5" font-size="9.0" text-anchor="middle" font-style="italic">Shank2</text>
<line x1="46.7" y1="620.8" x2="46.7" y2="622.6" stroke="#000" stroke-width="0.7"/>
<rect x="70.35" y="573.40" width="5.10" height="47.40" fill="#fff" stroke="#1A1AF0" stroke-width="1.5"/>
<line x1="72.9" y1="571.8" x2="72.9" y2="573.4" stroke="#1A1AF0" stroke-width="0.8"/>
<line x1="71.4" y1="571.8" x2="74.4" y2="571.8" stroke="#1A1AF0" stroke-width="0.8"/>
<circle cx="71.30" cy="567.87" r="1.65" fill="#1A1AF0" stroke="none" stroke-width="0.5"/>
<circle cx="72.90" cy="574.19" r="1.65" fill="#1A1AF0" stroke="none" stroke-width="0.5"/>
<circle cx="74.50" cy="573.40" r="1.65" fill="#1A1AF0" stroke="none" stroke-width="0.5"/>
<rect x="80.75" y="603.42" width="5.10" height="17.38" fill="#fff" stroke="#F02020" stroke-width="1.5"/>
<line x1="83.3" y1="602.6" x2="83.3" y2="603.4" stroke="#F02020" stroke-width="0.8"/>
<line x1="81.8" y1="602.6" x2="84.8" y2="602.6" stroke="#F02020" stroke-width="0.8"/>
<circle cx="81.70" cy="601.84" r="1.65" fill="#F02020" stroke="none" stroke-width="0.5"/>
<circle cx="83.30" cy="605.00" r="1.65" fill="#F02020" stroke="none" stroke-width="0.5"/>
<circle cx="84.90" cy="603.42" r="1.65" fill="#F02020" stroke="none" stroke-width="0.5"/>
<rect x="90.15" y="582.88" width="5.10" height="37.92" fill="#fff" stroke="#5EE048" stroke-width="1.5"/>
<line x1="92.7" y1="582.2" x2="92.7" y2="582.9" stroke="#5EE048" stroke-width="0.8"/>
<line x1="91.2" y1="582.2" x2="94.2" y2="582.2" stroke="#5EE048" stroke-width="0.8"/>
<circle cx="91.10" cy="582.09" r="1.65" fill="#5EE048" stroke="none" stroke-width="0.5"/>
<circle cx="92.70" cy="583.67" r="1.65" fill="#5EE048" stroke="none" stroke-width="0.5"/>
<circle cx="94.30" cy="582.88" r="1.65" fill="#5EE048" stroke="none" stroke-width="0.5"/>
<line x1="70.6" y1="550.0" x2="83.5" y2="550.0" stroke="#000" stroke-width="1.8"/>
<text x="71.2" y="547.4" font-size="6.9" text-anchor="middle">*</text>
<text x="75.1" y="547.4" font-size="6.9" text-anchor="middle">*</text>
<text x="79.0" y="547.4" font-size="6.9" text-anchor="middle">*</text>
<text x="82.9" y="547.4" font-size="6.9" text-anchor="middle">*</text>
<line x1="88.5" y1="550.0" x2="101.2" y2="550.0" stroke="#000" stroke-width="1.8"/>
<text x="89.0" y="547.4" font-size="6.9" text-anchor="middle">*</text>
<text x="92.9" y="547.4" font-size="6.9" text-anchor="middle">*</text>
<text x="96.8" y="547.4" font-size="6.9" text-anchor="middle">*</text>
<text x="100.7" y="547.4" font-size="6.9" text-anchor="middle">*</text>
<text x="83.3" y="634.5" font-size="9.0" text-anchor="middle" font-style="italic">Cacna1c</text>
<line x1="83.3" y1="620.8" x2="83.3" y2="622.6" stroke="#000" stroke-width="0.7"/>
<rect x="106.95" y="573.40" width="5.10" height="47.40" fill="#fff" stroke="#1A1AF0" stroke-width="1.5"/>
<line x1="109.5" y1="571.8" x2="109.5" y2="573.4" stroke="#1A1AF0" stroke-width="0.8"/>
<line x1="108.0" y1="571.8" x2="111.0" y2="571.8" stroke="#1A1AF0" stroke-width="0.8"/>
<circle cx="107.90" cy="570.24" r="1.65" fill="#1A1AF0" stroke="none" stroke-width="0.5"/>
<circle cx="109.50" cy="574.19" r="1.65" fill="#1A1AF0" stroke="none" stroke-width="0.5"/>
<circle cx="111.10" cy="573.40" r="1.65" fill="#1A1AF0" stroke="none" stroke-width="0.5"/>
<rect x="117.35" y="588.41" width="5.10" height="32.39" fill="#fff" stroke="#F02020" stroke-width="1.5"/>
<line x1="119.9" y1="586.8" x2="119.9" y2="588.4" stroke="#F02020" stroke-width="0.8"/>
<line x1="118.4" y1="586.8" x2="121.4" y2="586.8" stroke="#F02020" stroke-width="0.8"/>
<circle cx="118.30" cy="586.04" r="1.65" fill="#F02020" stroke="none" stroke-width="0.5"/>
<circle cx="119.90" cy="590.78" r="1.65" fill="#F02020" stroke="none" stroke-width="0.5"/>
<circle cx="121.50" cy="587.62" r="1.65" fill="#F02020" stroke="none" stroke-width="0.5"/>
<rect x="126.75" y="578.93" width="5.10" height="41.87" fill="#fff" stroke="#5EE048" stroke-width="1.5"/>
<line x1="129.3" y1="577.3" x2="129.3" y2="578.9" stroke="#5EE048" stroke-width="0.8"/>
<line x1="127.8" y1="577.3" x2="130.8" y2="577.3" stroke="#5EE048" stroke-width="0.8"/>
<circle cx="127.70" cy="575.77" r="1.65" fill="#5EE048" stroke="none" stroke-width="0.5"/>
<circle cx="129.30" cy="581.30" r="1.65" fill="#5EE048" stroke="none" stroke-width="0.5"/>
<circle cx="130.90" cy="579.72" r="1.65" fill="#5EE048" stroke="none" stroke-width="0.5"/>
<line x1="107.2" y1="550.0" x2="120.1" y2="550.0" stroke="#000" stroke-width="1.8"/>
<text x="109.8" y="547.4" font-size="6.9" text-anchor="middle">*</text>
<text x="113.7" y="547.4" font-size="6.9" text-anchor="middle">*</text>
<text x="117.6" y="547.4" font-size="6.9" text-anchor="middle">*</text>
<line x1="125.1" y1="550.0" x2="137.8" y2="550.0" stroke="#000" stroke-width="1.8"/>
<text x="129.5" y="547.4" font-size="6.9" text-anchor="middle">*</text>
<text x="133.4" y="547.4" font-size="6.9" text-anchor="middle">*</text>
<text x="119.9" y="634.5" font-size="9.0" text-anchor="middle" font-style="italic">Synj1</text>
<line x1="119.9" y1="620.8" x2="119.9" y2="622.6" stroke="#000" stroke-width="0.7"/>
<rect x="143.55" y="573.40" width="5.10" height="47.40" fill="#fff" stroke="#1A1AF0" stroke-width="1.5"/>
<line x1="146.1" y1="572.9" x2="146.1" y2="573.4" stroke="#1A1AF0" stroke-width="0.8"/>
<line x1="144.6" y1="572.9" x2="147.6" y2="572.9" stroke="#1A1AF0" stroke-width="0.8"/>
<circle cx="144.50" cy="572.61" r="1.65" fill="#1A1AF0" stroke="none" stroke-width="0.5"/>
<circle cx="146.10" cy="573.40" r="1.65" fill="#1A1AF0" stroke="none" stroke-width="0.5"/>
<circle cx="147.70" cy="573.40" r="1.65" fill="#1A1AF0" stroke="none" stroke-width="0.5"/>
<rect x="153.95" y="587.62" width="5.10" height="33.18" fill="#fff" stroke="#F02020" stroke-width="1.5"/>
<line x1="156.5" y1="586.8" x2="156.5" y2="587.6" stroke="#F02020" stroke-width="0.8"/>
<line x1="155.0" y1="586.8" x2="158.0" y2="586.8" stroke="#F02020" stroke-width="0.8"/>
<circle cx="154.90" cy="586.04" r="1.65" fill="#F02020" stroke="none" stroke-width="0.5"/>
<circle cx="156.50" cy="589.20" r="1.65" fill="#F02020" stroke="none" stroke-width="0.5"/>
<circle cx="158.10" cy="586.83" r="1.65" fill="#F02020" stroke="none" stroke-width="0.5"/>
<rect x="163.35" y="578.93" width="5.10" height="41.87" fill="#fff" stroke="#5EE048" stroke-width="1.5"/>
<line x1="165.9" y1="577.3" x2="165.9" y2="578.9" stroke="#5EE048" stroke-width="0.8"/>
<line x1="164.4" y1="577.3" x2="167.4" y2="577.3" stroke="#5EE048" stroke-width="0.8"/>
<circle cx="164.30" cy="576.56" r="1.65" fill="#5EE048" stroke="none" stroke-width="0.5"/>
<circle cx="165.90" cy="580.51" r="1.65" fill="#5EE048" stroke="none" stroke-width="0.5"/>
<circle cx="167.50" cy="578.93" r="1.65" fill="#5EE048" stroke="none" stroke-width="0.5"/>
<line x1="143.8" y1="550.0" x2="156.7" y2="550.0" stroke="#000" stroke-width="1.8"/>
<text x="144.4" y="547.4" font-size="6.9" text-anchor="middle">*</text>
<text x="148.3" y="547.4" font-size="6.9" text-anchor="middle">*</text>
<text x="152.2" y="547.4" font-size="6.9" text-anchor="middle">*</text>
<text x="156.1" y="547.4" font-size="6.9" text-anchor="middle">*</text>
<line x1="161.7" y1="550.0" x2="174.4" y2="550.0" stroke="#000" stroke-width="1.8"/>
<text x="164.2" y="547.4" font-size="6.9" text-anchor="middle">*</text>
<text x="168.1" y="547.4" font-size="6.9" text-anchor="middle">*</text>
<text x="172.0" y="547.4" font-size="6.9" text-anchor="middle">*</text>
<text x="156.5" y="634.5" font-size="9.0" text-anchor="middle" font-style="italic">Syt7</text>
<line x1="156.5" y1="620.8" x2="156.5" y2="622.6" stroke="#000" stroke-width="0.7"/>
<rect x="180.15" y="573.40" width="5.10" height="47.40" fill="#fff" stroke="#1A1AF0" stroke-width="1.5"/>
<line x1="182.7" y1="571.8" x2="182.7" y2="573.4" stroke="#1A1AF0" stroke-width="0.8"/>
<line x1="181.2" y1="571.8" x2="184.2" y2="571.8" stroke="#1A1AF0" stroke-width="0.8"/>
<circle cx="181.10" cy="570.24" r="1.65" fill="#1A1AF0" stroke="none" stroke-width="0.5"/>
<circle cx="182.70" cy="574.98" r="1.65" fill="#1A1AF0" stroke="none" stroke-width="0.5"/>
<circle cx="184.30" cy="574.19" r="1.65" fill="#1A1AF0" stroke="none" stroke-width="0.5"/>
<rect x="190.55" y="588.41" width="5.10" height="32.39" fill="#fff" stroke="#F02020" stroke-width="1.5"/>
<line x1="193.1" y1="586.8" x2="193.1" y2="588.4" stroke="#F02020" stroke-width="0.8"/>
<line x1="191.6" y1="586.8" x2="194.6" y2="586.8" stroke="#F02020" stroke-width="0.8"/>
<circle cx="191.50" cy="586.04" r="1.65" fill="#F02020" stroke="none" stroke-width="0.5"/>
<circle cx="193.10" cy="589.20" r="1.65" fill="#F02020" stroke="none" stroke-width="0.5"/>
<circle cx="194.70" cy="589.20" r="1.65" fill="#F02020" stroke="none" stroke-width="0.5"/>
<rect x="199.95" y="578.93" width="5.10" height="41.87" fill="#fff" stroke="#5EE048" stroke-width="1.5"/>
<line x1="202.5" y1="577.3" x2="202.5" y2="578.9" stroke="#5EE048" stroke-width="0.8"/>
<line x1="201.0" y1="577.3" x2="204.0" y2="577.3" stroke="#5EE048" stroke-width="0.8"/>
<circle cx="200.90" cy="575.77" r="1.65" fill="#5EE048" stroke="none" stroke-width="0.5"/>
<circle cx="202.50" cy="580.51" r="1.65" fill="#5EE048" stroke="none" stroke-width="0.5"/>
<circle cx="204.10" cy="578.14" r="1.65" fill="#5EE048" stroke="none" stroke-width="0.5"/>
<line x1="180.4" y1="550.0" x2="193.3" y2="550.0" stroke="#000" stroke-width="1.8"/>
<text x="183.0" y="547.4" font-size="6.9" text-anchor="middle">*</text>
<text x="186.9" y="547.4" font-size="6.9" text-anchor="middle">*</text>
<text x="190.8" y="547.4" font-size="6.9" text-anchor="middle">*</text>
<line x1="198.3" y1="550.0" x2="211.0" y2="550.0" stroke="#000" stroke-width="1.8"/>
<text x="202.7" y="547.4" font-size="6.9" text-anchor="middle">*</text>
<text x="206.6" y="547.4" font-size="6.9" text-anchor="middle">*</text>
<text x="193.1" y="634.5" font-size="9.0" text-anchor="middle" font-style="italic">Syt8</text>
<line x1="193.1" y1="620.8" x2="193.1" y2="622.6" stroke="#000" stroke-width="0.7"/>
<rect x="216.75" y="573.40" width="5.10" height="47.40" fill="#fff" stroke="#1A1AF0" stroke-width="1.5"/>
<line x1="219.3" y1="571.8" x2="219.3" y2="573.4" stroke="#1A1AF0" stroke-width="0.8"/>
<line x1="217.8" y1="571.8" x2="220.8" y2="571.8" stroke="#1A1AF0" stroke-width="0.8"/>
<circle cx="217.70" cy="569.45" r="1.65" fill="#1A1AF0" stroke="none" stroke-width="0.5"/>
<circle cx="219.30" cy="574.98" r="1.65" fill="#1A1AF0" stroke="none" stroke-width="0.5"/>
<circle cx="220.90" cy="573.40" r="1.65" fill="#1A1AF0" stroke="none" stroke-width="0.5"/>
<rect x="227.15" y="592.36" width="5.10" height="28.44" fill="#fff" stroke="#F02020" stroke-width="1.5"/>
<line x1="229.7" y1="591.1" x2="229.7" y2="592.4" stroke="#F02020" stroke-width="0.8"/>
<line x1="228.2" y1="591.1" x2="231.2" y2="591.1" stroke="#F02020" stroke-width="0.8"/>
<circle cx="228.10" cy="589.99" r="1.65" fill="#F02020" stroke="none" stroke-width="0.5"/>
<circle cx="229.70" cy="593.94" r="1.65" fill="#F02020" stroke="none" stroke-width="0.5"/>
<circle cx="231.30" cy="592.36" r="1.65" fill="#F02020" stroke="none" stroke-width="0.5"/>
<rect x="236.55" y="578.14" width="5.10" height="42.66" fill="#fff" stroke="#5EE048" stroke-width="1.5"/>
<line x1="239.1" y1="577.5" x2="239.1" y2="578.1" stroke="#5EE048" stroke-width="0.8"/>
<line x1="237.6" y1="577.5" x2="240.6" y2="577.5" stroke="#5EE048" stroke-width="0.8"/>
<circle cx="237.50" cy="577.35" r="1.65" fill="#5EE048" stroke="none" stroke-width="0.5"/>
<circle cx="239.10" cy="578.93" r="1.65" fill="#5EE048" stroke="none" stroke-width="0.5"/>
<circle cx="240.70" cy="578.14" r="1.65" fill="#5EE048" stroke="none" stroke-width="0.5"/>
<line x1="217.0" y1="550.0" x2="229.9" y2="550.0" stroke="#000" stroke-width="1.8"/>
<text x="217.6" y="547.4" font-size="6.9" text-anchor="middle">*</text>
<text x="221.5" y="547.4" font-size="6.9" text-anchor="middle">*</text>
<text x="225.4" y="547.4" font-size="6.9" text-anchor="middle">*</text>
<text x="229.3" y="547.4" font-size="6.9" text-anchor="middle">*</text>
<line x1="234.9" y1="550.0" x2="247.6" y2="550.0" stroke="#000" stroke-width="1.8"/>
<text x="235.4" y="547.4" font-size="6.9" text-anchor="middle">*</text>
<text x="239.3" y="547.4" font-size="6.9" text-anchor="middle">*</text>
<text x="243.2" y="547.4" font-size="6.9" text-anchor="middle">*</text>
<text x="247.1" y="547.4" font-size="6.9" text-anchor="middle">*</text>
<text x="229.7" y="634.5" font-size="9.0" text-anchor="middle" font-style="italic">Cttn</text>
<line x1="229.7" y1="620.8" x2="229.7" y2="622.6" stroke="#000" stroke-width="0.7"/>
<rect x="253.35" y="573.40" width="5.10" height="47.40" fill="#fff" stroke="#1A1AF0" stroke-width="1.5"/>
<line x1="255.9" y1="572.8" x2="255.9" y2="573.4" stroke="#1A1AF0" stroke-width="0.8"/>
<line x1="254.4" y1="572.8" x2="257.4" y2="572.8" stroke="#1A1AF0" stroke-width="0.8"/>
<circle cx="254.30" cy="572.61" r="1.65" fill="#1A1AF0" stroke="none" stroke-width="0.5"/>
<circle cx="255.90" cy="573.40" r="1.65" fill="#1A1AF0" stroke="none" stroke-width="0.5"/>
<circle cx="257.50" cy="573.40" r="1.65" fill="#1A1AF0" stroke="none" stroke-width="0.5"/>
<rect x="263.75" y="599.47" width="5.10" height="21.33" fill="#fff" stroke="#F02020" stroke-width="1.5"/>
<line x1="266.3" y1="597.9" x2="266.3" y2="599.5" stroke="#F02020" stroke-width="0.8"/>
<line x1="264.8" y1="597.9" x2="267.8" y2="597.9" stroke="#F02020" stroke-width="0.8"/>
<circle cx="264.70" cy="595.52" r="1.65" fill="#F02020" stroke="none" stroke-width="0.5"/>
<circle cx="266.30" cy="600.26" r="1.65" fill="#F02020" stroke="none" stroke-width="0.5"/>
<circle cx="267.90" cy="601.84" r="1.65" fill="#F02020" stroke="none" stroke-width="0.5"/>
<rect x="273.15" y="582.09" width="5.10" height="38.71" fill="#fff" stroke="#5EE048" stroke-width="1.5"/>
<line x1="275.7" y1="580.8" x2="275.7" y2="582.1" stroke="#5EE048" stroke-width="0.8"/>
<line x1="274.2" y1="580.8" x2="277.2" y2="580.8" stroke="#5EE048" stroke-width="0.8"/>
<circle cx="274.10" cy="580.51" r="1.65" fill="#5EE048" stroke="none" stroke-width="0.5"/>
<circle cx="275.70" cy="582.09" r="1.65" fill="#5EE048" stroke="none" stroke-width="0.5"/>
<circle cx="277.30" cy="583.67" r="1.65" fill="#5EE048" stroke="none" stroke-width="0.5"/>
<line x1="253.6" y1="550.0" x2="266.5" y2="550.0" stroke="#000" stroke-width="1.8"/>
<text x="254.2" y="547.4" font-size="6.9" text-anchor="middle">*</text>
<text x="258.1" y="547.4" font-size="6.9" text-anchor="middle">*</text>
<text x="262.0" y="547.4" font-size="6.9" text-anchor="middle">*</text>
<text x="265.9" y="547.4" font-size="6.9" text-anchor="middle">*</text>
<line x1="271.5" y1="550.0" x2="284.2" y2="550.0" stroke="#000" stroke-width="1.8"/>
<text x="272.0" y="547.4" font-size="6.9" text-anchor="middle">*</text>
<text x="275.9" y="547.4" font-size="6.9" text-anchor="middle">*</text>
<text x="279.8" y="547.4" font-size="6.9" text-anchor="middle">*</text>
<text x="283.7" y="547.4" font-size="6.9" text-anchor="middle">*</text>
<text x="266.3" y="634.5" font-size="9.0" text-anchor="middle" font-style="italic">Lrrc4c</text>
<line x1="266.3" y1="620.8" x2="266.3" y2="622.6" stroke="#000" stroke-width="0.7"/>
<rect x="289.95" y="573.40" width="5.10" height="47.40" fill="#fff" stroke="#1A1AF0" stroke-width="1.5"/>
<line x1="292.5" y1="571.8" x2="292.5" y2="573.4" stroke="#1A1AF0" stroke-width="0.8"/>
<line x1="291.0" y1="571.8" x2="294.0" y2="571.8" stroke="#1A1AF0" stroke-width="0.8"/>
<circle cx="290.90" cy="571.03" r="1.65" fill="#1A1AF0" stroke="none" stroke-width="0.5"/>
<circle cx="292.50" cy="574.98" r="1.65" fill="#1A1AF0" stroke="none" stroke-width="0.5"/>
<circle cx="294.10" cy="573.40" r="1.65" fill="#1A1AF0" stroke="none" stroke-width="0.5"/>
<rect x="300.35" y="592.36" width="5.10" height="28.44" fill="#fff" stroke="#F02020" stroke-width="1.5"/>
<line x1="302.9" y1="590.8" x2="302.9" y2="592.4" stroke="#F02020" stroke-width="0.8"/>
<line x1="301.4" y1="590.8" x2="304.4" y2="590.8" stroke="#F02020" stroke-width="0.8"/>
<circle cx="301.30" cy="589.99" r="1.65" fill="#F02020" stroke="none" stroke-width="0.5"/>
<circle cx="302.90" cy="593.94" r="1.65" fill="#F02020" stroke="none" stroke-width="0.5"/>
<circle cx="304.50" cy="591.57" r="1.65" fill="#F02020" stroke="none" stroke-width="0.5"/>
<rect x="309.75" y="577.35" width="5.10" height="43.45" fill="#fff" stroke="#5EE048" stroke-width="1.5"/>
<line x1="312.3" y1="576.1" x2="312.3" y2="577.3" stroke="#5EE048" stroke-width="0.8"/>
<line x1="310.8" y1="576.1" x2="313.8" y2="576.1" stroke="#5EE048" stroke-width="0.8"/>
<circle cx="310.70" cy="574.98" r="1.65" fill="#5EE048" stroke="none" stroke-width="0.5"/>
<circle cx="312.30" cy="578.14" r="1.65" fill="#5EE048" stroke="none" stroke-width="0.5"/>
<circle cx="313.90" cy="577.35" r="1.65" fill="#5EE048" stroke="none" stroke-width="0.5"/>
<line x1="290.2" y1="550.0" x2="303.1" y2="550.0" stroke="#000" stroke-width="1.8"/>
<text x="290.8" y="547.4" font-size="6.9" text-anchor="middle">*</text>
<text x="294.7" y="547.4" font-size="6.9" text-anchor="middle">*</text>
<text x="298.6" y="547.4" font-size="6.9" text-anchor="middle">*</text>
<text x="302.5" y="547.4" font-size="6.9" text-anchor="middle">*</text>
<line x1="308.1" y1="550.0" x2="320.8" y2="550.0" stroke="#000" stroke-width="1.8"/>
<text x="310.6" y="547.4" font-size="6.9" text-anchor="middle">*</text>
<text x="314.4" y="547.4" font-size="6.9" text-anchor="middle">*</text>
<text x="318.3" y="547.4" font-size="6.9" text-anchor="middle">*</text>
<text x="302.9" y="634.5" font-size="9.0" text-anchor="middle" font-style="italic">Mycbp2</text>
<line x1="302.9" y1="620.8" x2="302.9" y2="622.6" stroke="#000" stroke-width="0.7"/>
<line x1="28.7" y1="620.8" x2="318.8" y2="620.8" stroke="#000" stroke-width="1.2"/>
<line x1="29.3" y1="621.4" x2="29.3" y2="541.2" stroke="#000" stroke-width="1.2"/>
<line x1="25.0" y1="620.8" x2="29.3" y2="620.8" stroke="#000" stroke-width="1.0"/>
<text x="23.5" y="623.9" font-size="7.8" text-anchor="end">0.7</text>
<line x1="25.0" y1="605.0" x2="29.3" y2="605.0" stroke="#000" stroke-width="1.0"/>
<text x="23.5" y="608.1" font-size="7.8" text-anchor="end">0.8</text>
<line x1="25.0" y1="589.2" x2="29.3" y2="589.2" stroke="#000" stroke-width="1.0"/>
<text x="23.5" y="592.3" font-size="7.8" text-anchor="end">0.9</text>
<line x1="25.0" y1="573.4" x2="29.3" y2="573.4" stroke="#000" stroke-width="1.0"/>
<text x="23.5" y="576.5" font-size="7.8" text-anchor="end">1.0</text>
<line x1="25.0" y1="557.6" x2="29.3" y2="557.6" stroke="#000" stroke-width="1.0"/>
<text x="23.5" y="560.7" font-size="7.8" text-anchor="end">1.1</text>
<line x1="25.0" y1="541.8" x2="29.3" y2="541.8" stroke="#000" stroke-width="1.0"/>
<text x="23.5" y="544.9" font-size="7.8" text-anchor="end">1.2</text>
<text x="8.5" y="581.2" font-size="9.3" text-anchor="middle" transform="rotate(-90 8.5 581.2)" textLength="90" lengthAdjust="spacingAndGlyphs">Relative mRNA levels</text>
<circle cx="62.00" cy="522.30" r="1.80" fill="#1A1AF0" stroke="none" stroke-width="0.5"/>
<text x="75.0" y="525.0" font-size="7.8">WT</text>
<circle cx="132.30" cy="522.30" r="1.80" fill="#F02020" stroke="none" stroke-width="0.5"/>
<text x="143.0" y="525.0" font-size="7.8">3xTg-AD</text>
<circle cx="225.00" cy="522.30" r="1.80" fill="#5EE048" stroke="none" stroke-width="0.5"/>
<text x="237.0" y="525.0" font-size="7.8">3xTg-AD+β-OHB</text>
<line x1="373.3" y1="579.6" x2="676.9" y2="579.6" stroke="#111" stroke-width="0.85" stroke-dasharray="0.85,1.45"/>
<rect x="377.55" y="579.60" width="5.50" height="41.20" fill="#fff" stroke="#1A1AF0" stroke-width="1.5"/>
<line x1="380.3" y1="577.5" x2="380.3" y2="579.6" stroke="#1A1AF0" stroke-width="0.8"/>
<line x1="378.8" y1="577.5" x2="381.8" y2="577.5" stroke="#1A1AF0" stroke-width="0.8"/>
<line x1="380.3" y1="579.6" x2="380.3" y2="581.7" stroke="#1A1AF0" stroke-width="0.6"/>
<line x1="379.1" y1="581.7" x2="381.5" y2="581.7" stroke="#1A1AF0" stroke-width="0.6"/>
<circle cx="378.70" cy="576.72" r="1.65" fill="#1A1AF0" stroke="none" stroke-width="0.5"/>
<circle cx="380.30" cy="581.66" r="1.65" fill="#1A1AF0" stroke="none" stroke-width="0.5"/>
<circle cx="381.90" cy="579.60" r="1.65" fill="#1A1AF0" stroke="none" stroke-width="0.5"/>
<rect x="388.05" y="605.56" width="5.50" height="15.24" fill="#fff" stroke="#F02020" stroke-width="1.5"/>
<line x1="390.8" y1="602.3" x2="390.8" y2="605.6" stroke="#F02020" stroke-width="0.8"/>
<line x1="389.3" y1="602.3" x2="392.3" y2="602.3" stroke="#F02020" stroke-width="0.8"/>
<line x1="390.8" y1="605.6" x2="390.8" y2="608.9" stroke="#F02020" stroke-width="0.6"/>
<line x1="389.6" y1="608.9" x2="392.0" y2="608.9" stroke="#F02020" stroke-width="0.6"/>
<circle cx="389.20" cy="598.55" r="1.65" fill="#F02020" stroke="none" stroke-width="0.5"/>
<circle cx="390.80" cy="608.44" r="1.65" fill="#F02020" stroke="none" stroke-width="0.5"/>
<circle cx="392.40" cy="606.38" r="1.65" fill="#F02020" stroke="none" stroke-width="0.5"/>
<rect x="398.15" y="587.84" width="5.50" height="32.96" fill="#fff" stroke="#5EE048" stroke-width="1.5"/>
<line x1="400.9" y1="584.5" x2="400.9" y2="587.8" stroke="#5EE048" stroke-width="0.8"/>
<line x1="399.4" y1="584.5" x2="402.4" y2="584.5" stroke="#5EE048" stroke-width="0.8"/>
<line x1="400.9" y1="587.8" x2="400.9" y2="591.1" stroke="#5EE048" stroke-width="0.6"/>
<line x1="399.7" y1="591.1" x2="402.1" y2="591.1" stroke="#5EE048" stroke-width="0.6"/>
<circle cx="399.30" cy="581.66" r="1.65" fill="#5EE048" stroke="none" stroke-width="0.5"/>
<circle cx="400.90" cy="591.14" r="1.65" fill="#5EE048" stroke="none" stroke-width="0.5"/>
<circle cx="402.50" cy="589.90" r="1.65" fill="#5EE048" stroke="none" stroke-width="0.5"/>
<line x1="377.2" y1="545.0" x2="388.7" y2="545.0" stroke="#000" stroke-width="1.8"/>
<text x="380.3" y="542.4" font-size="7.4" text-anchor="middle">*</text>
<text x="385.6" y="542.4" font-size="7.4" text-anchor="middle">*</text>
<line x1="392.8" y1="545.0" x2="404.0" y2="545.0" stroke="#000" stroke-width="1.8"/>
<text x="398.4" y="542.4" font-size="7.4" text-anchor="middle">*</text>
<text x="390.8" y="634.8" font-size="8.85" text-anchor="middle">Shank2</text>
<line x1="390.8" y1="620.8" x2="390.8" y2="622.6" stroke="#000" stroke-width="0.7"/>
<rect x="416.00" y="579.60" width="5.50" height="41.20" fill="#fff" stroke="#1A1AF0" stroke-width="1.5"/>
<line x1="418.8" y1="576.7" x2="418.8" y2="579.6" stroke="#1A1AF0" stroke-width="0.8"/>
<line x1="417.2" y1="576.7" x2="420.2" y2="576.7" stroke="#1A1AF0" stroke-width="0.8"/>
<line x1="418.8" y1="579.6" x2="418.8" y2="582.5" stroke="#1A1AF0" stroke-width="0.6"/>
<line x1="417.6" y1="582.5" x2="419.9" y2="582.5" stroke="#1A1AF0" stroke-width="0.6"/>
<circle cx="417.15" cy="573.42" r="1.65" fill="#1A1AF0" stroke="none" stroke-width="0.5"/>
<circle cx="418.75" cy="581.66" r="1.65" fill="#1A1AF0" stroke="none" stroke-width="0.5"/>
<circle cx="420.35" cy="579.60" r="1.65" fill="#1A1AF0" stroke="none" stroke-width="0.5"/>
<rect x="426.50" y="609.68" width="5.50" height="11.12" fill="#fff" stroke="#F02020" stroke-width="1.5"/>
<line x1="429.2" y1="608.9" x2="429.2" y2="609.7" stroke="#F02020" stroke-width="0.8"/>
<line x1="427.8" y1="608.9" x2="430.8" y2="608.9" stroke="#F02020" stroke-width="0.8"/>
<circle cx="427.65" cy="608.44" r="1.65" fill="#F02020" stroke="none" stroke-width="0.5"/>
<circle cx="429.25" cy="610.50" r="1.65" fill="#F02020" stroke="none" stroke-width="0.5"/>
<circle cx="430.85" cy="609.68" r="1.65" fill="#F02020" stroke="none" stroke-width="0.5"/>
<rect x="436.60" y="567.24" width="5.50" height="53.56" fill="#fff" stroke="#5EE048" stroke-width="1.5"/>
<line x1="439.4" y1="555.3" x2="439.4" y2="567.2" stroke="#5EE048" stroke-width="0.8"/>
<line x1="437.9" y1="555.3" x2="440.9" y2="555.3" stroke="#5EE048" stroke-width="0.8"/>
<line x1="439.4" y1="567.2" x2="439.4" y2="579.2" stroke="#5EE048" stroke-width="0.6"/>
<line x1="438.2" y1="579.2" x2="440.6" y2="579.2" stroke="#5EE048" stroke-width="0.6"/>
<circle cx="437.75" cy="554.88" r="1.65" fill="#5EE048" stroke="none" stroke-width="0.5"/>
<circle cx="439.35" cy="554.88" r="1.65" fill="#5EE048" stroke="none" stroke-width="0.5"/>
<circle cx="440.95" cy="590.72" r="1.65" fill="#5EE048" stroke="none" stroke-width="0.5"/>
<line x1="415.6" y1="545.0" x2="427.1" y2="545.0" stroke="#000" stroke-width="1.8"/>
<text x="421.4" y="542.4" font-size="7.4" text-anchor="middle">*</text>
<line x1="431.2" y1="545.0" x2="442.4" y2="545.0" stroke="#000" stroke-width="1.8"/>
<text x="436.9" y="542.4" font-size="7.4" text-anchor="middle">*</text>
<text x="429.2" y="634.8" font-size="8.85" text-anchor="middle">Cacna1c</text>
<line x1="429.2" y1="620.8" x2="429.2" y2="622.6" stroke="#000" stroke-width="0.7"/>
<rect x="454.45" y="579.60" width="5.50" height="41.20" fill="#fff" stroke="#1A1AF0" stroke-width="1.5"/>
<line x1="457.2" y1="575.1" x2="457.2" y2="579.6" stroke="#1A1AF0" stroke-width="0.8"/>
<line x1="455.7" y1="575.1" x2="458.7" y2="575.1" stroke="#1A1AF0" stroke-width="0.8"/>
<line x1="457.2" y1="579.6" x2="457.2" y2="584.1" stroke="#1A1AF0" stroke-width="0.6"/>
<line x1="456.0" y1="584.1" x2="458.4" y2="584.1" stroke="#1A1AF0" stroke-width="0.6"/>
<circle cx="455.60" cy="572.60" r="1.65" fill="#1A1AF0" stroke="none" stroke-width="0.5"/>
<circle cx="457.20" cy="573.42" r="1.65" fill="#1A1AF0" stroke="none" stroke-width="0.5"/>
<circle cx="458.80" cy="591.96" r="1.65" fill="#1A1AF0" stroke="none" stroke-width="0.5"/>
<rect x="464.95" y="615.86" width="5.50" height="4.94" fill="#fff" stroke="#F02020" stroke-width="1.5"/>
<line x1="467.7" y1="612.1" x2="467.7" y2="615.9" stroke="#F02020" stroke-width="0.8"/>
<line x1="466.2" y1="612.1" x2="469.2" y2="612.1" stroke="#F02020" stroke-width="0.8"/>
<line x1="467.7" y1="615.9" x2="467.7" y2="619.6" stroke="#F02020" stroke-width="0.6"/>
<line x1="466.5" y1="619.6" x2="468.9" y2="619.6" stroke="#F02020" stroke-width="0.6"/>
<circle cx="466.10" cy="608.44" r="1.65" fill="#F02020" stroke="none" stroke-width="0.5"/>
<circle cx="467.70" cy="618.74" r="1.65" fill="#F02020" stroke="none" stroke-width="0.5"/>
<circle cx="469.30" cy="618.74" r="1.65" fill="#F02020" stroke="none" stroke-width="0.5"/>
<rect x="475.05" y="594.43" width="5.50" height="26.37" fill="#fff" stroke="#5EE048" stroke-width="1.5"/>
<line x1="477.8" y1="592.0" x2="477.8" y2="594.4" stroke="#5EE048" stroke-width="0.8"/>
<line x1="476.3" y1="592.0" x2="479.3" y2="592.0" stroke="#5EE048" stroke-width="0.8"/>
<line x1="477.8" y1="594.4" x2="477.8" y2="596.9" stroke="#5EE048" stroke-width="0.6"/>
<line x1="476.6" y1="596.9" x2="479.0" y2="596.9" stroke="#5EE048" stroke-width="0.6"/>
<circle cx="476.20" cy="589.90" r="1.65" fill="#5EE048" stroke="none" stroke-width="0.5"/>
<circle cx="477.80" cy="591.96" r="1.65" fill="#5EE048" stroke="none" stroke-width="0.5"/>
<circle cx="479.40" cy="598.14" r="1.65" fill="#5EE048" stroke="none" stroke-width="0.5"/>
<line x1="454.1" y1="545.0" x2="465.6" y2="545.0" stroke="#000" stroke-width="1.8"/>
<text x="457.2" y="542.4" font-size="7.4" text-anchor="middle">*</text>
<text x="462.5" y="542.4" font-size="7.4" text-anchor="middle">*</text>
<line x1="469.7" y1="545.0" x2="480.9" y2="545.0" stroke="#000" stroke-width="1.8"/>
<text x="475.3" y="542.4" font-size="7.4" text-anchor="middle">*</text>
<text x="467.7" y="634.8" font-size="8.85" text-anchor="middle">Synj1</text>
<line x1="467.7" y1="620.8" x2="467.7" y2="622.6" stroke="#000" stroke-width="0.7"/>
<rect x="492.90" y="579.60" width="5.50" height="41.20" fill="#fff" stroke="#1A1AF0" stroke-width="1.5"/>
<line x1="495.7" y1="575.5" x2="495.7" y2="579.6" stroke="#1A1AF0" stroke-width="0.8"/>
<line x1="494.2" y1="575.5" x2="497.2" y2="575.5" stroke="#1A1AF0" stroke-width="0.8"/>
<line x1="495.7" y1="579.6" x2="495.7" y2="583.7" stroke="#1A1AF0" stroke-width="0.6"/>
<line x1="494.5" y1="583.7" x2="496.9" y2="583.7" stroke="#1A1AF0" stroke-width="0.6"/>
<circle cx="494.05" cy="570.12" r="1.65" fill="#1A1AF0" stroke="none" stroke-width="0.5"/>
<circle cx="495.65" cy="581.66" r="1.65" fill="#1A1AF0" stroke="none" stroke-width="0.5"/>
<circle cx="497.25" cy="583.72" r="1.65" fill="#1A1AF0" stroke="none" stroke-width="0.5"/>
<rect x="503.40" y="605.97" width="5.50" height="14.83" fill="#fff" stroke="#F02020" stroke-width="1.5"/>
<line x1="506.2" y1="603.1" x2="506.2" y2="606.0" stroke="#F02020" stroke-width="0.8"/>
<line x1="504.7" y1="603.1" x2="507.7" y2="603.1" stroke="#F02020" stroke-width="0.8"/>
<line x1="506.2" y1="606.0" x2="506.2" y2="608.9" stroke="#F02020" stroke-width="0.6"/>
<line x1="505.0" y1="608.9" x2="507.4" y2="608.9" stroke="#F02020" stroke-width="0.6"/>
<circle cx="504.55" cy="600.20" r="1.65" fill="#F02020" stroke="none" stroke-width="0.5"/>
<circle cx="506.15" cy="608.44" r="1.65" fill="#F02020" stroke="none" stroke-width="0.5"/>
<circle cx="507.75" cy="608.44" r="1.65" fill="#F02020" stroke="none" stroke-width="0.5"/>
<rect x="513.50" y="583.72" width="5.50" height="37.08" fill="#fff" stroke="#5EE048" stroke-width="1.5"/>
<line x1="516.2" y1="579.6" x2="516.2" y2="583.7" stroke="#5EE048" stroke-width="0.8"/>
<line x1="514.8" y1="579.6" x2="517.8" y2="579.6" stroke="#5EE048" stroke-width="0.8"/>
<line x1="516.2" y1="583.7" x2="516.2" y2="587.8" stroke="#5EE048" stroke-width="0.6"/>
<line x1="515.0" y1="587.8" x2="517.5" y2="587.8" stroke="#5EE048" stroke-width="0.6"/>
<circle cx="514.65" cy="577.54" r="1.65" fill="#5EE048" stroke="none" stroke-width="0.5"/>
<circle cx="516.25" cy="583.72" r="1.65" fill="#5EE048" stroke="none" stroke-width="0.5"/>
<circle cx="517.85" cy="587.84" r="1.65" fill="#5EE048" stroke="none" stroke-width="0.5"/>
<line x1="492.6" y1="545.0" x2="504.1" y2="545.0" stroke="#000" stroke-width="1.8"/>
<text x="498.3" y="542.4" font-size="7.4" text-anchor="middle">*</text>
<line x1="508.2" y1="545.0" x2="519.4" y2="545.0" stroke="#000" stroke-width="1.8"/>
<text x="513.8" y="542.4" font-size="7.4" text-anchor="middle">*</text>
<text x="506.2" y="634.8" font-size="8.85" text-anchor="middle">Syt7</text>
<line x1="506.2" y1="620.8" x2="506.2" y2="622.6" stroke="#000" stroke-width="0.7"/>
<rect x="531.35" y="579.60" width="5.50" height="41.20" fill="#fff" stroke="#1A1AF0" stroke-width="1.5"/>
<line x1="534.1" y1="577.5" x2="534.1" y2="579.6" stroke="#1A1AF0" stroke-width="0.8"/>
<line x1="532.6" y1="577.5" x2="535.6" y2="577.5" stroke="#1A1AF0" stroke-width="0.8"/>
<line x1="534.1" y1="579.6" x2="534.1" y2="581.7" stroke="#1A1AF0" stroke-width="0.6"/>
<line x1="532.9" y1="581.7" x2="535.3" y2="581.7" stroke="#1A1AF0" stroke-width="0.6"/>
<circle cx="532.50" cy="576.30" r="1.65" fill="#1A1AF0" stroke="none" stroke-width="0.5"/>
<circle cx="534.10" cy="578.78" r="1.65" fill="#1A1AF0" stroke="none" stroke-width="0.5"/>
<circle cx="535.70" cy="582.48" r="1.65" fill="#1A1AF0" stroke="none" stroke-width="0.5"/>
<rect x="541.85" y="605.56" width="5.50" height="15.24" fill="#fff" stroke="#F02020" stroke-width="1.5"/>
<line x1="544.6" y1="603.1" x2="544.6" y2="605.6" stroke="#F02020" stroke-width="0.8"/>
<line x1="543.1" y1="603.1" x2="546.1" y2="603.1" stroke="#F02020" stroke-width="0.8"/>
<line x1="544.6" y1="605.6" x2="544.6" y2="608.0" stroke="#F02020" stroke-width="0.6"/>
<line x1="543.4" y1="608.0" x2="545.8" y2="608.0" stroke="#F02020" stroke-width="0.6"/>
<circle cx="543.00" cy="600.20" r="1.65" fill="#F02020" stroke="none" stroke-width="0.5"/>
<circle cx="544.60" cy="606.38" r="1.65" fill="#F02020" stroke="none" stroke-width="0.5"/>
<circle cx="546.20" cy="608.44" r="1.65" fill="#F02020" stroke="none" stroke-width="0.5"/>
<rect x="551.95" y="597.32" width="5.50" height="23.48" fill="#fff" stroke="#5EE048" stroke-width="1.5"/>
<line x1="554.7" y1="594.4" x2="554.7" y2="597.3" stroke="#5EE048" stroke-width="0.8"/>
<line x1="553.2" y1="594.4" x2="556.2" y2="594.4" stroke="#5EE048" stroke-width="0.8"/>
<line x1="554.7" y1="597.3" x2="554.7" y2="600.2" stroke="#5EE048" stroke-width="0.6"/>
<line x1="553.5" y1="600.2" x2="555.9" y2="600.2" stroke="#5EE048" stroke-width="0.6"/>
<circle cx="553.10" cy="591.14" r="1.65" fill="#5EE048" stroke="none" stroke-width="0.5"/>
<circle cx="554.70" cy="596.08" r="1.65" fill="#5EE048" stroke="none" stroke-width="0.5"/>
<circle cx="556.30" cy="602.26" r="1.65" fill="#5EE048" stroke="none" stroke-width="0.5"/>
<line x1="531.0" y1="545.0" x2="542.5" y2="545.0" stroke="#000" stroke-width="1.8"/>
<text x="534.1" y="542.4" font-size="7.4" text-anchor="middle">*</text>
<text x="539.4" y="542.4" font-size="7.4" text-anchor="middle">*</text>
<line x1="546.6" y1="545.0" x2="557.8" y2="545.0" stroke="#000" stroke-width="1.8"/>
<text x="552.2" y="541.1" font-size="6.8" text-anchor="middle" style="font-weight:normal">0.182</text>
<text x="544.6" y="634.8" font-size="8.85" text-anchor="middle">Syt8</text>
<line x1="544.6" y1="620.8" x2="544.6" y2="622.6" stroke="#000" stroke-width="0.7"/>
<rect x="569.80" y="579.60" width="5.50" height="41.20" fill="#fff" stroke="#1A1AF0" stroke-width="1.5"/>
<line x1="572.5" y1="576.3" x2="572.5" y2="579.6" stroke="#1A1AF0" stroke-width="0.8"/>
<line x1="571.0" y1="576.3" x2="574.0" y2="576.3" stroke="#1A1AF0" stroke-width="0.8"/>
<line x1="572.5" y1="579.6" x2="572.5" y2="582.9" stroke="#1A1AF0" stroke-width="0.6"/>
<line x1="571.3" y1="582.9" x2="573.8" y2="582.9" stroke="#1A1AF0" stroke-width="0.6"/>
<circle cx="570.95" cy="572.18" r="1.65" fill="#1A1AF0" stroke="none" stroke-width="0.5"/>
<circle cx="572.55" cy="581.66" r="1.65" fill="#1A1AF0" stroke="none" stroke-width="0.5"/>
<circle cx="574.15" cy="583.72" r="1.65" fill="#1A1AF0" stroke="none" stroke-width="0.5"/>
<rect x="580.30" y="603.08" width="5.50" height="17.72" fill="#fff" stroke="#F02020" stroke-width="1.5"/>
<line x1="583.0" y1="601.4" x2="583.0" y2="603.1" stroke="#F02020" stroke-width="0.8"/>
<line x1="581.5" y1="601.4" x2="584.5" y2="601.4" stroke="#F02020" stroke-width="0.8"/>
<line x1="583.0" y1="603.1" x2="583.0" y2="604.7" stroke="#F02020" stroke-width="0.6"/>
<line x1="581.8" y1="604.7" x2="584.2" y2="604.7" stroke="#F02020" stroke-width="0.6"/>
<circle cx="581.45" cy="599.38" r="1.65" fill="#F02020" stroke="none" stroke-width="0.5"/>
<circle cx="583.05" cy="604.32" r="1.65" fill="#F02020" stroke="none" stroke-width="0.5"/>
<circle cx="584.65" cy="604.32" r="1.65" fill="#F02020" stroke="none" stroke-width="0.5"/>
<rect x="590.40" y="596.90" width="5.50" height="23.90" fill="#fff" stroke="#5EE048" stroke-width="1.5"/>
<line x1="593.1" y1="594.0" x2="593.1" y2="596.9" stroke="#5EE048" stroke-width="0.8"/>
<line x1="591.6" y1="594.0" x2="594.6" y2="594.0" stroke="#5EE048" stroke-width="0.8"/>
<line x1="593.1" y1="596.9" x2="593.1" y2="599.8" stroke="#5EE048" stroke-width="0.6"/>
<line x1="591.9" y1="599.8" x2="594.4" y2="599.8" stroke="#5EE048" stroke-width="0.6"/>
<circle cx="591.55" cy="591.14" r="1.65" fill="#5EE048" stroke="none" stroke-width="0.5"/>
<circle cx="593.15" cy="596.08" r="1.65" fill="#5EE048" stroke="none" stroke-width="0.5"/>
<circle cx="594.75" cy="602.26" r="1.65" fill="#5EE048" stroke="none" stroke-width="0.5"/>
<line x1="569.4" y1="545.0" x2="580.9" y2="545.0" stroke="#000" stroke-width="1.8"/>
<text x="572.6" y="542.4" font-size="7.4" text-anchor="middle">*</text>
<text x="577.8" y="542.4" font-size="7.4" text-anchor="middle">*</text>
<line x1="585.0" y1="545.0" x2="596.2" y2="545.0" stroke="#000" stroke-width="1.8"/>
<text x="590.6" y="541.1" font-size="6.8" text-anchor="middle" style="font-weight:normal">0.399</text>
<text x="583.0" y="634.8" font-size="8.85" text-anchor="middle">Cttn</text>
<line x1="583.0" y1="620.8" x2="583.0" y2="622.6" stroke="#000" stroke-width="0.7"/>
<rect x="608.25" y="579.60" width="5.50" height="41.20" fill="#fff" stroke="#1A1AF0" stroke-width="1.5"/>
<line x1="611.0" y1="574.7" x2="611.0" y2="579.6" stroke="#1A1AF0" stroke-width="0.8"/>
<line x1="609.5" y1="574.7" x2="612.5" y2="574.7" stroke="#1A1AF0" stroke-width="0.8"/>
<line x1="611.0" y1="579.6" x2="611.0" y2="584.5" stroke="#1A1AF0" stroke-width="0.6"/>
<line x1="609.8" y1="584.5" x2="612.2" y2="584.5" stroke="#1A1AF0" stroke-width="0.6"/>
<circle cx="609.40" cy="569.30" r="1.65" fill="#1A1AF0" stroke="none" stroke-width="0.5"/>
<circle cx="611.00" cy="583.72" r="1.65" fill="#1A1AF0" stroke="none" stroke-width="0.5"/>
<circle cx="612.60" cy="585.78" r="1.65" fill="#1A1AF0" stroke="none" stroke-width="0.5"/>
<rect x="618.75" y="611.74" width="5.50" height="9.06" fill="#fff" stroke="#F02020" stroke-width="1.5"/>
<line x1="621.5" y1="609.7" x2="621.5" y2="611.7" stroke="#F02020" stroke-width="0.8"/>
<line x1="620.0" y1="609.7" x2="623.0" y2="609.7" stroke="#F02020" stroke-width="0.8"/>
<line x1="621.5" y1="611.7" x2="621.5" y2="613.8" stroke="#F02020" stroke-width="0.6"/>
<line x1="620.3" y1="613.8" x2="622.7" y2="613.8" stroke="#F02020" stroke-width="0.6"/>
<circle cx="619.90" cy="607.20" r="1.65" fill="#F02020" stroke="none" stroke-width="0.5"/>
<circle cx="621.50" cy="612.56" r="1.65" fill="#F02020" stroke="none" stroke-width="0.5"/>
<circle cx="623.10" cy="614.62" r="1.65" fill="#F02020" stroke="none" stroke-width="0.5"/>
<rect x="628.85" y="587.84" width="5.50" height="32.96" fill="#fff" stroke="#5EE048" stroke-width="1.5"/>
<line x1="631.6" y1="584.5" x2="631.6" y2="587.8" stroke="#5EE048" stroke-width="0.8"/>
<line x1="630.1" y1="584.5" x2="633.1" y2="584.5" stroke="#5EE048" stroke-width="0.8"/>
<line x1="631.6" y1="587.8" x2="631.6" y2="591.1" stroke="#5EE048" stroke-width="0.6"/>
<line x1="630.4" y1="591.1" x2="632.8" y2="591.1" stroke="#5EE048" stroke-width="0.6"/>
<circle cx="630.00" cy="583.72" r="1.65" fill="#5EE048" stroke="none" stroke-width="0.5"/>
<circle cx="631.60" cy="585.78" r="1.65" fill="#5EE048" stroke="none" stroke-width="0.5"/>
<circle cx="633.20" cy="596.08" r="1.65" fill="#5EE048" stroke="none" stroke-width="0.5"/>
<line x1="607.9" y1="545.0" x2="619.4" y2="545.0" stroke="#000" stroke-width="1.8"/>
<text x="611.0" y="542.4" font-size="7.4" text-anchor="middle">*</text>
<text x="616.2" y="542.4" font-size="7.4" text-anchor="middle">*</text>
<line x1="623.5" y1="545.0" x2="634.7" y2="545.0" stroke="#000" stroke-width="1.8"/>
<text x="629.1" y="542.4" font-size="7.4" text-anchor="middle">*</text>
<text x="621.5" y="634.8" font-size="8.85" text-anchor="middle">Lrrc4c</text>
<line x1="621.5" y1="620.8" x2="621.5" y2="622.6" stroke="#000" stroke-width="0.7"/>
<rect x="646.70" y="579.60" width="5.50" height="41.20" fill="#fff" stroke="#1A1AF0" stroke-width="1.5"/>
<line x1="649.5" y1="578.0" x2="649.5" y2="579.6" stroke="#1A1AF0" stroke-width="0.8"/>
<line x1="648.0" y1="578.0" x2="651.0" y2="578.0" stroke="#1A1AF0" stroke-width="0.8"/>
<line x1="649.5" y1="579.6" x2="649.5" y2="581.2" stroke="#1A1AF0" stroke-width="0.6"/>
<line x1="648.2" y1="581.2" x2="650.7" y2="581.2" stroke="#1A1AF0" stroke-width="0.6"/>
<circle cx="647.85" cy="576.30" r="1.65" fill="#1A1AF0" stroke="none" stroke-width="0.5"/>
<circle cx="649.45" cy="578.78" r="1.65" fill="#1A1AF0" stroke="none" stroke-width="0.5"/>
<circle cx="651.05" cy="581.66" r="1.65" fill="#1A1AF0" stroke="none" stroke-width="0.5"/>
<rect x="657.20" y="603.50" width="5.50" height="17.30" fill="#fff" stroke="#F02020" stroke-width="1.5"/>
<line x1="660.0" y1="601.8" x2="660.0" y2="603.5" stroke="#F02020" stroke-width="0.8"/>
<line x1="658.5" y1="601.8" x2="661.5" y2="601.8" stroke="#F02020" stroke-width="0.8"/>
<line x1="660.0" y1="603.5" x2="660.0" y2="605.1" stroke="#F02020" stroke-width="0.6"/>
<line x1="658.8" y1="605.1" x2="661.2" y2="605.1" stroke="#F02020" stroke-width="0.6"/>
<circle cx="658.35" cy="600.20" r="1.65" fill="#F02020" stroke="none" stroke-width="0.5"/>
<circle cx="659.95" cy="602.26" r="1.65" fill="#F02020" stroke="none" stroke-width="0.5"/>
<circle cx="661.55" cy="606.38" r="1.65" fill="#F02020" stroke="none" stroke-width="0.5"/>
<rect x="667.30" y="589.90" width="5.50" height="30.90" fill="#fff" stroke="#5EE048" stroke-width="1.5"/>
<line x1="670.1" y1="588.7" x2="670.1" y2="589.9" stroke="#5EE048" stroke-width="0.8"/>
<line x1="668.6" y1="588.7" x2="671.6" y2="588.7" stroke="#5EE048" stroke-width="0.8"/>
<line x1="670.1" y1="589.9" x2="670.1" y2="591.1" stroke="#5EE048" stroke-width="0.6"/>
<line x1="668.9" y1="591.1" x2="671.3" y2="591.1" stroke="#5EE048" stroke-width="0.6"/>
<circle cx="668.45" cy="587.84" r="1.65" fill="#5EE048" stroke="none" stroke-width="0.5"/>
<circle cx="670.05" cy="589.90" r="1.65" fill="#5EE048" stroke="none" stroke-width="0.5"/>
<circle cx="671.65" cy="591.96" r="1.65" fill="#5EE048" stroke="none" stroke-width="0.5"/>
<line x1="646.4" y1="545.0" x2="657.9" y2="545.0" stroke="#000" stroke-width="1.8"/>
<text x="649.5" y="542.4" font-size="7.4" text-anchor="middle">*</text>
<text x="654.7" y="542.4" font-size="7.4" text-anchor="middle">*</text>
<line x1="662.0" y1="545.0" x2="673.2" y2="545.0" stroke="#000" stroke-width="1.8"/>
<text x="667.6" y="542.4" font-size="7.4" text-anchor="middle">*</text>
<text x="660.0" y="634.8" font-size="8.85" text-anchor="middle">Mycbp2</text>
<line x1="660.0" y1="620.8" x2="660.0" y2="622.6" stroke="#000" stroke-width="0.7"/>
<line x1="372.7" y1="620.8" x2="676.9" y2="620.8" stroke="#000" stroke-width="1.2"/>
<line x1="373.3" y1="621.4" x2="373.3" y2="537.8" stroke="#000" stroke-width="1.2"/>
<line x1="369.0" y1="620.8" x2="373.3" y2="620.8" stroke="#000" stroke-width="1.0"/>
<text x="367.5" y="624.0" font-size="8.0" text-anchor="end">0.0</text>
<line x1="369.0" y1="600.2" x2="373.3" y2="600.2" stroke="#000" stroke-width="1.0"/>
<text x="367.5" y="603.4" font-size="8.0" text-anchor="end">0.5</text>
<line x1="369.0" y1="579.6" x2="373.3" y2="579.6" stroke="#000" stroke-width="1.0"/>
<text x="367.5" y="582.8" font-size="8.0" text-anchor="end">1.0</text>
<line x1="369.0" y1="559.0" x2="373.3" y2="559.0" stroke="#000" stroke-width="1.0"/>
<text x="367.5" y="562.2" font-size="8.0" text-anchor="end">1.5</text>
<line x1="369.0" y1="538.4" x2="373.3" y2="538.4" stroke="#000" stroke-width="1.0"/>
<text x="367.5" y="541.6" font-size="8.0" text-anchor="end">2.0</text>
<text x="343.5" y="579.3" font-size="8.1" text-anchor="middle" transform="rotate(-90 343.5 579.3)" textLength="107" lengthAdjust="spacingAndGlyphs">H3K9bhb at axon-related genes</text>
<text x="351.6" y="577.4" font-size="8.1" text-anchor="middle" transform="rotate(-90 351.6 577.4)" textLength="79" lengthAdjust="spacingAndGlyphs">promoter (% of Input)</text>
<circle cx="409.30" cy="522.40" r="1.80" fill="#1A1AF0" stroke="none" stroke-width="0.5"/>
<text x="421.8" y="524.9" font-size="7.8">WT</text>
<circle cx="485.00" cy="522.40" r="1.80" fill="#F02020" stroke="none" stroke-width="0.5"/>
<text x="497.0" y="524.9" font-size="7.8">3xTg-AD</text>
<circle cx="573.50" cy="522.40" r="1.80" fill="#5EE048" stroke="none" stroke-width="0.5"/>
<text x="585.9" y="524.9" font-size="7.8">3xTg-AD+β-OHB</text>
</svg></body></html>
